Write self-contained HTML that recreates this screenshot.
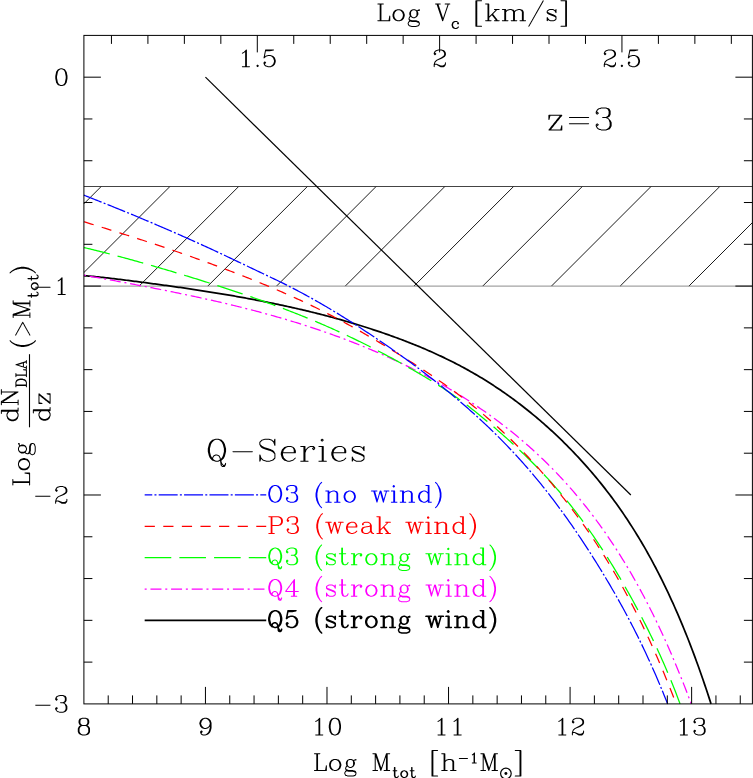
<!DOCTYPE html>
<html><head><meta charset="utf-8"><title>plot</title>
<style>html,body{margin:0;padding:0;background:#fff;font-family:"Liberation Sans",sans-serif}svg{display:block}</style></head>
<body>
<svg width="753" height="778" viewBox="0 0 753 778">
<rect width="753" height="778" fill="#fff"/>
<g stroke="#000" stroke-width="0.9" fill="none">
<line x1="83.9" y1="203.8" x2="101.2" y2="186.5"/>
<line x1="83.9" y1="272.53" x2="169.93" y2="186.5"/>
<line x1="139.06" y1="286.1" x2="238.66" y2="186.5"/>
<line x1="207.79" y1="286.1" x2="307.39" y2="186.5"/>
<line x1="276.52" y1="286.1" x2="376.12" y2="186.5"/>
<line x1="345.25" y1="286.1" x2="444.85" y2="186.5"/>
<line x1="413.98" y1="286.1" x2="513.58" y2="186.5"/>
<line x1="482.71" y1="286.1" x2="582.31" y2="186.5"/>
<line x1="551.44" y1="286.1" x2="651.04" y2="186.5"/>
<line x1="620.17" y1="286.1" x2="719.77" y2="186.5"/>
<line x1="688.9" y1="286.1" x2="752.4" y2="222.6"/>
</g>
<line x1="83.9" y1="186.5" x2="752.4" y2="186.5" stroke="#222" stroke-width="0.85"/>
<line x1="83.9" y1="286.1" x2="752.4" y2="286.1" stroke="#777" stroke-width="0.85"/>
<line x1="205.45" y1="77.18" x2="630.85" y2="494.99" stroke="#000" stroke-width="1.2"/>
<g fill="none" stroke-linecap="butt" stroke-linejoin="round">
<path stroke="#000" stroke-width="1.75" d="M83.9 275.65L85.48 275.78L87.06 275.92L88.64 276.05L90.22 276.2L91.8 276.34L93.38 276.49L94.95 276.65L96.53 276.81L98.11 276.97L99.69 277.13L101.27 277.3L102.85 277.47L104.43 277.64L106.01 277.81L107.59 277.99L109.17 278.17L110.75 278.35L112.33 278.53L113.9 278.72L115.48 278.9L117.06 279.09L118.64 279.28L120.22 279.47L121.8 279.67L123.38 279.86L124.96 280.06L126.54 280.25L128.12 280.45L129.7 280.65L131.28 280.85L132.86 281.06L134.43 281.26L136.01 281.46L137.59 281.67L139.17 281.87L140.75 282.08L142.33 282.29L143.91 282.5L145.49 282.71L147.07 282.92L148.65 283.13L150.23 283.34L151.81 283.55L153.38 283.76L154.96 283.98L156.54 284.19L158.12 284.4L159.7 284.62L161.28 284.84L162.86 285.05L164.44 285.27L166.02 285.49L167.6 285.71L169.18 285.93L170.76 286.15L172.34 286.37L173.91 286.59L175.49 286.82L177.07 287.04L178.65 287.26L180.23 287.49L181.81 287.72L183.39 287.95L184.97 288.17L186.55 288.4L188.13 288.64L189.71 288.87L191.29 289.1L192.86 289.34L194.44 289.57L196.02 289.81L197.6 290.05L199.18 290.29L200.76 290.53L202.34 290.78L203.92 291.02L205.5 291.27L207.08 291.52L208.66 291.77L210.24 292.02L211.82 292.27L213.39 292.53L214.97 292.78L216.55 293.04L218.13 293.3L219.71 293.56L221.29 293.82L222.87 294.09L224.45 294.35L226.03 294.62L227.61 294.89L229.19 295.16L230.77 295.43L232.34 295.71L233.92 295.98L235.5 296.26L237.08 296.54L238.66 296.82L240.24 297.1L241.82 297.39L243.4 297.67L244.98 297.96L246.56 298.25L248.14 298.54L249.72 298.84L251.29 299.13L252.87 299.43L254.45 299.73L256.03 300.03L257.61 300.33L259.19 300.64L260.77 300.94L262.35 301.25L263.93 301.56L265.51 301.88L267.09 302.19L268.67 302.51L270.25 302.83L271.82 303.15L273.4 303.47L274.98 303.8L276.56 304.13L278.14 304.46L279.72 304.79L281.3 305.13L282.88 305.47L284.46 305.81L286.04 306.15L287.62 306.5L289.2 306.84L290.77 307.19L292.35 307.55L293.93 307.9L295.51 308.26L297.09 308.62L298.67 308.98L300.25 309.35L301.83 309.72L303.41 310.09L304.99 310.47L306.57 310.84L308.15 311.22L309.73 311.6L311.3 311.99L312.88 312.38L314.46 312.77L316.04 313.17L317.62 313.56L319.2 313.96L320.78 314.37L322.36 314.77L323.94 315.18L325.52 315.6L327.1 316.01L328.68 316.43L330.25 316.85L331.83 317.28L333.41 317.71L334.99 318.14L336.57 318.58L338.15 319.01L339.73 319.46L341.31 319.9L342.89 320.35L344.47 320.8L346.05 321.26L347.63 321.72L349.21 322.18L350.78 322.64L352.36 323.11L353.94 323.59L355.52 324.06L357.1 324.54L358.68 325.03L360.26 325.52L361.84 326.01L363.42 326.5L365 327L366.58 327.5L368.16 328.01L369.73 328.52L371.31 329.03L372.89 329.55L374.47 330.07L376.05 330.59L377.63 331.12L379.21 331.65L380.79 332.19L382.37 332.73L383.95 333.27L385.53 333.82L387.11 334.37L388.69 334.93L390.26 335.49L391.84 336.06L393.42 336.63L395 337.2L396.58 337.78L398.16 338.36L399.74 338.95L401.32 339.54L402.9 340.14L404.48 340.74L406.06 341.35L407.64 341.96L409.21 342.58L410.79 343.2L412.37 343.83L413.95 344.46L415.53 345.1L417.11 345.75L418.69 346.4L420.27 347.06L421.85 347.72L423.43 348.39L425.01 349.06L426.59 349.74L428.17 350.43L429.74 351.12L431.32 351.82L432.9 352.53L434.48 353.24L436.06 353.96L437.64 354.68L439.22 355.42L440.8 356.16L442.38 356.9L443.96 357.66L445.54 358.42L447.12 359.18L448.69 359.96L450.27 360.74L451.85 361.53L453.43 362.33L455.01 363.14L456.59 363.95L458.17 364.77L459.75 365.6L461.33 366.44L462.91 367.29L464.49 368.14L466.07 369L467.65 369.88L469.22 370.76L470.8 371.64L472.38 372.54L473.96 373.45L475.54 374.37L477.12 375.29L478.7 376.23L480.28 377.17L481.86 378.12L483.44 379.09L485.02 380.06L486.6 381.04L488.17 382.04L489.75 383.04L491.33 384.05L492.91 385.08L494.49 386.11L496.07 387.15L497.65 388.21L499.23 389.27L500.81 390.34L502.39 391.43L503.97 392.52L505.55 393.63L507.13 394.74L508.7 395.87L510.28 397L511.86 398.15L513.44 399.31L515.02 400.48L516.6 401.66L518.18 402.85L519.76 404.05L521.34 405.26L522.92 406.48L524.5 407.72L526.08 408.96L527.65 410.22L529.23 411.49L530.81 412.77L532.39 414.06L533.97 415.36L535.55 416.68L537.13 418L538.71 419.34L540.29 420.69L541.87 422.06L543.45 423.44L545.03 424.82L546.61 426.23L548.18 427.64L549.76 429.07L551.34 430.51L552.92 431.96L554.5 433.43L556.08 434.91L557.66 436.41L559.24 437.91L560.82 439.44L562.4 440.97L563.98 442.53L565.56 444.09L567.13 445.67L568.71 447.27L570.29 448.88L571.87 450.51L573.45 452.15L575.03 453.8L576.61 455.48L578.19 457.17L579.77 458.87L581.35 460.6L582.93 462.34L584.51 464.09L586.08 465.87L587.66 467.66L589.24 469.47L590.82 471.3L592.4 473.14L593.98 475.01L595.56 476.89L597.14 478.8L598.72 480.72L600.3 482.67L601.88 484.64L603.46 486.62L605.04 488.63L606.61 490.67L608.19 492.72L609.77 494.8L611.35 496.9L612.93 499.03L614.51 501.18L616.09 503.35L617.67 505.55L619.25 507.78L620.83 510.04L622.41 512.32L623.99 514.63L625.56 516.97L627.14 519.33L628.72 521.73L630.3 524.16L631.88 526.61L633.46 529.1L635.04 531.62L636.62 534.17L638.2 536.76L639.78 539.37L641.36 542.03L642.94 544.71L644.52 547.43L646.09 550.19L647.67 552.99L649.25 555.82L650.83 558.69L652.41 561.6L653.99 564.54L655.57 567.53L657.15 570.56L658.73 573.63L660.31 576.74L661.89 579.89L663.47 583.09L665.04 586.33L666.62 589.62L668.2 592.95L669.78 596.33L671.36 599.76L672.94 603.23L674.52 606.75L676.1 610.32L677.68 613.95L679.26 617.62L680.84 621.35L682.42 625.13L684 628.96L685.57 632.85L687.15 636.79L688.73 640.8L690.31 644.85L691.89 648.97L693.47 653.14L695.05 657.38L696.63 661.68L698.21 666.04L699.79 670.46L701.37 674.95L702.95 679.5L704.52 684.11L706.1 688.8L707.68 693.55L709.26 698.37L710.84 703.27L711.05 703.9"/>
<path stroke="#ff00ff" stroke-width="1.25" stroke-dasharray="2 3.8 11 3.8" d="M83.9 275.14L85.43 275.42L86.96 275.69L88.49 275.97L90.02 276.25L91.55 276.52L93.08 276.8L94.61 277.08L96.14 277.35L97.67 277.63L99.2 277.91L100.73 278.19L102.26 278.47L103.79 278.75L105.32 279.03L106.85 279.31L108.38 279.59L109.91 279.87L111.44 280.16L112.97 280.44L114.5 280.72L116.03 281.01L117.56 281.29L119.09 281.57L120.62 281.86L122.15 282.15L123.68 282.43L125.21 282.72L126.74 283.01L128.27 283.29L129.8 283.58L131.33 283.87L132.86 284.16L134.39 284.45L135.92 284.74L137.45 285.03L138.98 285.32L140.51 285.62L142.04 285.91L143.57 286.2L145.1 286.5L146.63 286.8L148.16 287.09L149.69 287.39L151.22 287.69L152.75 287.98L154.28 288.28L155.81 288.58L157.34 288.89L158.87 289.19L160.4 289.49L161.93 289.79L163.46 290.1L164.99 290.4L166.52 290.71L168.05 291.02L169.58 291.33L171.11 291.64L172.64 291.95L174.17 292.26L175.7 292.57L177.23 292.89L178.76 293.2L180.29 293.52L181.82 293.83L183.35 294.15L184.88 294.47L186.42 294.79L187.95 295.12L189.48 295.44L191.01 295.76L192.54 296.09L194.07 296.42L195.6 296.75L197.13 297.08L198.66 297.41L200.19 297.74L201.72 298.08L203.25 298.41L204.78 298.75L206.31 299.09L207.84 299.43L209.37 299.77L210.9 300.12L212.43 300.46L213.96 300.81L215.49 301.16L217.02 301.51L218.55 301.86L220.08 302.22L221.61 302.57L223.14 302.93L224.67 303.29L226.2 303.65L227.73 304.02L229.26 304.38L230.79 304.75L232.32 305.12L233.85 305.49L235.38 305.86L236.91 306.24L238.44 306.62L239.97 307L241.5 307.38L243.03 307.76L244.56 308.15L246.09 308.54L247.62 308.93L249.15 309.32L250.68 309.71L252.21 310.11L253.74 310.51L255.27 310.91L256.8 311.31L258.33 311.72L259.86 312.13L261.39 312.54L262.92 312.95L264.45 313.37L265.98 313.79L267.51 314.21L269.04 314.63L270.57 315.06L272.1 315.49L273.63 315.92L275.16 316.35L276.69 316.79L278.22 317.23L279.75 317.67L281.28 318.11L282.81 318.56L284.34 319.01L285.87 319.46L287.4 319.92L288.93 320.38L290.46 320.84L291.99 321.3L293.52 321.77L295.05 322.24L296.58 322.71L298.11 323.18L299.64 323.66L301.17 324.14L302.7 324.63L304.23 325.12L305.76 325.61L307.29 326.1L308.82 326.6L310.35 327.1L311.88 327.6L313.41 328.11L314.94 328.62L316.47 329.13L318 329.64L319.53 330.16L321.06 330.68L322.59 331.21L324.12 331.74L325.65 332.27L327.18 332.81L328.71 333.35L330.24 333.89L331.77 334.43L333.3 334.98L334.83 335.54L336.36 336.09L337.89 336.65L339.42 337.21L340.95 337.78L342.48 338.35L344.01 338.93L345.54 339.5L347.07 340.08L348.6 340.67L350.13 341.26L351.66 341.85L353.19 342.45L354.72 343.05L356.25 343.65L357.78 344.26L359.31 344.87L360.84 345.48L362.37 346.1L363.9 346.73L365.43 347.35L366.96 347.99L368.49 348.62L370.02 349.26L371.55 349.9L373.08 350.55L374.61 351.2L376.14 351.86L377.67 352.52L379.2 353.18L380.73 353.85L382.26 354.52L383.79 355.2L385.32 355.88L386.85 356.57L388.38 357.26L389.92 357.95L391.45 358.65L392.98 359.36L394.51 360.07L396.04 360.78L397.57 361.5L399.1 362.22L400.63 362.95L402.16 363.68L403.69 364.41L405.22 365.15L406.75 365.9L408.28 366.65L409.81 367.41L411.34 368.17L412.87 368.94L414.4 369.71L415.93 370.48L417.46 371.26L418.99 372.05L420.52 372.84L422.05 373.64L423.58 374.44L425.11 375.25L426.64 376.06L428.17 376.88L429.7 377.71L431.23 378.54L432.76 379.37L434.29 380.21L435.82 381.06L437.35 381.91L438.88 382.77L440.41 383.64L441.94 384.51L443.47 385.39L445 386.27L446.53 387.16L448.06 388.05L449.59 388.95L451.12 389.86L452.65 390.78L454.18 391.7L455.71 392.63L457.24 393.56L458.77 394.5L460.3 395.45L461.83 396.4L463.36 397.37L464.89 398.33L466.42 399.31L467.95 400.29L469.48 401.28L471.01 402.28L472.54 403.28L474.07 404.3L475.6 405.32L477.13 406.34L478.66 407.38L480.19 408.42L481.72 409.47L483.25 410.53L484.78 411.6L486.31 412.68L487.84 413.76L489.37 414.85L490.9 415.95L492.43 417.06L493.96 418.18L495.49 419.31L497.02 420.44L498.55 421.59L500.08 422.74L501.61 423.91L503.14 425.08L504.67 426.26L506.2 427.46L507.73 428.66L509.26 429.87L510.79 431.09L512.32 432.32L513.85 433.57L515.38 434.82L516.91 436.08L518.44 437.36L519.97 438.64L521.5 439.94L523.03 441.25L524.56 442.56L526.09 443.89L527.62 445.23L529.15 446.59L530.68 447.95L532.21 449.33L533.74 450.72L535.27 452.12L536.8 453.53L538.33 454.96L539.86 456.4L541.39 457.85L542.92 459.32L544.45 460.8L545.98 462.29L547.51 463.8L549.04 465.32L550.57 466.85L552.1 468.4L553.63 469.96L555.16 471.54L556.69 473.13L558.22 474.74L559.75 476.37L561.28 478L562.81 479.66L564.34 481.33L565.87 483.02L567.4 484.72L568.93 486.44L570.46 488.17L571.99 489.93L573.52 491.7L575.05 493.49L576.58 495.29L578.11 497.12L579.64 498.96L581.17 500.82L582.7 502.7L584.23 504.6L585.76 506.51L587.29 508.45L588.82 510.41L590.35 512.39L591.88 514.38L593.42 516.4L594.95 518.44L596.48 520.5L598.01 522.58L599.54 524.68L601.07 526.81L602.6 528.96L604.13 531.13L605.66 533.32L607.19 535.54L608.72 537.78L610.25 540.04L611.78 542.33L613.31 544.64L614.84 546.98L616.37 549.34L617.9 551.73L619.43 554.14L620.96 556.58L622.49 559.05L624.02 561.54L625.55 564.06L627.08 566.61L628.61 569.19L630.14 571.79L631.67 574.43L633.2 577.09L634.73 579.78L636.26 582.51L637.79 585.26L639.32 588.04L640.85 590.86L642.38 593.7L643.91 596.58L645.44 599.49L646.97 602.44L648.5 605.41L650.03 608.42L651.56 611.47L653.09 614.55L654.62 617.66L656.15 620.81L657.68 624L659.21 627.22L660.74 630.48L662.27 633.78L663.8 637.11L665.33 640.48L666.86 643.89L668.39 647.34L669.92 650.83L671.45 654.36L672.98 657.94L674.51 661.55L676.04 665.2L677.57 668.9L679.1 672.64L680.63 676.42L682.16 680.25L683.69 684.12L685.22 688.04L686.75 692.01L688.28 696.01L689.81 700.07L691.24 703.9"/>
<path stroke="#00ff00" stroke-width="1.25" stroke-dasharray="26.6 8.1" d="M83.9 247.55L85.4 247.9L86.9 248.25L88.4 248.61L89.91 248.97L91.41 249.34L92.91 249.7L94.41 250.07L95.91 250.44L97.41 250.82L98.92 251.19L100.42 251.57L101.92 251.95L103.42 252.34L104.92 252.72L106.42 253.11L107.92 253.5L109.43 253.89L110.93 254.28L112.43 254.68L113.93 255.07L115.43 255.47L116.93 255.87L118.43 256.28L119.94 256.68L121.44 257.08L122.94 257.49L124.44 257.9L125.94 258.31L127.44 258.72L128.95 259.13L130.45 259.55L131.95 259.96L133.45 260.38L134.95 260.8L136.45 261.22L137.95 261.64L139.46 262.06L140.96 262.49L142.46 262.91L143.96 263.34L145.46 263.77L146.96 264.2L148.46 264.63L149.97 265.06L151.47 265.49L152.97 265.92L154.47 266.36L155.97 266.79L157.47 267.23L158.98 267.67L160.48 268.11L161.98 268.55L163.48 268.99L164.98 269.43L166.48 269.87L167.98 270.32L169.49 270.76L170.99 271.21L172.49 271.66L173.99 272.1L175.49 272.55L176.99 273.01L178.49 273.46L180 273.91L181.5 274.37L183 274.82L184.5 275.28L186 275.73L187.5 276.19L189.01 276.65L190.51 277.11L192.01 277.58L193.51 278.04L195.01 278.5L196.51 278.97L198.01 279.44L199.52 279.91L201.02 280.37L202.52 280.85L204.02 281.32L205.52 281.79L207.02 282.27L208.52 282.74L210.03 283.22L211.53 283.7L213.03 284.18L214.53 284.66L216.03 285.14L217.53 285.62L219.04 286.11L220.54 286.6L222.04 287.09L223.54 287.58L225.04 288.07L226.54 288.56L228.04 289.06L229.55 289.55L231.05 290.05L232.55 290.55L234.05 291.05L235.55 291.55L237.05 292.06L238.55 292.56L240.06 293.07L241.56 293.58L243.06 294.09L244.56 294.61L246.06 295.12L247.56 295.64L249.07 296.16L250.57 296.68L252.07 297.2L253.57 297.73L255.07 298.25L256.57 298.78L258.07 299.31L259.58 299.84L261.08 300.38L262.58 300.92L264.08 301.46L265.58 302L267.08 302.54L268.58 303.09L270.09 303.64L271.59 304.19L273.09 304.74L274.59 305.3L276.09 305.85L277.59 306.41L279.1 306.98L280.6 307.54L282.1 308.11L283.6 308.68L285.1 309.25L286.6 309.83L288.1 310.41L289.61 310.99L291.11 311.57L292.61 312.16L294.11 312.74L295.61 313.34L297.11 313.93L298.62 314.53L300.12 315.13L301.62 315.73L303.12 316.34L304.62 316.94L306.12 317.56L307.62 318.17L309.13 318.79L310.63 319.41L312.13 320.03L313.63 320.66L315.13 321.29L316.63 321.92L318.13 322.56L319.64 323.2L321.14 323.84L322.64 324.49L324.14 325.14L325.64 325.79L327.14 326.45L328.65 327.11L330.15 327.77L331.65 328.44L333.15 329.11L334.65 329.78L336.15 330.46L337.65 331.14L339.16 331.83L340.66 332.52L342.16 333.21L343.66 333.9L345.16 334.6L346.66 335.31L348.16 336.01L349.67 336.72L351.17 337.44L352.67 338.16L354.17 338.88L355.67 339.61L357.17 340.34L358.68 341.07L360.18 341.81L361.68 342.55L363.18 343.29L364.68 344.04L366.18 344.79L367.68 345.55L369.19 346.31L370.69 347.07L372.19 347.84L373.69 348.61L375.19 349.38L376.69 350.16L378.19 350.94L379.7 351.72L381.2 352.51L382.7 353.3L384.2 354.09L385.7 354.89L387.2 355.69L388.71 356.49L390.21 357.3L391.71 358.11L393.21 358.92L394.71 359.74L396.21 360.56L397.71 361.39L399.22 362.21L400.72 363.04L402.22 363.88L403.72 364.72L405.22 365.56L406.72 366.4L408.22 367.25L409.73 368.1L411.23 368.95L412.73 369.8L414.23 370.67L415.73 371.53L417.23 372.4L418.74 373.27L420.24 374.15L421.74 375.03L423.24 375.92L424.74 376.81L426.24 377.71L427.74 378.62L429.25 379.53L430.75 380.45L432.25 381.37L433.75 382.3L435.25 383.24L436.75 384.18L438.25 385.14L439.76 386.1L441.26 387.06L442.76 388.04L444.26 389.02L445.76 390.02L447.26 391.02L448.77 392.03L450.27 393.05L451.77 394.08L453.27 395.12L454.77 396.17L456.27 397.23L457.77 398.31L459.28 399.39L460.78 400.48L462.28 401.59L463.78 402.7L465.28 403.83L466.78 404.97L468.28 406.12L469.79 407.29L471.29 408.46L472.79 409.65L474.29 410.84L475.79 412.05L477.29 413.26L478.8 414.48L480.3 415.71L481.8 416.95L483.3 418.19L484.8 419.44L486.3 420.69L487.8 421.95L489.31 423.22L490.81 424.49L492.31 425.76L493.81 427.04L495.31 428.33L496.81 429.62L498.32 430.92L499.82 432.22L501.32 433.53L502.82 434.85L504.32 436.18L505.82 437.51L507.32 438.85L508.83 440.2L510.33 441.56L511.83 442.92L513.33 444.29L514.83 445.67L516.33 447.06L517.83 448.46L519.34 449.87L520.84 451.29L522.34 452.71L523.84 454.15L525.34 455.6L526.84 457.06L528.35 458.53L529.85 460L531.35 461.5L532.85 463L534.35 464.51L535.85 466.04L537.35 467.57L538.86 469.12L540.36 470.69L541.86 472.26L543.36 473.85L544.86 475.45L546.36 477.07L547.86 478.7L549.37 480.34L550.87 482L552.37 483.68L553.87 485.36L555.37 487.07L556.87 488.79L558.38 490.52L559.88 492.27L561.38 494.04L562.88 495.83L564.38 497.63L565.88 499.45L567.38 501.28L568.89 503.14L570.39 505.01L571.89 506.9L573.39 508.81L574.89 510.74L576.39 512.69L577.89 514.66L579.4 516.65L580.9 518.66L582.4 520.69L583.9 522.73L585.4 524.8L586.9 526.88L588.41 528.99L589.91 531.12L591.41 533.26L592.91 535.43L594.41 537.61L595.91 539.82L597.41 542.05L598.92 544.29L600.42 546.56L601.92 548.85L603.42 551.16L604.92 553.48L606.42 555.83L607.92 558.2L609.43 560.59L610.93 563.01L612.43 565.44L613.93 567.9L615.43 570.37L616.93 572.87L618.44 575.39L619.94 577.93L621.44 580.49L622.94 583.08L624.44 585.69L625.94 588.32L627.44 590.97L628.95 593.65L630.45 596.34L631.95 599.07L633.45 601.81L634.95 604.58L636.45 607.37L637.95 610.19L639.46 613.03L640.96 615.89L642.46 618.78L643.96 621.7L645.46 624.65L646.96 627.63L648.47 630.64L649.97 633.68L651.47 636.76L652.97 639.88L654.47 643.03L655.97 646.22L657.47 649.45L658.98 652.72L660.48 656.04L661.98 659.4L663.48 662.8L664.98 666.25L666.48 669.75L667.98 673.3L669.49 676.9L670.99 680.56L672.49 684.27L673.99 688.03L675.49 691.85L676.99 695.73L678.5 699.66L680 703.66L680.09 703.9"/>
<path stroke="#ff0000" stroke-width="1.25" stroke-dasharray="10.2 8.4" d="M83.9 221.76L85.39 222.21L86.88 222.67L88.37 223.13L89.87 223.59L91.36 224.05L92.85 224.51L94.34 224.97L95.83 225.43L97.32 225.89L98.81 226.35L100.31 226.81L101.8 227.27L103.29 227.73L104.78 228.2L106.27 228.66L107.76 229.13L109.26 229.59L110.75 230.06L112.24 230.52L113.73 230.99L115.22 231.46L116.71 231.93L118.2 232.4L119.7 232.87L121.19 233.34L122.68 233.81L124.17 234.28L125.66 234.75L127.15 235.23L128.64 235.7L130.14 236.18L131.63 236.66L133.12 237.14L134.61 237.61L136.1 238.09L137.59 238.58L139.08 239.06L140.58 239.54L142.07 240.03L143.56 240.51L145.05 241L146.54 241.48L148.03 241.97L149.53 242.46L151.02 242.95L152.51 243.45L154 243.94L155.49 244.43L156.98 244.93L158.47 245.43L159.97 245.92L161.46 246.42L162.95 246.93L164.44 247.43L165.93 247.93L167.42 248.44L168.91 248.94L170.41 249.45L171.9 249.96L173.39 250.47L174.88 250.98L176.37 251.49L177.86 252.01L179.35 252.52L180.85 253.04L182.34 253.56L183.83 254.08L185.32 254.6L186.81 255.12L188.3 255.65L189.79 256.17L191.29 256.7L192.78 257.23L194.27 257.76L195.76 258.29L197.25 258.83L198.74 259.36L200.24 259.9L201.73 260.44L203.22 260.98L204.71 261.52L206.2 262.06L207.69 262.61L209.18 263.15L210.68 263.7L212.17 264.25L213.66 264.8L215.15 265.35L216.64 265.91L218.13 266.46L219.62 267.02L221.12 267.58L222.61 268.14L224.1 268.7L225.59 269.27L227.08 269.84L228.57 270.4L230.06 270.97L231.56 271.54L233.05 272.12L234.54 272.69L236.03 273.27L237.52 273.85L239.01 274.43L240.51 275.01L242 275.59L243.49 276.18L244.98 276.76L246.47 277.35L247.96 277.94L249.45 278.54L250.95 279.13L252.44 279.73L253.93 280.32L255.42 280.92L256.91 281.53L258.4 282.13L259.89 282.74L261.39 283.35L262.88 283.96L264.37 284.57L265.86 285.19L267.35 285.81L268.84 286.43L270.33 287.06L271.83 287.68L273.32 288.31L274.81 288.95L276.3 289.58L277.79 290.22L279.28 290.86L280.78 291.51L282.27 292.16L283.76 292.81L285.25 293.46L286.74 294.12L288.23 294.78L289.72 295.44L291.22 296.11L292.71 296.78L294.2 297.46L295.69 298.13L297.18 298.82L298.67 299.5L300.16 300.19L301.66 300.88L303.15 301.58L304.64 302.28L306.13 302.99L307.62 303.7L309.11 304.41L310.6 305.13L312.1 305.85L313.59 306.58L315.08 307.31L316.57 308.04L318.06 308.78L319.55 309.52L321.05 310.27L322.54 311.02L324.03 311.78L325.52 312.54L327.01 313.3L328.5 314.07L329.99 314.84L331.49 315.61L332.98 316.39L334.47 317.18L335.96 317.96L337.45 318.75L338.94 319.55L340.43 320.35L341.93 321.15L343.42 321.96L344.91 322.77L346.4 323.58L347.89 324.4L349.38 325.22L350.87 326.04L352.37 326.87L353.86 327.7L355.35 328.54L356.84 329.37L358.33 330.21L359.82 331.06L361.32 331.91L362.81 332.76L364.3 333.62L365.79 334.47L367.28 335.34L368.77 336.2L370.26 337.07L371.76 337.94L373.25 338.81L374.74 339.69L376.23 340.57L377.72 341.46L379.21 342.34L380.7 343.24L382.2 344.13L383.69 345.03L385.18 345.92L386.67 346.83L388.16 347.73L389.65 348.64L391.14 349.55L392.64 350.47L394.13 351.39L395.62 352.31L397.11 353.23L398.6 354.16L400.09 355.08L401.58 356.02L403.08 356.95L404.57 357.89L406.06 358.83L407.55 359.77L409.04 360.72L410.53 361.67L412.03 362.62L413.52 363.58L415.01 364.54L416.5 365.5L417.99 366.46L419.48 367.43L420.97 368.41L422.47 369.38L423.96 370.37L425.45 371.35L426.94 372.34L428.43 373.33L429.92 374.33L431.41 375.34L432.91 376.35L434.4 377.36L435.89 378.38L437.38 379.4L438.87 380.43L440.36 381.47L441.85 382.51L443.35 383.55L444.84 384.61L446.33 385.67L447.82 386.73L449.31 387.8L450.8 388.88L452.3 389.97L453.79 391.06L455.28 392.16L456.77 393.27L458.26 394.38L459.75 395.5L461.24 396.63L462.74 397.77L464.23 398.92L465.72 400.07L467.21 401.23L468.7 402.4L470.19 403.58L471.68 404.77L473.18 405.97L474.67 407.17L476.16 408.39L477.65 409.62L479.14 410.85L480.63 412.1L482.12 413.35L483.62 414.62L485.11 415.89L486.6 417.18L488.09 418.47L489.58 419.77L491.07 421.09L492.57 422.41L494.06 423.74L495.55 425.09L497.04 426.44L498.53 427.81L500.02 429.18L501.51 430.56L503.01 431.96L504.5 433.36L505.99 434.78L507.48 436.21L508.97 437.64L510.46 439.09L511.95 440.55L513.45 442.02L514.94 443.49L516.43 444.98L517.92 446.49L519.41 448L520.9 449.52L522.39 451.05L523.89 452.6L525.38 454.16L526.87 455.72L528.36 457.3L529.85 458.9L531.34 460.5L532.84 462.11L534.33 463.74L535.82 465.38L537.31 467.03L538.8 468.69L540.29 470.36L541.78 472.05L543.28 473.75L544.77 475.46L546.26 477.19L547.75 478.92L549.24 480.67L550.73 482.44L552.22 484.21L553.72 486L555.21 487.81L556.7 489.62L558.19 491.45L559.68 493.3L561.17 495.15L562.66 497.03L564.16 498.91L565.65 500.81L567.14 502.73L568.63 504.65L570.12 506.6L571.61 508.56L573.11 510.54L574.6 512.53L576.09 514.54L577.58 516.56L579.07 518.6L580.56 520.66L582.05 522.74L583.55 524.83L585.04 526.94L586.53 529.07L588.02 531.22L589.51 533.39L591 535.58L592.49 537.79L593.99 540.01L595.48 542.26L596.97 544.53L598.46 546.82L599.95 549.12L601.44 551.46L602.93 553.81L604.43 556.18L605.92 558.58L607.41 561L608.9 563.45L610.39 565.91L611.88 568.4L613.37 570.92L614.87 573.46L616.36 576.02L617.85 578.61L619.34 581.23L620.83 583.87L622.32 586.54L623.82 589.23L625.31 591.96L626.8 594.71L628.29 597.48L629.78 600.29L631.27 603.12L632.76 605.99L634.26 608.88L635.75 611.8L637.24 614.76L638.73 617.74L640.22 620.76L641.71 623.8L643.2 626.88L644.7 629.99L646.19 633.14L647.68 636.32L649.17 639.53L650.66 642.77L652.15 646.05L653.64 649.37L655.14 652.72L656.63 656.1L658.12 659.52L659.61 662.98L661.1 666.48L662.59 670.01L664.09 673.59L665.58 677.2L667.07 680.85L668.56 684.54L670.05 688.27L671.54 692.04L673.03 695.85L674.53 699.7L676.02 703.6L676.13 703.9"/>
<path stroke="#0000ff" stroke-width="1.25" stroke-dasharray="19 2.2 2 2.2" d="M83.9 195.19L85.37 195.76L86.84 196.34L88.31 196.91L89.78 197.49L91.25 198.07L92.72 198.64L94.19 199.22L95.66 199.8L97.13 200.39L98.6 200.97L100.07 201.55L101.54 202.14L103.01 202.73L104.48 203.31L105.95 203.9L107.42 204.49L108.89 205.08L110.36 205.67L111.83 206.27L113.3 206.86L114.77 207.46L116.24 208.05L117.71 208.65L119.18 209.25L120.65 209.85L122.12 210.45L123.59 211.05L125.06 211.65L126.53 212.26L128 212.86L129.47 213.47L130.94 214.07L132.41 214.68L133.88 215.29L135.35 215.9L136.82 216.51L138.29 217.13L139.76 217.74L141.23 218.35L142.7 218.97L144.17 219.59L145.64 220.21L147.11 220.83L148.58 221.45L150.05 222.07L151.52 222.69L152.99 223.32L154.46 223.94L155.93 224.57L157.4 225.2L158.87 225.83L160.34 226.46L161.81 227.09L163.28 227.72L164.75 228.35L166.22 228.99L167.69 229.63L169.16 230.26L170.63 230.9L172.1 231.54L173.57 232.19L175.04 232.83L176.51 233.47L177.98 234.12L179.45 234.77L180.92 235.42L182.38 236.07L183.85 236.72L185.32 237.37L186.79 238.02L188.26 238.68L189.73 239.34L191.2 239.99L192.67 240.65L194.14 241.32L195.61 241.98L197.08 242.64L198.55 243.31L200.02 243.97L201.49 244.64L202.96 245.31L204.43 245.99L205.9 246.66L207.37 247.33L208.84 248.01L210.31 248.69L211.78 249.37L213.25 250.05L214.72 250.73L216.19 251.42L217.66 252.1L219.13 252.79L220.6 253.48L222.07 254.17L223.54 254.86L225.01 255.55L226.48 256.25L227.95 256.95L229.42 257.64L230.89 258.34L232.36 259.04L233.83 259.74L235.3 260.44L236.77 261.14L238.24 261.84L239.71 262.54L241.18 263.24L242.65 263.95L244.12 264.65L245.59 265.35L247.06 266.05L248.53 266.76L250 267.46L251.47 268.16L252.94 268.86L254.41 269.56L255.88 270.26L257.35 270.96L258.82 271.66L260.29 272.36L261.76 273.06L263.23 273.75L264.7 274.45L266.17 275.15L267.64 275.85L269.11 276.54L270.58 277.24L272.05 277.94L273.52 278.65L274.99 279.35L276.46 280.06L277.93 280.77L279.4 281.48L280.87 282.2L282.34 282.92L283.81 283.65L285.28 284.38L286.75 285.11L288.22 285.85L289.69 286.6L291.16 287.35L292.63 288.11L294.1 288.87L295.57 289.63L297.04 290.4L298.51 291.18L299.98 291.96L301.45 292.75L302.92 293.54L304.39 294.33L305.86 295.13L307.33 295.94L308.8 296.75L310.27 297.56L311.74 298.38L313.21 299.21L314.68 300.03L316.15 300.87L317.62 301.7L319.09 302.55L320.56 303.39L322.03 304.24L323.5 305.1L324.97 305.96L326.44 306.82L327.91 307.69L329.38 308.56L330.85 309.44L332.32 310.32L333.79 311.2L335.26 312.09L336.73 312.99L338.2 313.88L339.67 314.78L341.14 315.69L342.61 316.6L344.08 317.51L345.55 318.43L347.02 319.35L348.49 320.27L349.96 321.2L351.43 322.13L352.9 323.07L354.37 324.01L355.84 324.95L357.31 325.9L358.78 326.85L360.25 327.8L361.72 328.76L363.19 329.72L364.66 330.68L366.13 331.65L367.6 332.62L369.07 333.6L370.54 334.57L372.01 335.56L373.48 336.54L374.95 337.53L376.42 338.52L377.88 339.51L379.35 340.51L380.82 341.51L382.29 342.52L383.76 343.52L385.23 344.53L386.7 345.55L388.17 346.57L389.64 347.59L391.11 348.61L392.58 349.64L394.05 350.67L395.52 351.71L396.99 352.74L398.46 353.79L399.93 354.83L401.4 355.88L402.87 356.94L404.34 357.99L405.81 359.06L407.28 360.12L408.75 361.19L410.22 362.27L411.69 363.35L413.16 364.43L414.63 365.52L416.1 366.61L417.57 367.7L419.04 368.8L420.51 369.91L421.98 371.02L423.45 372.13L424.92 373.25L426.39 374.38L427.86 375.5L429.33 376.64L430.8 377.78L432.27 378.92L433.74 380.07L435.21 381.22L436.68 382.38L438.15 383.55L439.62 384.72L441.09 385.89L442.56 387.07L444.03 388.26L445.5 389.45L446.97 390.65L448.44 391.85L449.91 393.06L451.38 394.28L452.85 395.5L454.32 396.73L455.79 397.96L457.26 399.2L458.73 400.45L460.2 401.7L461.67 402.96L463.14 404.23L464.61 405.5L466.08 406.78L467.55 408.07L469.02 409.36L470.49 410.66L471.96 411.97L473.43 413.29L474.9 414.61L476.37 415.94L477.84 417.28L479.31 418.63L480.78 419.98L482.25 421.35L483.72 422.72L485.19 424.1L486.66 425.49L488.13 426.88L489.6 428.29L491.07 429.71L492.54 431.13L494.01 432.56L495.48 434.01L496.95 435.46L498.42 436.92L499.89 438.4L501.36 439.88L502.83 441.37L504.3 442.87L505.77 444.39L507.24 445.91L508.71 447.45L510.18 448.99L511.65 450.55L513.12 452.11L514.59 453.69L516.06 455.28L517.53 456.89L519 458.5L520.47 460.13L521.94 461.76L523.41 463.41L524.88 465.08L526.35 466.75L527.82 468.44L529.29 470.14L530.76 471.85L532.23 473.58L533.7 475.32L535.17 477.08L536.64 478.84L538.11 480.63L539.58 482.42L541.05 484.23L542.52 486.06L543.99 487.9L545.46 489.75L546.93 491.61L548.4 493.49L549.87 495.39L551.34 497.29L552.81 499.22L554.28 501.15L555.75 503.1L557.22 505.07L558.69 507.04L560.16 509.04L561.63 511.04L563.1 513.06L564.57 515.1L566.04 517.15L567.51 519.21L568.98 521.29L570.45 523.38L571.92 525.48L573.38 527.61L574.85 529.74L576.32 531.89L577.79 534.05L579.26 536.23L580.73 538.42L582.2 540.63L583.67 542.85L585.14 545.09L586.61 547.34L588.08 549.61L589.55 551.89L591.02 554.19L592.49 556.5L593.96 558.83L595.43 561.17L596.9 563.53L598.37 565.9L599.84 568.29L601.31 570.69L602.78 573.11L604.25 575.54L605.72 577.99L607.19 580.46L608.66 582.94L610.13 585.44L611.6 587.96L613.07 590.5L614.54 593.05L616.01 595.63L617.48 598.22L618.95 600.84L620.42 603.48L621.89 606.14L623.36 608.82L624.83 611.53L626.3 614.26L627.77 617.01L629.24 619.8L630.71 622.61L632.18 625.44L633.65 628.31L635.12 631.2L636.59 634.12L638.06 637.07L639.53 640.06L641 643.07L642.47 646.12L643.94 649.2L645.41 652.31L646.88 655.46L648.35 658.64L649.82 661.86L651.29 665.11L652.76 668.4L654.23 671.73L655.7 675.1L657.17 678.51L658.64 681.96L660.11 685.45L661.58 688.98L663.05 692.55L664.52 696.17L665.99 699.83L667.46 703.53L667.61 703.9"/>
</g>
<line x1="144.67" y1="494.99" x2="266.22" y2="494.99" stroke="#0000ff" stroke-width="1.25" stroke-dasharray="19 2.2 2 2.2" stroke-dashoffset="11.4"/>
<line x1="144.67" y1="526.33" x2="266.22" y2="526.33" stroke="#ff0000" stroke-width="1.25" stroke-dasharray="10.2 8.4"/>
<line x1="144.67" y1="557.67" x2="266.22" y2="557.67" stroke="#00ff00" stroke-width="1.25" stroke-dasharray="26.6 8.1"/>
<line x1="144.67" y1="589" x2="266.22" y2="589" stroke="#ff00ff" stroke-width="1.25" stroke-dasharray="2 3.8 11 3.8"/>
<line x1="144.67" y1="620.34" x2="266.22" y2="620.34" stroke="#000" stroke-width="1.75"/>
<g stroke="#000" stroke-width="1.0" fill="none">
<rect x="83.9" y="35.4" width="668.5" height="668.5"/>
<line x1="108.21" y1="703.9" x2="108.21" y2="695.4"/>
<line x1="132.52" y1="703.9" x2="132.52" y2="695.4"/>
<line x1="156.83" y1="703.9" x2="156.83" y2="695.4"/>
<line x1="181.14" y1="703.9" x2="181.14" y2="695.4"/>
<line x1="205.45" y1="703.9" x2="205.45" y2="686.9"/>
<line x1="229.75" y1="703.9" x2="229.75" y2="695.4"/>
<line x1="254.06" y1="703.9" x2="254.06" y2="695.4"/>
<line x1="278.37" y1="703.9" x2="278.37" y2="695.4"/>
<line x1="302.68" y1="703.9" x2="302.68" y2="695.4"/>
<line x1="326.99" y1="703.9" x2="326.99" y2="686.9"/>
<line x1="351.3" y1="703.9" x2="351.3" y2="695.4"/>
<line x1="375.61" y1="703.9" x2="375.61" y2="695.4"/>
<line x1="399.92" y1="703.9" x2="399.92" y2="695.4"/>
<line x1="424.23" y1="703.9" x2="424.23" y2="695.4"/>
<line x1="448.54" y1="703.9" x2="448.54" y2="686.9"/>
<line x1="472.85" y1="703.9" x2="472.85" y2="695.4"/>
<line x1="497.15" y1="703.9" x2="497.15" y2="695.4"/>
<line x1="521.46" y1="703.9" x2="521.46" y2="695.4"/>
<line x1="545.77" y1="703.9" x2="545.77" y2="695.4"/>
<line x1="570.08" y1="703.9" x2="570.08" y2="686.9"/>
<line x1="594.39" y1="703.9" x2="594.39" y2="695.4"/>
<line x1="618.7" y1="703.9" x2="618.7" y2="695.4"/>
<line x1="643.01" y1="703.9" x2="643.01" y2="695.4"/>
<line x1="667.32" y1="703.9" x2="667.32" y2="695.4"/>
<line x1="691.63" y1="703.9" x2="691.63" y2="686.9"/>
<line x1="715.94" y1="703.9" x2="715.94" y2="695.4"/>
<line x1="740.25" y1="703.9" x2="740.25" y2="695.4"/>
<line x1="111.45" y1="35.4" x2="111.45" y2="43.9"/>
<line x1="147.91" y1="35.4" x2="147.91" y2="43.9"/>
<line x1="184.37" y1="35.4" x2="184.37" y2="43.9"/>
<line x1="220.84" y1="35.4" x2="220.84" y2="43.9"/>
<line x1="257.3" y1="35.4" x2="257.3" y2="52.4"/>
<line x1="293.76" y1="35.4" x2="293.76" y2="43.9"/>
<line x1="330.23" y1="35.4" x2="330.23" y2="43.9"/>
<line x1="366.69" y1="35.4" x2="366.69" y2="43.9"/>
<line x1="403.15" y1="35.4" x2="403.15" y2="43.9"/>
<line x1="439.62" y1="35.4" x2="439.62" y2="52.4"/>
<line x1="476.08" y1="35.4" x2="476.08" y2="43.9"/>
<line x1="512.55" y1="35.4" x2="512.55" y2="43.9"/>
<line x1="549.01" y1="35.4" x2="549.01" y2="43.9"/>
<line x1="585.47" y1="35.4" x2="585.47" y2="43.9"/>
<line x1="621.94" y1="35.4" x2="621.94" y2="52.4"/>
<line x1="658.4" y1="35.4" x2="658.4" y2="43.9"/>
<line x1="694.86" y1="35.4" x2="694.86" y2="43.9"/>
<line x1="731.33" y1="35.4" x2="731.33" y2="43.9"/>
<line x1="83.9" y1="77.18" x2="100.9" y2="77.18"/>
<line x1="752.4" y1="77.18" x2="735.4" y2="77.18"/>
<line x1="83.9" y1="118.96" x2="92.4" y2="118.96"/>
<line x1="752.4" y1="118.96" x2="743.9" y2="118.96"/>
<line x1="83.9" y1="160.74" x2="92.4" y2="160.74"/>
<line x1="752.4" y1="160.74" x2="743.9" y2="160.74"/>
<line x1="83.9" y1="202.53" x2="92.4" y2="202.53"/>
<line x1="752.4" y1="202.53" x2="743.9" y2="202.53"/>
<line x1="83.9" y1="244.31" x2="92.4" y2="244.31"/>
<line x1="752.4" y1="244.31" x2="743.9" y2="244.31"/>
<line x1="83.9" y1="286.09" x2="100.9" y2="286.09"/>
<line x1="752.4" y1="286.09" x2="735.4" y2="286.09"/>
<line x1="83.9" y1="327.87" x2="92.4" y2="327.87"/>
<line x1="752.4" y1="327.87" x2="743.9" y2="327.87"/>
<line x1="83.9" y1="369.65" x2="92.4" y2="369.65"/>
<line x1="752.4" y1="369.65" x2="743.9" y2="369.65"/>
<line x1="83.9" y1="411.43" x2="92.4" y2="411.43"/>
<line x1="752.4" y1="411.43" x2="743.9" y2="411.43"/>
<line x1="83.9" y1="453.21" x2="92.4" y2="453.21"/>
<line x1="752.4" y1="453.21" x2="743.9" y2="453.21"/>
<line x1="83.9" y1="494.99" x2="100.9" y2="494.99"/>
<line x1="752.4" y1="494.99" x2="735.4" y2="494.99"/>
<line x1="83.9" y1="536.78" x2="92.4" y2="536.78"/>
<line x1="752.4" y1="536.78" x2="743.9" y2="536.78"/>
<line x1="83.9" y1="578.56" x2="92.4" y2="578.56"/>
<line x1="752.4" y1="578.56" x2="743.9" y2="578.56"/>
<line x1="83.9" y1="620.34" x2="92.4" y2="620.34"/>
<line x1="752.4" y1="620.34" x2="743.9" y2="620.34"/>
<line x1="83.9" y1="662.12" x2="92.4" y2="662.12"/>
<line x1="752.4" y1="662.12" x2="743.9" y2="662.12"/>
</g>
<g id="text">
<path transform="translate(376.16 20.8)" fill="#000" fill-rule="evenodd" d="M36.65 -11.62L34.89 -10.75L34.13 -10L33.25 -8.38L33.25 -8.12L33.12 -8L33.12 -6.38L33.75 -4.88L33.25 -4.38L32.37 -2.62L32.49 -2.5L32.37 -2.38L32.37 -1.62L32.49 -1.5L32.37 -1.38L33.12 0.12L33 0.25L32.75 0.25L32.37 0.62L32.12 1.25L31.86 1.5L31.49 2.38L31.49 3.12L32.37 5L32.49 5L32.62 5.25L32.87 5.38L33.12 5.38L33.25 5.5L33.5 5.5L33.63 5.62L33.88 5.62L34.76 6L35.14 6L35.26 6.12L40.05 6.12L40.18 6L40.43 6L40.55 5.88L42.32 5.38L42.95 5L43.7 3.5L43.58 3.25L43.7 3.12L43.7 2.38L43.58 2.25L43.7 2.12L42.95 0.62L42.44 0.25L42.19 0.25L42.07 0.12L41.81 0.12L41.69 0L41.44 0L41.31 -0.12L41.06 -0.12L40.18 -0.5L35.89 -0.5L35.77 -0.62L35.52 -0.62L35.39 -0.75L35.14 -0.75L35.01 -0.88L34.13 -1.12L33.38 -1.88L33.38 -2.38L34 -3.62L34.38 -4L34.51 -4L35.01 -3.5L36.9 -2.62L38.41 -2.62L40.3 -3.5L41.31 -4.5L42.19 -6.38L42.19 -8L41.44 -9.38L41.94 -9.88L43.2 -9.88L43.45 -10L43.7 -10.38L43.7 -11.12L43.45 -11.5L43.07 -11.62L41.31 -10.75L40.93 -10.38L40.81 -10.38L40.43 -10.75L38.66 -11.62L38.54 -11.5L38.41 -11.62L36.9 -11.62L36.78 -11.5ZM32.49 2.5L33.25 1.12L33.5 1.12L33.63 1L34.51 0.75L34.63 0.88L34.89 0.88L35.77 1.25L40.05 1.25L40.18 1.38L40.43 1.38L40.55 1.5L40.81 1.5L40.93 1.62L41.18 1.62L41.56 1.88L42.07 2L42.69 2.62L42.69 3.25L42.07 4.38L41.18 4.62L41.06 4.75L40.81 4.75L40.68 4.88L40.43 4.88L40.3 5L40.05 5L39.92 5.12L35.39 5.12L35.26 5L35.01 5L34.89 4.88L34.63 4.88L34.51 4.75L34.26 4.75L34.13 4.62L33.25 4.38L32.49 3ZM36.9 -10.62L38.29 -10.62L39.55 -10L39.8 -9.75L40.3 -8.75L40.3 -5.5L39.92 -4.75L39.42 -4.25L38.16 -3.62L37.03 -3.62L35.77 -4.25L35.52 -4.5L34.89 -5.75L34.89 -8.5L35.26 -9.12L35.26 -9.38L35.52 -9.88ZM21.41 -11.62L21.28 -11.5L21.03 -11.5L20.91 -11.38L20.65 -11.38L20.53 -11.25L20.28 -11.25L20.15 -11.12L19.9 -11.12L19.77 -11L18.89 -10.75L17.25 -9.12L17 -8.62L16.5 -6.88L16.37 -6.75L16.37 -4.38L16.5 -4.25L16.5 -4L16.62 -3.88L16.62 -3.62L16.75 -3.5L16.75 -3.25L16.88 -3.12L16.88 -2.88L17.25 -2L18.77 -0.5L18.89 -0.5L19.14 -0.25L19.4 -0.25L19.52 -0.12L19.77 -0.12L19.9 0L20.15 0L20.28 0.12L20.53 0.12L21.41 0.5L21.54 0.38L21.66 0.5L23.17 0.5L23.3 0.38L23.43 0.5L23.55 0.38L23.8 0.38L23.93 0.25L24.18 0.25L24.31 0.12L24.56 0.12L24.68 0L24.94 0L25.06 -0.12L25.94 -0.38L27.58 -2L27.83 -2.5L27.83 -2.75L27.96 -2.88L28.46 -4.62L28.59 -4.75L28.59 -6.38L28.46 -6.5L28.46 -6.75L28.34 -6.88L28.34 -7.12L28.21 -7.25L28.21 -7.5L28.09 -7.62L28.09 -7.88L27.96 -8L27.96 -8.25L27.58 -9.12L25.82 -10.88L25.57 -10.88L25.44 -11L25.19 -11L25.06 -11.12L24.81 -11.12L24.68 -11.25L24.43 -11.25L23.55 -11.62L23.3 -11.5L23.17 -11.62L21.66 -11.62L21.54 -11.5ZM21.66 -10.62L23.17 -10.62L24.43 -10L26.07 -8.38L26.07 -8.12L26.2 -8L26.2 -7.75L26.32 -7.62L26.32 -7.38L26.7 -6.5L26.7 -4.62L26.57 -4.5L26.07 -2.75L24.43 -1.12L23.17 -0.5L21.66 -0.5L20.4 -1.12L18.77 -2.75L18.77 -3L18.64 -3.12L18.64 -3.38L18.51 -3.5L18.51 -3.75L18.14 -4.62L18.14 -6.5L18.26 -6.62L18.77 -8.38L20.4 -10ZM73.68 -17.25L68.89 -17.25L68.64 -17.12L68.39 -16.75L68.51 -16.5L68.89 -16.25L71.28 -16.25L71.41 -16.12L71.28 -16L71.28 -15.75L71.16 -15.62L71.16 -15.38L71.03 -15.25L71.03 -15L70.91 -14.88L70.91 -14.62L70.78 -14.5L70.78 -14.25L70.65 -14.12L70.65 -13.88L70.53 -13.75L70.53 -13.5L70.4 -13.38L70.4 -13.12L70.28 -13L70.28 -12.75L70.15 -12.62L70.15 -12.38L70.02 -12.25L70.02 -12L69.9 -11.88L69.9 -11.62L69.77 -11.5L69.77 -11.25L69.65 -11.12L69.65 -10.88L69.52 -10.75L69.52 -10.5L69.39 -10.38L69.39 -10.12L69.27 -10L69.27 -9.75L69.14 -9.62L69.14 -9.38L69.02 -9.25L69.02 -9L68.89 -8.88L68.89 -8.62L68.77 -8.5L68.77 -8.25L68.64 -8.12L68.64 -7.88L68.51 -7.75L68.51 -7.5L68.39 -7.38L68.39 -7.12L68.26 -7L68.26 -6.75L68.14 -6.62L68.14 -6.38L68.01 -6.25L68.01 -6L67.88 -5.88L67.88 -5.62L67.76 -5.5L67.76 -5.25L67.63 -5.12L67.13 -3.38L66.88 -3L66.75 -3.12L66.75 -3.38L66.62 -3.5L66.62 -3.75L66.5 -3.88L66.5 -4.12L66.37 -4.25L66.37 -4.5L66.25 -4.62L66.25 -4.88L66.12 -5L66.12 -5.25L65.99 -5.38L65.99 -5.62L65.87 -5.75L65.87 -6L65.74 -6.12L65.74 -6.38L65.62 -6.5L65.62 -6.75L65.49 -6.88L65.49 -7.12L65.36 -7.25L65.36 -7.5L65.24 -7.62L65.24 -7.88L65.11 -8L65.11 -8.25L64.99 -8.38L64.99 -8.62L64.86 -8.75L64.86 -9L64.73 -9.12L64.73 -9.38L64.61 -9.5L64.61 -9.75L64.48 -9.88L64.48 -10.12L64.36 -10.25L64.36 -10.5L64.23 -10.62L64.23 -10.88L64.11 -11L64.11 -11.25L63.98 -11.38L63.98 -11.62L63.85 -11.75L63.85 -12L63.73 -12.12L63.73 -12.38L63.6 -12.5L63.6 -12.75L63.48 -12.88L63.48 -13.12L63.35 -13.25L63.35 -13.5L63.22 -13.62L63.22 -13.88L63.1 -14L63.1 -14.25L62.97 -14.38L62.97 -14.62L62.85 -14.75L62.85 -15L62.47 -15.88L62.47 -16.12L62.59 -16.25L64.11 -16.25L64.36 -16.38L64.61 -16.75L64.48 -17L64.11 -17.25L59.32 -17.25L59.07 -17.12L58.82 -16.75L58.94 -16.5L59.32 -16.25L60.45 -16.25L60.58 -16.12L60.58 -15.88L60.7 -15.75L60.7 -15.5L60.83 -15.38L60.83 -15.12L60.96 -15L60.96 -14.75L61.08 -14.62L61.08 -14.38L61.21 -14.25L61.21 -14L61.33 -13.88L61.33 -13.62L61.46 -13.5L61.46 -13.25L61.59 -13.12L61.59 -12.88L61.71 -12.75L61.71 -12.5L61.84 -12.38L61.84 -12.12L61.96 -12L61.96 -11.75L62.09 -11.62L62.09 -11.38L62.22 -11.25L62.22 -11L62.34 -10.88L62.34 -10.62L62.47 -10.5L62.47 -10.25L62.59 -10.12L62.59 -9.88L62.72 -9.75L62.72 -9.5L62.85 -9.38L62.85 -9.12L62.97 -9L62.97 -8.75L63.1 -8.62L63.1 -8.38L63.22 -8.25L63.22 -8L63.35 -7.88L63.35 -7.62L63.48 -7.5L63.48 -7.25L63.6 -7.12L63.6 -6.88L63.73 -6.75L63.73 -6.5L63.85 -6.38L63.85 -6.12L63.98 -6L63.98 -5.75L64.11 -5.62L64.11 -5.38L64.23 -5.25L64.23 -5L64.36 -4.88L64.36 -4.62L64.48 -4.5L64.48 -4.25L64.61 -4.12L64.61 -3.88L64.73 -3.75L64.73 -3.5L64.86 -3.38L64.86 -3.12L64.99 -3L64.99 -2.75L65.11 -2.62L65.11 -2.38L65.24 -2.25L65.24 -2L65.36 -1.88L65.99 0.12L66.5 0.5L66.75 0.38L67.13 -0.12L67.13 -0.38L67.25 -0.5L67.25 -0.75L67.38 -0.88L67.38 -1.12L67.51 -1.25L67.51 -1.5L67.63 -1.62L67.63 -1.88L67.76 -2L67.76 -2.25L67.88 -2.38L67.88 -2.62L68.01 -2.75L68.01 -3L68.14 -3.12L68.14 -3.38L68.26 -3.5L68.26 -3.75L68.39 -3.88L68.39 -4.12L68.51 -4.25L68.51 -4.5L68.64 -4.62L68.64 -4.88L68.77 -5L68.77 -5.25L68.89 -5.38L68.89 -5.62L69.02 -5.75L69.02 -6L69.14 -6.12L69.14 -6.38L69.27 -6.5L69.27 -6.75L69.39 -6.88L69.39 -7.12L69.52 -7.25L69.52 -7.5L69.65 -7.62L69.65 -7.88L69.77 -8L69.77 -8.25L69.9 -8.38L69.9 -8.62L70.02 -8.75L70.02 -9L70.15 -9.12L70.15 -9.38L70.28 -9.5L70.28 -9.75L70.4 -9.88L70.4 -10.12L70.53 -10.25L70.53 -10.5L70.65 -10.62L70.65 -10.88L70.78 -11L70.78 -11.25L70.91 -11.38L70.91 -11.62L71.03 -11.75L71.03 -12L71.16 -12.12L71.16 -12.38L71.28 -12.5L71.28 -12.75L71.41 -12.88L71.41 -13.12L71.54 -13.25L71.54 -13.5L71.66 -13.62L71.66 -13.88L71.79 -14L71.79 -14.25L71.91 -14.38L72.42 -16.12L72.54 -16.25L73.68 -16.25L73.93 -16.38L74.18 -16.75L74.05 -17ZM1.39 -17.12L1.13 -16.75L1.26 -16.5L1.64 -16.25L3.4 -16.25L3.53 -16.12L3.53 -0.62L3.4 -0.5L1.64 -0.5L1.26 -0.25L1.13 0L1.26 0.25L1.64 0.5L13.6 0.5L13.85 0.38L14.11 0L14.11 -4.75L13.98 -5L13.6 -5.25L13.1 -4.88L12.97 -3.62L12.85 -3.5L12.72 -2.25L12.59 -2.12L12.59 -1.5L12.47 -1.38L12.47 -0.75L12.22 -0.5L5.42 -0.5L5.29 -0.62L5.29 -16.12L5.42 -16.25L7.18 -16.25L7.43 -16.38L7.68 -16.75L7.56 -17L7.18 -17.25L1.64 -17.25Z"/>
<path transform="translate(450.64 28.5)" fill="#000" fill-rule="evenodd" d="M4.01 -7.5L3.89 -7.38L2.92 -7.12L2.67 -6.88L2.55 -6.88L1.46 -5.75L1.46 -5.5L1.34 -5.38L1.34 -5.12L0.97 -4.25L1.09 -4.12L0.97 -4L0.97 -2.88L1.09 -2.75L1.09 -2.5L1.22 -2.38L1.22 -2.12L1.34 -2L1.58 -1.12L2.55 -0.12L3.4 0.12L3.52 0.25L3.77 0.25L4.13 0.5L5.35 0.5L5.47 0.38L5.59 0.5L5.71 0.38L7.05 0L8.26 -1.25L8.39 -1.5L8.26 -1.75L7.9 -2L7.78 -1.88L7.53 -1.88L6.56 -0.88L6.32 -0.88L5.47 -0.5L4.5 -0.5L3.77 -0.88L2.8 -1.88L2.8 -2.12L2.43 -3L2.43 -4L2.55 -4.12L2.92 -5.38L3.65 -6.12L4.38 -6.5L5.95 -6.5L6.68 -6.12L6.93 -5.88L6.93 -5.75L6.32 -5L6.44 -4.75L7.29 -4L7.41 -4.12L7.66 -4.12L8.26 -4.75L8.39 -5L8.39 -5.5L8.26 -5.75L6.93 -7.12L6.2 -7.5L5.95 -7.38L5.83 -7.5Z"/>
<path transform="translate(472.75 20.7)" fill="#000" fill-rule="evenodd" d="M76.7 -11.62L74.94 -10.75L74.18 -10L73.93 -9.5L73.93 -8L74.05 -7.75L74.94 -6.75L76.95 -5.75L77.2 -5.75L77.58 -5.5L77.83 -5.5L78.21 -5.25L78.46 -5.25L78.84 -5L79.72 -4.75L80.35 -4.38L80.98 -4.25L82.12 -3.62L82.74 -3L82.74 -1.75L82.12 -1.12L80.86 -0.5L77.83 -0.5L76.7 -1L75.57 -2.12L75.06 -3.25L74.43 -3.62L74.18 -3.5L73.93 -3.12L73.93 0L74.05 0.25L74.43 0.5L75.06 0.12L75.44 -0.75L75.94 -0.25L77.46 0.5L77.58 0.38L77.71 0.5L80.86 0.5L80.98 0.38L81.11 0.5L82.62 -0.25L83.63 -1.25L83.63 -1.5L83.75 -1.62L83.75 -4L83.63 -4.12L83.63 -4.38L82.74 -5.25L80.98 -6.12L80.73 -6.12L80.35 -6.38L80.1 -6.38L79.72 -6.62L79.47 -6.62L79.09 -6.88L78.84 -6.88L78.46 -7.12L77.58 -7.38L75.57 -8.38L74.94 -9L74.94 -9.25L75.69 -10L76.95 -10.62L79.97 -10.62L81.49 -9.88L82.24 -9L82.74 -7.88L83.25 -7.5L83.5 -7.62L83.75 -8L83.75 -11.12L83.63 -11.38L83.25 -11.62L82.74 -11.25L82.37 -10.5L82.12 -10.75L80.35 -11.62L80.23 -11.5L80.1 -11.62L76.95 -11.62L76.83 -11.5ZM29.09 -11.12L29.22 -10.88L29.6 -10.62L31.36 -10.62L31.49 -10.5L31.49 -0.62L31.36 -0.5L29.6 -0.5L29.34 -0.38L29.09 0L29.22 0.25L29.6 0.5L35.26 0.5L35.64 0.25L35.77 0L35.64 -0.25L35.26 -0.5L33.5 -0.5L33.38 -0.62L33.38 -8.5L34.63 -9.88L35.52 -10.12L35.64 -10.25L35.89 -10.25L36.02 -10.38L36.27 -10.38L36.4 -10.5L36.65 -10.5L36.78 -10.62L38.29 -10.62L39.55 -10L39.8 -9.75L40.3 -8.75L40.3 -0.62L40.18 -0.5L38.41 -0.5L38.16 -0.38L37.91 0L38.16 0.38L38.41 0.5L44.08 0.5L44.46 0.25L44.58 0L44.46 -0.25L44.08 -0.5L42.32 -0.5L42.19 -0.62L42.19 -8.5L42.32 -8.75L43.45 -9.88L44.33 -10.12L44.46 -10.25L44.71 -10.25L44.84 -10.38L45.09 -10.38L45.21 -10.5L45.47 -10.5L45.59 -10.62L47.1 -10.62L48.36 -10L48.61 -9.75L49.12 -8.75L49.12 -0.62L48.99 -0.5L47.23 -0.5L46.85 -0.25L46.73 0L46.85 0.25L47.23 0.5L52.9 0.5L53.15 0.38L53.4 0L53.27 -0.25L52.9 -0.5L51.13 -0.5L51.01 -0.62L51.01 -8.75L50.5 -9.88L50.25 -10.12L49.87 -10.88L49.62 -10.88L49.5 -11L49.24 -11L49.12 -11.12L48.87 -11.12L48.74 -11.25L48.49 -11.25L47.61 -11.62L47.35 -11.5L47.23 -11.62L45.72 -11.62L45.59 -11.5L45.47 -11.62L45.34 -11.5L45.09 -11.5L44.96 -11.38L44.71 -11.38L44.58 -11.25L44.33 -11.25L44.21 -11.12L43.95 -11.12L43.83 -11L42.95 -10.75L41.81 -9.62L41.06 -10.88L40.81 -10.88L40.68 -11L40.43 -11L40.3 -11.12L40.05 -11.12L39.92 -11.25L39.67 -11.25L38.79 -11.62L38.54 -11.5L38.41 -11.62L36.9 -11.62L36.78 -11.5L36.65 -11.62L36.52 -11.5L36.27 -11.5L36.15 -11.38L34.38 -10.88L33.5 -10.12L33.38 -10.25L33.38 -11.12L33.25 -11.38L32.87 -11.62L29.6 -11.62L29.34 -11.5ZM12.59 -17.12L12.34 -16.75L12.47 -16.5L12.85 -16.25L14.61 -16.25L14.74 -16.12L14.74 -0.62L14.61 -0.5L12.85 -0.5L12.47 -0.25L12.34 0L12.47 0.25L12.85 0.5L18.39 0.5L18.64 0.38L18.89 0L18.77 -0.25L18.39 -0.5L16.62 -0.5L16.5 -0.62L16.5 -2.88L19.14 -5.5L22.92 -0.62L22.8 -0.5L21.66 -0.5L21.41 -0.38L21.16 0L21.41 0.38L21.66 0.5L26.45 0.5L26.7 0.38L26.95 0L26.7 -0.38L26.45 -0.5L25.06 -0.5L24.81 -0.75L24.81 -0.88L24.43 -1.25L24.43 -1.38L20.65 -6.25L20.4 -6.75L24.31 -10.62L26.45 -10.62L26.83 -10.88L26.95 -11.12L26.83 -11.38L26.45 -11.62L21.66 -11.62L21.41 -11.5L21.16 -11.12L21.41 -10.75L21.66 -10.62L22.54 -10.62L22.67 -10.5L16.62 -4.5L16.5 -4.62L16.5 -16.75L16.37 -17L15.99 -17.25L12.85 -17.25ZM88.16 -20.38L87.91 -20.25L87.66 -19.88L87.78 -19.62L88.16 -19.38L92.32 -19.38L92.44 -19.25L92.44 5L92.32 5.12L88.16 5.12L87.91 5.25L87.66 5.62L87.78 5.88L88.16 6.12L93.7 6.12L93.95 6L94.21 5.62L94.21 -19.88L94.08 -20.12L93.7 -20.38ZM70.78 -20.25L70.53 -20.38L70.02 -20.12L69.39 -18.88L69.14 -18.62L68.77 -17.75L68.51 -17.5L68.26 -16.88L68.01 -16.62L67.63 -15.75L67.38 -15.5L67.13 -14.88L66.88 -14.62L66.5 -13.75L66.25 -13.5L65.99 -12.88L65.74 -12.62L65.36 -11.75L65.11 -11.5L64.86 -10.88L64.61 -10.62L64.23 -9.75L63.98 -9.5L63.73 -8.88L63.48 -8.62L63.1 -7.75L62.85 -7.5L61.96 -5.75L61.71 -5.5L60.83 -3.75L60.58 -3.5L59.7 -1.75L59.45 -1.5L58.56 0.25L58.31 0.5L57.43 2.25L57.18 2.5L56.3 4.25L56.04 4.5L55.54 5.62L55.79 6L56.04 6.12L56.67 5.62L57.05 4.75L57.3 4.5L57.56 3.88L57.81 3.62L58.19 2.75L58.44 2.5L58.69 1.88L58.94 1.62L59.32 0.75L59.57 0.5L59.82 -0.12L60.08 -0.38L60.45 -1.25L60.7 -1.5L60.96 -2.12L61.21 -2.38L61.59 -3.25L61.84 -3.5L62.09 -4.12L62.34 -4.38L62.72 -5.25L62.97 -5.5L63.22 -6.12L63.48 -6.38L63.85 -7.25L64.11 -7.5L64.99 -9.25L65.24 -9.5L66.12 -11.25L66.37 -11.5L67.25 -13.25L67.51 -13.5L68.39 -15.25L68.64 -15.5L69.52 -17.25L69.77 -17.5L70.65 -19.25L70.91 -19.5L70.91 -19.75L71.03 -19.88ZM3.15 -20.38L2.9 -20.25L2.64 -19.88L2.64 5.62L2.77 5.88L3.15 6.12L8.82 6.12L9.07 6L9.32 5.62L9.19 5.38L8.82 5.12L4.66 5.12L4.53 5L4.53 -19.25L4.66 -19.38L8.82 -19.38L9.07 -19.5L9.32 -19.88L9.19 -20.12L8.82 -20.38Z"/>
<path transform="translate(237.58 66.7)" fill="#000" fill-rule="evenodd" d="M20.02 -2.12L19.9 -2L19.65 -2L18.89 -1.25L18.89 -0.88L18.77 -0.75L19.27 -0.12L19.27 0L19.65 0.38L19.9 0.38L20.02 0.5L20.15 0.38L20.4 0.38L21.28 -0.75L21.16 -0.88L21.16 -1.25L20.4 -2L20.15 -2ZM28.09 -17.25L27.83 -17.12L27.46 -16.62L27.46 -16.12L27.33 -16L27.33 -15.5L27.2 -15.38L27.2 -14.88L27.08 -14.75L27.08 -14.25L26.95 -14.12L26.95 -13.62L26.83 -13.5L26.83 -13L26.7 -12.88L26.7 -12.38L26.57 -12.25L26.57 -11.75L26.45 -11.62L26.45 -11.12L26.32 -11L26.32 -10.5L26.2 -10.38L26.2 -9.88L26.07 -9.75L26.07 -9.25L25.94 -9.12L25.94 -8.75L26.07 -8.5L26.45 -8.25L26.57 -8.38L26.83 -8.38L27.96 -9.5L27.96 -9.62L28.21 -9.88L29.09 -10.12L29.22 -10.25L29.47 -10.25L29.6 -10.38L29.85 -10.38L29.97 -10.5L30.23 -10.5L30.35 -10.62L32.75 -10.62L34.26 -9.88L35.64 -8.38L35.89 -7.5L36.02 -7.38L36.02 -7.12L36.15 -7L36.15 -6.75L36.27 -6.62L36.27 -6.38L36.4 -6.25L36.4 -4.88L36.27 -4.75L36.27 -4.5L36.15 -4.38L36.15 -4.12L36.02 -4L36.02 -3.75L35.89 -3.62L35.64 -2.75L34 -1.12L32.75 -0.5L30.35 -0.5L30.23 -0.62L28.46 -1.12L27.58 -2L27.33 -2.62L28.46 -3.75L28.59 -4L28.46 -4.25L27.58 -5.12L27.33 -5.12L27.2 -5.25L27.08 -5.12L26.83 -5.12L26.07 -4.38L26.07 -4.12L25.94 -4L25.94 -3L26.83 -1.25L27.96 -0.25L28.21 -0.25L28.34 -0.12L28.59 -0.12L28.72 0L28.97 0L29.09 0.12L29.34 0.12L30.23 0.5L30.35 0.38L30.48 0.5L33.12 0.5L33.5 0.25L33.75 0.25L33.88 0.12L34.13 0.12L34.26 0L34.51 0L34.63 -0.12L35.52 -0.38L37.28 -2.12L37.41 -2.38L37.41 -2.62L37.53 -2.75L37.53 -3L37.66 -3.12L37.66 -3.38L37.78 -3.5L37.78 -3.75L38.16 -4.62L38.16 -6.5L38.03 -6.62L38.03 -6.88L37.91 -7L37.91 -7.25L37.78 -7.38L37.78 -7.62L37.66 -7.75L37.66 -8L37.53 -8.12L37.53 -8.38L37.15 -9.25L35.64 -10.75L34.76 -11L34.63 -11.12L34.38 -11.12L34.26 -11.25L34 -11.25L33.88 -11.38L33.63 -11.38L33.5 -11.5L33.25 -11.5L33.12 -11.62L30.48 -11.62L30.35 -11.5L30.23 -11.62L30.1 -11.5L29.85 -11.5L29.72 -11.38L27.96 -10.88L27.46 -10.5L27.33 -10.62L27.33 -10.88L27.46 -11L27.46 -11.5L27.58 -11.62L27.58 -12.12L27.71 -12.25L27.71 -12.75L27.83 -12.88L27.83 -13.38L27.96 -13.5L27.96 -14L28.09 -14.12L28.09 -14.62L28.21 -14.75L28.21 -15.25L28.34 -15.38L32.24 -15.38L32.37 -15.5L32.87 -15.5L33 -15.62L33.5 -15.62L33.63 -15.75L34.13 -15.75L34.26 -15.88L34.76 -15.88L34.89 -16L36.02 -16.12L36.52 -16.75L36.4 -17L36.02 -17.25ZM8.82 -17.25L8.56 -17.12L6.17 -14.75L4.53 -14L4.28 -13.5L4.41 -13.25L4.79 -13L6.67 -13.88L7.43 -14.62L7.56 -14.5L7.56 -0.62L7.43 -0.5L4.79 -0.5L4.53 -0.38L4.28 0L4.41 0.25L4.79 0.5L11.96 0.5L12.22 0.38L12.47 0L12.34 -0.25L11.96 -0.5L9.45 -0.5L9.32 -0.62L9.32 -16.75L9.19 -17Z"/>
<path transform="translate(431.8 66.7)" fill="#000" fill-rule="evenodd" d="M4.16 -16.5L3.65 -16.25L2.64 -15.25L2.02 -14L2.02 -13.62L1.89 -13.5L1.89 -12.75L2.02 -12.62L2.02 -12.38L2.9 -11.5L3.15 -11.38L3.65 -11.62L4.41 -12.38L4.41 -12.62L4.53 -12.75L4.41 -12.88L4.41 -13.12L3.27 -14L3.53 -14.62L4.41 -15.5L5.29 -15.75L5.42 -15.88L5.67 -15.88L5.79 -16L6.05 -16L6.17 -16.12L6.42 -16.12L6.55 -16.25L9.45 -16.25L10.71 -15.62L11.71 -14.62L12.34 -13.38L12.34 -12L11.59 -10.62L11.46 -10.62L9.32 -9.12L4.41 -6.75L2.9 -5.25L2.64 -4.75L2.64 -4.5L2.52 -4.38L2.02 -2.62L1.89 -2.5L1.89 0L2.14 0.38L2.39 0.5L2.64 0.38L2.9 0L2.9 -1.38L3.4 -1.88L4.66 -1.88L5.16 -1.62L5.42 -1.38L5.79 -1.25L6.05 -1L6.42 -0.88L6.67 -0.62L7.05 -0.5L7.3 -0.25L7.68 -0.12L7.93 0.12L8.82 0.5L11.96 0.5L12.09 0.38L12.34 0.38L13.35 -0.62L14.11 -2.12L13.98 -2.25L14.11 -2.38L14.11 -4L13.98 -4.25L13.6 -4.5L13.35 -4.38L13.1 -4L13.1 -2.62L12.34 -1.88L11.08 -1.25L8.94 -1.25L8.56 -1.5L8.31 -1.5L7.93 -1.75L7.68 -1.75L7.3 -2L7.05 -2L6.67 -2.25L6.42 -2.25L6.05 -2.5L5.79 -2.5L5.04 -2.88L4.91 -2.75L4.79 -2.88L3.27 -2.88L3.15 -3.12L3.27 -3.25L3.27 -3.5L3.4 -3.62L3.65 -4.5L5.16 -6L7.18 -7L7.43 -7L7.81 -7.25L8.06 -7.25L8.44 -7.5L8.69 -7.5L9.7 -8L10.33 -8.12L13.1 -9.88L14.11 -11.75L14.11 -13.5L13.98 -13.62L14.11 -13.75L13.22 -15.5L12.97 -15.62L12.22 -16.38L11.33 -16.62L11.21 -16.75L10.96 -16.75L10.83 -16.88L10.58 -16.88L10.45 -17L10.2 -17L10.08 -17.12L9.7 -17.12L9.57 -17.25L6.42 -17.25L6.3 -17.12L6.05 -17.12L5.92 -17Z"/>
<path transform="translate(601.88 66.7)" fill="#000" fill-rule="evenodd" d="M20.02 -2.12L19.9 -2L19.65 -2L18.89 -1.25L18.89 -0.88L18.77 -0.75L19.27 -0.12L19.27 0L19.65 0.38L19.9 0.38L20.02 0.5L20.15 0.38L20.4 0.38L21.28 -0.75L21.16 -0.88L21.16 -1.25L20.4 -2L20.15 -2ZM28.09 -17.25L27.83 -17.12L27.46 -16.62L27.46 -16.12L27.33 -16L27.33 -15.5L27.2 -15.38L27.2 -14.88L27.08 -14.75L27.08 -14.25L26.95 -14.12L26.95 -13.62L26.83 -13.5L26.83 -13L26.7 -12.88L26.7 -12.38L26.57 -12.25L26.57 -11.75L26.45 -11.62L26.45 -11.12L26.32 -11L26.32 -10.5L26.2 -10.38L26.2 -9.88L26.07 -9.75L26.07 -9.25L25.94 -9.12L25.94 -8.75L26.07 -8.5L26.45 -8.25L26.57 -8.38L26.83 -8.38L27.96 -9.5L27.96 -9.62L28.21 -9.88L29.09 -10.12L29.22 -10.25L29.47 -10.25L29.6 -10.38L29.85 -10.38L29.97 -10.5L30.23 -10.5L30.35 -10.62L32.75 -10.62L34.26 -9.88L35.64 -8.38L35.89 -7.5L36.02 -7.38L36.02 -7.12L36.15 -7L36.15 -6.75L36.27 -6.62L36.27 -6.38L36.4 -6.25L36.4 -4.88L36.27 -4.75L36.27 -4.5L36.15 -4.38L36.15 -4.12L36.02 -4L36.02 -3.75L35.89 -3.62L35.64 -2.75L34 -1.12L32.75 -0.5L30.35 -0.5L30.23 -0.62L28.46 -1.12L27.58 -2L27.33 -2.62L28.46 -3.75L28.59 -4L28.46 -4.25L27.58 -5.12L27.33 -5.12L27.2 -5.25L27.08 -5.12L26.83 -5.12L26.07 -4.38L26.07 -4.12L25.94 -4L25.94 -3L26.83 -1.25L27.96 -0.25L28.21 -0.25L28.34 -0.12L28.59 -0.12L28.72 0L28.97 0L29.09 0.12L29.34 0.12L30.23 0.5L30.35 0.38L30.48 0.5L33.12 0.5L33.5 0.25L33.75 0.25L33.88 0.12L34.13 0.12L34.26 0L34.51 0L34.63 -0.12L35.52 -0.38L37.28 -2.12L37.41 -2.38L37.41 -2.62L37.53 -2.75L37.53 -3L37.66 -3.12L37.66 -3.38L37.78 -3.5L37.78 -3.75L38.16 -4.62L38.16 -6.5L38.03 -6.62L38.03 -6.88L37.91 -7L37.91 -7.25L37.78 -7.38L37.78 -7.62L37.66 -7.75L37.66 -8L37.53 -8.12L37.53 -8.38L37.15 -9.25L35.64 -10.75L34.76 -11L34.63 -11.12L34.38 -11.12L34.26 -11.25L34 -11.25L33.88 -11.38L33.63 -11.38L33.5 -11.5L33.25 -11.5L33.12 -11.62L30.48 -11.62L30.35 -11.5L30.23 -11.62L30.1 -11.5L29.85 -11.5L29.72 -11.38L27.96 -10.88L27.46 -10.5L27.33 -10.62L27.33 -10.88L27.46 -11L27.46 -11.5L27.58 -11.62L27.58 -12.12L27.71 -12.25L27.71 -12.75L27.83 -12.88L27.83 -13.38L27.96 -13.5L27.96 -14L28.09 -14.12L28.09 -14.62L28.21 -14.75L28.21 -15.25L28.34 -15.38L32.24 -15.38L32.37 -15.5L32.87 -15.5L33 -15.62L33.5 -15.62L33.63 -15.75L34.13 -15.75L34.26 -15.88L34.76 -15.88L34.89 -16L36.02 -16.12L36.52 -16.75L36.4 -17L36.02 -17.25ZM4.16 -16.5L3.65 -16.25L2.64 -15.25L2.02 -14L2.02 -13.62L1.89 -13.5L1.89 -12.75L2.02 -12.62L2.02 -12.38L2.9 -11.5L3.15 -11.38L3.65 -11.62L4.41 -12.38L4.41 -12.62L4.53 -12.75L4.41 -12.88L4.41 -13.12L3.27 -14L3.53 -14.62L4.41 -15.5L5.29 -15.75L5.42 -15.88L5.67 -15.88L5.79 -16L6.05 -16L6.17 -16.12L6.42 -16.12L6.55 -16.25L9.45 -16.25L10.71 -15.62L11.71 -14.62L12.34 -13.38L12.34 -12L11.59 -10.62L11.46 -10.62L9.32 -9.12L4.41 -6.75L2.9 -5.25L2.64 -4.75L2.64 -4.5L2.52 -4.38L2.02 -2.62L1.89 -2.5L1.89 0L2.14 0.38L2.39 0.5L2.64 0.38L2.9 0L2.9 -1.38L3.4 -1.88L4.66 -1.88L5.16 -1.62L5.42 -1.38L5.79 -1.25L6.05 -1L6.42 -0.88L6.67 -0.62L7.05 -0.5L7.3 -0.25L7.68 -0.12L7.93 0.12L8.82 0.5L11.96 0.5L12.09 0.38L12.34 0.38L13.35 -0.62L14.11 -2.12L13.98 -2.25L14.11 -2.38L14.11 -4L13.98 -4.25L13.6 -4.5L13.35 -4.38L13.1 -4L13.1 -2.62L12.34 -1.88L11.08 -1.25L8.94 -1.25L8.56 -1.5L8.31 -1.5L7.93 -1.75L7.68 -1.75L7.3 -2L7.05 -2L6.67 -2.25L6.42 -2.25L6.05 -2.5L5.79 -2.5L5.04 -2.88L4.91 -2.75L4.79 -2.88L3.27 -2.88L3.15 -3.12L3.27 -3.25L3.27 -3.5L3.4 -3.62L3.65 -4.5L5.16 -6L7.18 -7L7.43 -7L7.81 -7.25L8.06 -7.25L8.44 -7.5L8.69 -7.5L9.7 -8L10.33 -8.12L13.1 -9.88L14.11 -11.75L14.11 -13.5L13.98 -13.62L14.11 -13.75L13.22 -15.5L12.97 -15.62L12.22 -16.38L11.33 -16.62L11.21 -16.75L10.96 -16.75L10.83 -16.88L10.58 -16.88L10.45 -17L10.2 -17L10.08 -17.12L9.7 -17.12L9.57 -17.25L6.42 -17.25L6.3 -17.12L6.05 -17.12L5.92 -17Z"/>
<path transform="translate(545.7 130)" fill="#000" fill-rule="evenodd" d="M23.14 -6.25L23.27 -6L23.65 -5.75L42.96 -5.75L43.22 -5.88L43.47 -6.25L43.34 -6.5L42.96 -6.75L23.65 -6.75L23.4 -6.62ZM23.14 -12.62L23.27 -12.38L23.65 -12.12L42.96 -12.12L43.22 -12.25L43.47 -12.62L43.34 -12.88L42.96 -13.12L23.65 -13.12L23.4 -13ZM2.94 -15.12L2.69 -14.75L2.69 -10.5L2.81 -10.25L3.2 -10L3.45 -10.12L3.84 -10.62L3.84 -11L3.96 -11.12L3.96 -11.5L4.09 -11.62L4.09 -12L4.22 -12.12L4.22 -12.5L4.35 -12.62L4.35 -13L4.48 -13.12L4.48 -13.5L4.6 -13.62L4.6 -14.12L4.73 -14.25L13.81 -14.25L13.94 -14.12L13.17 -13.25L12.79 -12.62L12.27 -12.12L12.27 -12L11.76 -11.5L11.38 -10.88L10.36 -9.75L9.97 -9.12L8.95 -8L8.57 -7.38L7.54 -6.25L7.16 -5.62L6.14 -4.5L5.75 -3.88L4.73 -2.75L4.35 -2.12L3.32 -1L2.69 0L2.81 0.25L3.2 0.5L16.11 0.5L16.37 0.38L16.62 0L16.62 -4.25L16.49 -4.5L16.11 -4.75L15.6 -4.38L15.47 -3.62L15.34 -3.5L15.34 -3.12L15.22 -3L15.22 -2.62L15.09 -2.5L15.09 -2.12L14.96 -2L14.96 -1.62L14.83 -1.5L14.83 -1.12L14.7 -1L14.7 -0.62L14.58 -0.5L5.63 -0.5L5.5 -0.62L6.01 -1.25L6.01 -1.38L7.03 -2.5L7.42 -3.12L8.44 -4.25L8.82 -4.88L9.85 -6L10.23 -6.62L11.25 -7.75L11.63 -8.38L12.66 -9.5L13.04 -10.12L14.06 -11.25L14.45 -11.88L15.47 -13L15.85 -13.62L16.37 -14.12L16.49 -14.62L16.62 -14.75L16.49 -15L16.11 -15.25L3.2 -15.25ZM55.49 -22.5L55.36 -22.38L55.11 -22.38L54.98 -22.25L54.72 -22.25L54.6 -22.12L54.34 -22.12L54.21 -22L52.42 -21.5L51.14 -20.25L50.89 -19.62L50.63 -19.38L49.99 -18.12L50.12 -18L49.99 -17.88L49.99 -16.75L50.12 -16.5L51.02 -15.62L51.02 -15.5L51.53 -15.25L51.65 -15.38L51.91 -15.38L53.06 -16.5L53.19 -16.75L52.93 -17.25L51.91 -18.25L51.65 -18.25L51.4 -18.5L51.91 -19.62L52.93 -20.62L53.19 -20.62L53.32 -20.75L53.57 -20.75L53.7 -20.88L53.96 -20.88L54.08 -21L54.34 -21L54.47 -21.12L54.72 -21.12L55.62 -21.5L60.22 -21.5L61.76 -20.75L62.01 -20.5L62.91 -18.75L62.91 -15.88L62.01 -14.12L61.76 -13.88L60.22 -13.12L56.9 -13.12L56.64 -13L56.39 -12.62L56.51 -12.38L56.9 -12.12L60.09 -12.12L61.88 -11.25L62.91 -10.25L63.16 -9.38L63.29 -9.25L63.29 -9L63.42 -8.88L63.42 -8.62L63.55 -8.5L63.55 -8.25L63.67 -8.12L63.67 -7.88L63.8 -7.75L63.8 -7.5L63.93 -7.38L63.93 -4.25L63.03 -2.5L61.88 -1.38L60.09 -0.5L55.87 -0.5L55.75 -0.62L55.49 -0.62L55.36 -0.75L55.11 -0.75L54.98 -0.88L54.72 -0.88L54.6 -1L54.34 -1L54.21 -1.12L53.96 -1.12L53.83 -1.25L52.93 -1.5L51.91 -2.5L51.4 -3.5L51.4 -3.62L51.65 -3.88L51.91 -3.88L53.06 -5L53.19 -5.25L53.06 -5.5L51.91 -6.62L51.65 -6.62L51.53 -6.75L51.4 -6.62L51.14 -6.62L50.12 -5.62L50.12 -5.38L49.99 -5.25L49.99 -4.25L50.12 -4.12L49.99 -4L51.14 -1.75L52.55 -0.5L52.8 -0.5L52.93 -0.38L53.19 -0.38L53.32 -0.25L53.57 -0.25L53.7 -0.12L53.96 -0.12L54.08 0L54.34 0L54.47 0.12L54.72 0.12L55.62 0.5L60.09 0.5L60.22 0.38L60.35 0.5L60.48 0.38L60.73 0.38L60.86 0.25L61.12 0.25L61.24 0.12L61.5 0.12L61.63 0L61.88 0L62.01 -0.12L62.27 -0.12L62.39 -0.25L62.65 -0.25L62.78 -0.38L63.67 -0.62L64.95 -1.88L65.97 -4L65.85 -4.12L65.97 -4.25L65.97 -7.38L65.85 -7.5L65.97 -7.62L64.95 -9.62L62.52 -12L61.88 -12.25L61.63 -12.5L61.76 -12.62L63.55 -13.12L63.93 -13.5L64.95 -15.5L64.82 -15.62L64.95 -15.75L64.95 -18.88L64.82 -19L64.95 -19.12L63.93 -21.12L63.29 -21.62L63.03 -21.62L62.91 -21.75L62.65 -21.75L62.52 -21.88L62.27 -21.88L62.14 -22L61.88 -22L61.76 -22.12L61.5 -22.12L60.6 -22.5L60.35 -22.5L60.22 -22.38L60.09 -22.5ZM51.27 -3.75L51.4 -3.88L51.53 -3.75L51.4 -3.62ZM51.53 -5.62L51.91 -5.25L51.14 -4.5L51.02 -4.62L51.02 -5.12ZM51.02 -17.38L51.14 -17.5L51.91 -16.75L51.65 -16.5L51.53 -16.5L51.02 -17ZM51.27 -18.38L51.4 -18.5L51.53 -18.38L51.4 -18.25Z"/>
<path transform="translate(53.38 85.53)" fill="#000" fill-rule="evenodd" d="M7.18 -17.25L7.05 -17.12L6.8 -17.12L6.67 -17L6.42 -17L6.3 -16.88L6.05 -16.88L5.92 -16.75L5.67 -16.75L5.54 -16.62L4.66 -16.38L4.16 -15.88L4.16 -15.75L2.9 -14L2.64 -13.5L2.64 -13L2.52 -12.88L2.52 -12.38L2.39 -12.25L2.39 -11.75L2.27 -11.62L2.27 -11.12L2.14 -11L2.14 -10.5L2.02 -10.38L2.02 -9.88L1.89 -9.75L1.89 -6.88L2.02 -6.75L2.02 -6.25L2.14 -6.12L2.14 -5.62L2.27 -5.5L2.27 -5L2.39 -4.88L2.39 -4.38L2.52 -4.25L2.64 -3.12L4.16 -0.75L4.79 -0.25L6.55 0.25L6.93 0.5L9.07 0.5L9.45 0.25L9.7 0.25L9.82 0.12L10.08 0.12L10.2 0L10.45 0L10.58 -0.12L11.46 -0.38L11.84 -0.75L13.35 -3.12L13.48 -4.12L13.6 -4.25L13.6 -4.75L13.73 -4.88L13.73 -5.38L13.85 -5.5L13.85 -6L13.98 -6.12L13.98 -6.62L14.11 -6.75L14.11 -9.88L13.98 -10L13.98 -10.5L13.85 -10.62L13.85 -11.12L13.73 -11.25L13.73 -11.75L13.6 -11.88L13.6 -12.38L13.48 -12.5L13.35 -13.62L13.1 -13.88L11.84 -15.88L11.08 -16.5L10.83 -16.5L10.71 -16.62L10.45 -16.62L10.33 -16.75L10.08 -16.75L9.95 -16.88L9.7 -16.88L8.82 -17.25ZM7.3 -16.25L8.56 -16.25L10.08 -15.5L10.83 -14.75L11.59 -13.25L11.59 -12.75L11.71 -12.62L11.71 -12.12L11.84 -12L11.84 -11.5L11.96 -11.38L11.96 -10.88L12.09 -10.75L12.09 -10.25L12.22 -10.12L12.22 -9.62L12.34 -9.5L12.34 -7.12L12.22 -7L12.22 -6.5L12.09 -6.38L12.09 -5.88L11.96 -5.75L11.96 -5.25L11.84 -5.12L11.84 -4.62L11.71 -4.5L11.59 -3.38L10.96 -2.12L9.95 -1.12L8.69 -0.5L7.3 -0.5L6.42 -1L6.17 -1L5.16 -2L4.41 -3.5L4.41 -4L4.28 -4.12L4.28 -4.62L4.16 -4.75L4.16 -5.25L4.03 -5.38L4.03 -5.88L3.9 -6L3.9 -6.5L3.78 -6.62L3.78 -7.12L3.65 -7.25L3.65 -9.38L3.78 -9.5L3.78 -10L3.9 -10.12L3.9 -10.62L4.03 -10.75L4.03 -11.25L4.16 -11.38L4.16 -11.88L4.28 -12L4.28 -12.5L4.41 -12.62L4.41 -13.12L4.53 -13.25L4.53 -13.5L5.16 -14.75L6.05 -15.62Z"/>
<path transform="translate(32.47 294.44)" fill="#000" fill-rule="evenodd" d="M2.64 -7.12L2.77 -6.88L3.15 -6.62L17.63 -6.62L17.88 -6.75L18.14 -7.12L18.01 -7.38L17.63 -7.62L3.15 -7.62L2.9 -7.5ZM29.6 -17.25L29.34 -17.12L26.83 -14.62L25.44 -14L25.19 -13.5L25.31 -13.25L25.69 -13L27.46 -13.88L28.21 -14.62L28.34 -14.5L28.34 -0.62L28.21 -0.5L25.69 -0.5L25.44 -0.38L25.19 0L25.31 0.25L25.69 0.5L32.87 0.5L33.12 0.38L33.38 0L33.25 -0.25L32.87 -0.5L30.23 -0.5L30.1 -0.62L30.1 -16.75L29.97 -17Z"/>
<path transform="translate(32.47 503.34)" fill="#000" fill-rule="evenodd" d="M2.64 -7.12L2.77 -6.88L3.15 -6.62L17.63 -6.62L17.88 -6.75L18.14 -7.12L18.01 -7.38L17.63 -7.62L3.15 -7.62L2.9 -7.5ZM24.94 -16.5L24.43 -16.25L23.55 -15.38L22.67 -13.5L22.67 -12.75L22.8 -12.5L23.8 -11.5L24.06 -11.38L24.31 -11.5L25.19 -12.38L25.19 -12.62L25.31 -12.75L25.19 -12.88L25.19 -13.12L24.43 -13.88L24.18 -13.88L24.06 -14L24.31 -14.62L25.19 -15.5L26.07 -15.75L26.2 -15.88L26.45 -15.88L26.57 -16L26.83 -16L26.95 -16.12L27.2 -16.12L27.33 -16.25L30.23 -16.25L31.74 -15.5L32.49 -14.75L33.12 -13.5L33.12 -11.88L32.62 -10.88L32.37 -10.62L32.24 -10.62L30.1 -9.12L25.31 -6.75L23.68 -5.12L23.43 -4.62L23.43 -4.38L23.3 -4.25L22.8 -2.5L22.67 -2.38L22.67 0L22.92 0.38L23.17 0.5L23.43 0.38L23.68 0L23.68 -1.25L24.31 -1.88L25.44 -1.88L25.94 -1.62L26.2 -1.38L26.57 -1.25L26.83 -1L27.2 -0.88L27.46 -0.62L27.83 -0.5L28.09 -0.25L28.46 -0.12L28.72 0.12L29.6 0.5L32.87 0.5L33 0.38L33.25 0.38L33.25 0.25L34.26 -0.75L34.89 -2L34.76 -2.25L34.89 -2.38L34.89 -4L34.76 -4.25L34.38 -4.5L34.13 -4.38L33.88 -4L33.88 -2.5L33 -1.75L31.99 -1.25L29.72 -1.25L29.34 -1.5L29.09 -1.5L28.72 -1.75L28.46 -1.75L28.09 -2L27.83 -2L27.46 -2.25L26.57 -2.5L25.94 -2.88L24.06 -2.88L23.93 -3L24.06 -3.12L24.06 -3.38L24.18 -3.5L24.43 -4.38L25.94 -6L27.46 -6.75L27.71 -6.75L28.09 -7L28.34 -7L28.72 -7.25L28.97 -7.25L29.34 -7.5L29.6 -7.5L29.97 -7.75L30.23 -7.75L30.6 -8L31.49 -8.25L31.86 -8.62L33.75 -9.75L33.88 -10L34.13 -10.12L34.89 -11.62L34.89 -13.5L34.76 -13.62L34.89 -13.88L34.13 -15.38L33.25 -16.25L32.75 -16.5L32.49 -16.5L32.37 -16.62L30.6 -17.12L30.48 -17.25L27.2 -17.25L27.08 -17.12L26.83 -17.12L26.7 -17Z"/>
<path transform="translate(32.47 712.25)" fill="#000" fill-rule="evenodd" d="M2.64 -7.12L2.77 -6.88L3.15 -6.62L17.63 -6.62L17.88 -6.75L18.14 -7.12L18.01 -7.38L17.63 -7.62L3.15 -7.62L2.9 -7.5ZM27.2 -17.25L27.08 -17.12L26.83 -17.12L26.7 -17L26.45 -17L26.32 -16.88L26.07 -16.88L25.94 -16.75L25.69 -16.75L25.57 -16.62L25.31 -16.62L24.43 -16.25L23.55 -15.38L22.8 -13.88L22.8 -13.62L22.67 -13.5L22.67 -12.75L22.8 -12.5L23.8 -11.5L24.06 -11.38L24.31 -11.5L25.19 -12.38L25.19 -12.62L25.31 -12.75L25.19 -12.88L25.19 -13.12L24.43 -13.88L24.18 -13.88L24.06 -14L24.31 -14.62L25.19 -15.5L26.07 -15.75L26.2 -15.88L26.45 -15.88L26.57 -16L26.83 -16L26.95 -16.12L27.2 -16.12L27.33 -16.25L30.23 -16.25L31.49 -15.62L31.74 -15.38L32.37 -14.12L32.37 -12L31.74 -10.75L30.35 -10L28.09 -10L27.83 -9.88L27.58 -9.5L27.71 -9.25L28.09 -9L30.48 -9L31.74 -8.38L32.12 -8L32.12 -7.88L32.49 -7.5L32.49 -7.25L32.62 -7.12L32.62 -6.88L32.75 -6.75L32.75 -6.5L33.12 -5.62L33.12 -3.25L32.49 -2L31.61 -1.12L30.35 -0.5L27.08 -0.5L26.95 -0.62L26.7 -0.62L26.57 -0.75L26.32 -0.75L26.2 -0.88L25.31 -1.12L24.31 -2.12L24.06 -2.62L24.31 -2.75L25.19 -3.62L25.19 -3.88L25.31 -4L25.19 -4.12L25.19 -4.38L24.43 -5.12L24.18 -5.12L24.06 -5.25L23.93 -5.12L23.68 -5.12L22.8 -4.25L22.67 -4L22.67 -3.12L23.55 -1.38L24.56 -0.38L24.81 -0.25L25.06 -0.25L25.19 -0.12L25.44 -0.12L25.57 0L25.82 0L25.94 0.12L26.2 0.12L27.08 0.5L30.6 0.5L30.73 0.38L30.98 0.38L31.11 0.25L31.36 0.25L31.49 0.12L31.74 0.12L31.86 0L32.12 0L32.24 -0.12L33.12 -0.38L34.13 -1.38L34.89 -2.88L34.89 -5.88L34.13 -7.38L32.24 -9.25L31.99 -9.38L32.12 -9.62L32.75 -9.75L33.38 -10.25L34.13 -11.75L34.13 -14.25L34 -14.38L34.13 -14.5L33.38 -16L32.75 -16.5L32.49 -16.5L32.37 -16.62L32.12 -16.62L31.99 -16.75L31.74 -16.75L31.61 -16.88L31.36 -16.88L30.48 -17.25Z"/>
<path transform="translate(75.9 734.9)" fill="#000" fill-rule="evenodd" d="M6.42 -17.25L6.3 -17.12L6.05 -17.12L5.92 -17L4.16 -16.5L3.53 -16.12L2.64 -14.25L2.64 -11.88L3.53 -10.12L4.16 -9.75L4.41 -9.75L4.66 -9.5L4.53 -9.38L3.65 -9.12L2.77 -8.25L2.02 -6.75L2.02 -6.5L1.89 -6.38L1.89 -3.12L2.64 -1.5L3.78 -0.38L5.79 0.25L6.17 0.5L9.57 0.5L9.7 0.38L9.82 0.5L9.95 0.38L10.2 0.38L10.33 0.25L12.09 -0.25L12.34 -0.5L12.47 -0.5L13.22 -1.25L14.11 -3L14.11 -6.38L13.98 -6.5L14.11 -6.62L13.73 -7.38L13.48 -7.62L13.22 -8.25L12.22 -9.25L11.96 -9.25L11.46 -9.5L11.71 -9.75L11.96 -9.75L12.22 -9.88L12.34 -10.12L12.47 -10.12L13.35 -11.88L13.35 -14.25L12.47 -16.12L12.34 -16.12L12.22 -16.38L11.96 -16.5L11.71 -16.5L11.59 -16.62L11.33 -16.62L11.21 -16.75L10.96 -16.75L10.08 -17.12L9.7 -17.12L9.57 -17.25ZM6.42 -9L9.7 -9L10.83 -8.38L11.71 -7.5L12.34 -6.25L12.34 -3.25L12.09 -2.75L11.84 -2.5L11.59 -1.88L10.83 -1.12L9.57 -0.5L6.55 -0.5L6.42 -0.62L6.17 -0.62L5.42 -1L4.28 -2.12L3.65 -3.38L3.65 -6.12L3.78 -6.25L3.78 -6.5L4.28 -7.5L5.16 -8.38ZM5.16 -15.5L6.55 -16.25L9.45 -16.25L10.71 -15.62L11.46 -14.25L11.46 -11.88L10.96 -10.88L10.58 -10.5L9.57 -10L6.55 -10L5.29 -10.62L5.04 -10.88L4.53 -11.88L4.53 -14.25Z"/>
<path transform="translate(197.45 734.9)" fill="#000" fill-rule="evenodd" d="M8.82 -17.25L7.18 -17.25L7.05 -17.12L6.8 -17.12L6.67 -17L6.42 -17L6.3 -16.88L6.05 -16.88L5.92 -16.75L5.67 -16.75L5.54 -16.62L5.29 -16.62L4.41 -16.25L2.9 -14.75L2.9 -14.62L2.64 -14.38L2.64 -14.12L2.52 -14L2.52 -13.75L2.39 -13.62L2.39 -13.38L2.27 -13.25L2.27 -13L1.89 -12.12L2.02 -12L1.89 -11.88L1.89 -11L2.02 -10.88L2.02 -10.62L2.14 -10.5L2.77 -8.5L3.53 -7.75L3.53 -7.62L4.41 -6.75L4.66 -6.62L4.91 -6.62L5.04 -6.5L5.29 -6.5L5.42 -6.38L5.67 -6.38L5.79 -6.25L6.05 -6.25L6.93 -5.88L8.31 -5.88L8.44 -6L8.69 -6L8.82 -6.12L9.07 -6.12L9.19 -6.25L9.45 -6.25L9.57 -6.38L9.82 -6.38L9.95 -6.5L10.83 -6.75L10.83 -6.88L12.22 -8.25L12.34 -8.12L12.34 -7.12L12.22 -7L12.22 -6.62L12.09 -6.5L12.09 -6.12L11.96 -6L11.71 -4.62L10.83 -2.75L9.19 -1.12L7.93 -0.5L5.67 -0.5L4.66 -1L4.28 -1.38L4.03 -1.88L4.16 -2L4.41 -2L5.29 -3.12L5.16 -3.25L5.16 -3.62L4.41 -4.38L4.16 -4.38L4.03 -4.5L3.9 -4.38L3.65 -4.38L2.9 -3.62L2.64 -3.12L2.64 -2.38L3.4 -0.75L3.9 -0.25L5.42 0.5L5.54 0.38L5.67 0.5L8.19 0.5L8.31 0.38L8.56 0.38L8.69 0.25L8.94 0.25L9.07 0.12L9.32 0.12L9.45 0L9.7 0L9.82 -0.12L10.71 -0.38L12.47 -2.12L13.35 -3.88L13.48 -4.62L13.6 -4.75L13.6 -5.12L13.73 -5.25L13.73 -5.62L13.85 -5.75L13.85 -6.12L13.98 -6.25L13.98 -6.62L14.11 -6.75L14.11 -11.88L13.98 -12L14.11 -12.25L13.98 -12.38L13.98 -12.62L13.85 -12.75L13.35 -14.5L11.59 -16.25L11.08 -16.5L10.83 -16.5L10.71 -16.62L8.94 -17.12ZM7.3 -16.25L8.56 -16.25L10.08 -15.5L11.59 -14L11.84 -13.12L11.96 -13L11.96 -12.75L12.09 -12.62L12.09 -12.38L12.22 -12.25L12.22 -12L12.34 -11.88L12.34 -11.12L12.22 -11L12.22 -10.75L12.09 -10.62L12.09 -10.38L11.96 -10.25L11.96 -10L11.84 -9.88L11.59 -9L10.2 -7.62L9.32 -7.38L9.19 -7.25L8.94 -7.25L8.82 -7.12L8.56 -7.12L8.44 -7L8.19 -7L8.06 -6.88L7.18 -6.88L6.17 -7.38L4.41 -9.12L4.16 -10L4.03 -10.12L4.03 -10.38L3.9 -10.5L3.9 -10.75L3.78 -10.88L3.78 -11.12L3.65 -11.25L3.65 -11.75L3.78 -11.88L3.78 -12.12L3.9 -12.25L4.41 -14L6.05 -15.62Z"/>
<path transform="translate(310.9 734.9)" fill="#000" fill-rule="evenodd" d="M23.17 -17.25L23.05 -17.12L22.8 -17.12L22.67 -17L22.42 -17L22.29 -16.88L22.04 -16.88L21.91 -16.75L21.66 -16.75L21.54 -16.62L20.65 -16.38L20.28 -16L20.28 -15.88L18.77 -13.75L18.77 -13.5L18.64 -13.38L18.64 -12.88L18.51 -12.75L18.51 -12.25L18.39 -12.12L18.39 -11.62L18.26 -11.5L18.26 -11L18.14 -10.88L18.14 -10.38L18.01 -10.25L18.01 -9.75L17.88 -9.62L17.88 -7L18.01 -6.88L18.01 -6.38L18.14 -6.25L18.14 -5.75L18.26 -5.62L18.26 -5.12L18.39 -5L18.39 -4.5L18.51 -4.38L18.64 -3.25L18.89 -3L18.77 -2.88L19.02 -2.62L20.28 -0.62L20.78 -0.25L21.03 -0.25L21.16 -0.12L21.41 -0.12L21.54 0L21.79 0L21.91 0.12L22.17 0.12L23.05 0.5L25.06 0.5L25.44 0.25L25.69 0.25L25.82 0.12L26.07 0.12L26.2 0L26.45 0L26.57 -0.12L26.83 -0.12L27.71 -0.5L27.71 -0.62L29.22 -2.75L29.22 -3L29.47 -3.5L29.47 -4L29.6 -4.12L29.6 -4.62L29.72 -4.75L29.72 -5.25L29.85 -5.38L29.97 -6.5L30.1 -6.62L30.1 -10L29.97 -10.12L29.97 -10.62L29.85 -10.75L29.85 -11.25L29.72 -11.38L29.72 -11.88L29.6 -12L29.6 -12.5L29.47 -12.62L29.34 -13.62L27.71 -16.12L27.58 -16.12L27.46 -16.38L27.2 -16.38L27.08 -16.5L26.83 -16.5L26.7 -16.62L26.45 -16.62L26.32 -16.75L26.07 -16.75L25.94 -16.88L25.69 -16.88L24.81 -17.25ZM23.43 -16.25L24.56 -16.25L26.07 -15.5L26.95 -14.62L27.58 -13.38L27.58 -12.88L27.71 -12.75L27.71 -12.25L27.83 -12.12L27.83 -11.62L27.96 -11.5L27.96 -11L28.09 -10.88L28.09 -10.38L28.21 -10.25L28.21 -9.75L28.34 -9.62L28.34 -7L28.21 -6.88L28.21 -6.38L28.09 -6.25L28.09 -5.75L27.96 -5.62L27.96 -5.12L27.83 -5L27.83 -4.5L27.71 -4.38L27.58 -3.38L26.95 -2.12L25.94 -1.12L24.68 -0.5L23.3 -0.5L22.04 -1.12L21.16 -2L20.4 -3.62L20.4 -4.12L20.28 -4.25L20.28 -4.75L20.15 -4.88L20.15 -5.38L20.02 -5.5L20.02 -6L19.9 -6.12L19.9 -6.62L19.77 -6.75L19.77 -9.88L19.9 -10L19.9 -10.5L20.02 -10.62L20.02 -11.12L20.15 -11.25L20.15 -11.75L20.28 -11.88L20.28 -12.38L20.4 -12.5L20.4 -13L20.53 -13.12L20.53 -13.38L20.91 -14L21.03 -14.5L22.17 -15.62ZM8.82 -17.25L8.56 -17.12L6.17 -14.75L4.53 -14L4.28 -13.5L4.41 -13.25L4.79 -13L6.67 -13.88L7.43 -14.62L7.56 -14.5L7.56 -0.62L7.43 -0.5L4.79 -0.5L4.53 -0.38L4.28 0L4.41 0.25L4.79 0.5L11.96 0.5L12.22 0.38L12.47 0L12.34 -0.25L11.96 -0.5L9.45 -0.5L9.32 -0.62L9.32 -16.75L9.19 -17Z"/>
<path transform="translate(433.2 734.9)" fill="#000" fill-rule="evenodd" d="M24.81 -17.25L24.56 -17.12L22.04 -14.62L20.65 -14L20.28 -13.5L20.4 -13.25L20.78 -13L22.67 -13.88L23.43 -14.62L23.55 -14.5L23.55 -0.62L23.43 -0.5L20.78 -0.5L20.53 -0.38L20.28 0L20.4 0.25L20.78 0.5L28.09 0.5L28.34 0.38L28.59 0L28.46 -0.25L28.09 -0.5L25.44 -0.5L25.31 -0.62L25.31 -16.75L25.19 -17ZM8.82 -17.25L8.56 -17.12L6.17 -14.75L4.53 -14L4.28 -13.5L4.41 -13.25L4.79 -13L6.67 -13.88L7.43 -14.62L7.56 -14.5L7.56 -0.62L7.43 -0.5L4.79 -0.5L4.53 -0.38L4.28 0L4.41 0.25L4.79 0.5L11.96 0.5L12.22 0.38L12.47 0L12.34 -0.25L11.96 -0.5L9.45 -0.5L9.32 -0.62L9.32 -16.75L9.19 -17Z"/>
<path transform="translate(553.99 734.9)" fill="#000" fill-rule="evenodd" d="M20.15 -16.5L19.65 -16.25L18.77 -15.38L17.88 -13.5L17.88 -12.75L18.01 -12.62L18.01 -12.38L18.77 -11.62L19.27 -11.38L19.52 -11.5L20.4 -12.38L20.4 -12.62L20.53 -12.75L20.4 -12.88L20.4 -13.12L19.77 -13.75L19.27 -14L19.52 -14.62L20.4 -15.5L21.28 -15.75L21.41 -15.88L21.66 -15.88L21.79 -16L22.04 -16L22.17 -16.12L22.42 -16.12L22.54 -16.25L25.44 -16.25L26.7 -15.62L27.71 -14.62L28.34 -13.38L28.34 -12L27.58 -10.62L27.46 -10.62L25.31 -9.12L20.53 -6.75L18.89 -5.12L18.64 -4.62L18.51 -4L18.26 -3.62L18.01 -2.62L17.88 -2.5L17.88 0L18.14 0.38L18.39 0.5L18.64 0.38L18.89 0L18.89 -1.38L19.4 -1.88L20.65 -1.88L21.16 -1.62L21.41 -1.38L21.79 -1.25L22.04 -1L22.42 -0.88L22.67 -0.62L23.05 -0.5L23.3 -0.25L23.68 -0.12L23.93 0.12L24.81 0.5L28.09 0.5L28.34 0.38L29.34 -0.62L30.1 -2.12L29.97 -2.25L30.1 -2.38L30.1 -4L29.97 -4.25L29.6 -4.5L29.34 -4.38L29.09 -4L29.09 -2.62L28.34 -1.88L27.08 -1.25L24.94 -1.25L24.56 -1.5L24.31 -1.5L23.93 -1.75L23.68 -1.75L23.3 -2L23.05 -2L22.67 -2.25L22.42 -2.25L22.04 -2.5L21.79 -2.5L21.03 -2.88L20.91 -2.75L20.78 -2.88L19.27 -2.88L19.14 -3.12L19.27 -3.25L19.27 -3.5L19.4 -3.62L19.65 -4.5L21.16 -6L22.67 -6.75L22.92 -6.75L23.3 -7L23.55 -7L23.93 -7.25L24.18 -7.25L24.56 -7.5L24.81 -7.5L25.19 -7.75L26.07 -8L26.83 -8.38L28.59 -9.62L28.97 -9.75L29.09 -10L29.34 -10.12L29.47 -10.62L30.1 -11.75L30.1 -13.5L29.97 -13.62L30.1 -13.88L29.34 -15.38L28.72 -16L28.59 -16L27.96 -16.5L27.71 -16.5L27.58 -16.62L27.33 -16.62L27.2 -16.75L26.95 -16.75L26.83 -16.88L26.57 -16.88L25.69 -17.25L22.42 -17.25L22.29 -17.12L22.04 -17.12L21.91 -17ZM8.82 -17.25L8.56 -17.12L6.17 -14.75L4.53 -14L4.28 -13.5L4.41 -13.25L4.79 -13L6.67 -13.88L7.43 -14.62L7.56 -14.5L7.56 -0.62L7.43 -0.5L4.79 -0.5L4.53 -0.38L4.28 0L4.41 0.25L4.79 0.5L11.96 0.5L12.22 0.38L12.47 0L12.34 -0.25L11.96 -0.5L9.45 -0.5L9.32 -0.62L9.32 -16.75L9.19 -17Z"/>
<path transform="translate(675.54 734.9)" fill="#000" fill-rule="evenodd" d="M22.42 -17.25L22.29 -17.12L22.04 -17.12L21.91 -17L21.66 -17L21.54 -16.88L21.28 -16.88L21.16 -16.75L20.91 -16.75L20.78 -16.62L20.53 -16.62L19.65 -16.25L18.77 -15.38L17.88 -13.5L17.88 -12.75L18.01 -12.62L18.01 -12.38L18.77 -11.62L19.27 -11.38L19.52 -11.5L20.4 -12.38L20.4 -12.62L20.53 -12.75L20.4 -12.88L20.4 -13.12L19.77 -13.75L19.4 -13.88L19.27 -14.12L19.52 -14.62L20.4 -15.5L20.65 -15.62L20.91 -15.62L21.03 -15.75L21.28 -15.75L21.41 -15.88L21.66 -15.88L22.54 -16.25L25.44 -16.25L26.7 -15.62L26.95 -15.38L27.58 -14.12L27.58 -12L26.95 -10.75L25.57 -10L23.17 -10L22.92 -9.88L22.67 -9.5L22.8 -9.25L23.17 -9L25.69 -9L26.7 -8.5L27.58 -7.62L27.83 -6.75L27.96 -6.62L27.96 -6.38L28.09 -6.25L28.09 -6L28.21 -5.88L28.21 -5.62L28.34 -5.5L28.34 -3.25L27.71 -2L26.83 -1.12L25.57 -0.5L22.29 -0.5L22.17 -0.62L20.4 -1.12L19.65 -1.88L19.27 -2.62L19.52 -2.75L20.4 -3.62L20.4 -3.88L20.53 -4L20.4 -4.12L20.4 -4.38L19.77 -5L19.27 -5.25L19.14 -5.12L18.89 -5.12L18.14 -4.38L18.01 -4.38L18.01 -4.12L17.88 -4L17.88 -3.12L18.77 -1.38L19.77 -0.38L20.02 -0.25L20.28 -0.25L20.4 -0.12L20.65 -0.12L20.78 0L21.03 0L21.16 0.12L21.41 0.12L22.29 0.5L25.82 0.5L25.94 0.38L26.2 0.38L26.32 0.25L26.57 0.25L26.7 0.12L26.95 0.12L27.08 0L27.33 0L27.46 -0.12L28.34 -0.38L29.34 -1.38L29.47 -1.88L30.1 -3L30.1 -5.88L29.34 -7.38L27.46 -9.25L27.2 -9.38L27.33 -9.62L27.96 -9.75L28.59 -10.25L29.34 -11.75L29.34 -14.25L29.22 -14.38L29.34 -14.5L28.59 -16L27.96 -16.5L27.71 -16.5L27.58 -16.62L27.33 -16.62L27.2 -16.75L26.95 -16.75L26.83 -16.88L26.57 -16.88L25.69 -17.25ZM8.82 -17.25L8.56 -17.12L6.17 -14.75L4.53 -14L4.28 -13.5L4.41 -13.25L4.79 -13L6.67 -13.88L7.43 -14.62L7.56 -14.5L7.56 -0.62L7.43 -0.5L4.79 -0.5L4.53 -0.38L4.28 0L4.41 0.25L4.79 0.5L11.96 0.5L12.22 0.38L12.47 0L12.34 -0.25L11.96 -0.5L9.45 -0.5L9.32 -0.62L9.32 -16.75L9.19 -17Z"/>
<path transform="translate(312.76 770.5)" fill="#000" fill-rule="evenodd" d="M36.65 -11.62L34.89 -10.75L34.13 -10L33.25 -8.38L33.25 -8.12L33.12 -8L33.12 -6.38L33.75 -4.88L33.25 -4.38L32.37 -2.62L32.49 -2.5L32.37 -2.38L32.37 -1.62L32.49 -1.5L32.37 -1.38L33.12 0.12L33 0.25L32.75 0.25L32.37 0.62L32.12 1.25L31.86 1.5L31.49 2.38L31.49 3.12L32.37 5L32.49 5L32.62 5.25L32.87 5.38L33.12 5.38L33.25 5.5L33.5 5.5L33.63 5.62L33.88 5.62L34.76 6L35.14 6L35.26 6.12L40.05 6.12L40.18 6L40.43 6L40.55 5.88L42.32 5.38L42.95 5L43.7 3.5L43.58 3.25L43.7 3.12L43.7 2.38L43.58 2.25L43.7 2.12L42.95 0.62L42.44 0.25L42.19 0.25L42.07 0.12L41.81 0.12L41.69 0L41.44 0L41.31 -0.12L41.06 -0.12L40.18 -0.5L35.89 -0.5L35.77 -0.62L35.52 -0.62L35.39 -0.75L35.14 -0.75L35.01 -0.88L34.13 -1.12L33.38 -1.88L33.38 -2.38L34 -3.62L34.38 -4L34.51 -4L35.01 -3.5L36.9 -2.62L38.41 -2.62L40.3 -3.5L41.31 -4.5L42.19 -6.38L42.19 -8L41.44 -9.38L41.94 -9.88L43.2 -9.88L43.45 -10L43.7 -10.38L43.7 -11.12L43.45 -11.5L43.07 -11.62L41.31 -10.75L40.93 -10.38L40.81 -10.38L40.43 -10.75L38.66 -11.62L38.54 -11.5L38.41 -11.62L36.9 -11.62L36.78 -11.5ZM32.49 2.5L33.25 1.12L33.5 1.12L33.63 1L34.51 0.75L34.63 0.88L34.89 0.88L35.77 1.25L40.05 1.25L40.18 1.38L40.43 1.38L40.55 1.5L40.81 1.5L40.93 1.62L41.18 1.62L41.56 1.88L42.07 2L42.69 2.62L42.69 3.25L42.07 4.38L41.18 4.62L41.06 4.75L40.81 4.75L40.68 4.88L40.43 4.88L40.3 5L40.05 5L39.92 5.12L35.39 5.12L35.26 5L35.01 5L34.89 4.88L34.63 4.88L34.51 4.75L34.26 4.75L34.13 4.62L33.25 4.38L32.49 3ZM36.9 -10.62L38.29 -10.62L39.55 -10L39.8 -9.75L40.3 -8.75L40.3 -5.5L39.92 -4.75L39.42 -4.25L38.16 -3.62L37.03 -3.62L35.77 -4.25L35.52 -4.5L34.89 -5.75L34.89 -8.5L35.26 -9.12L35.26 -9.38L35.52 -9.88ZM21.41 -11.62L21.28 -11.5L21.03 -11.5L20.91 -11.38L20.65 -11.38L20.53 -11.25L20.28 -11.25L20.15 -11.12L19.9 -11.12L19.77 -11L18.89 -10.75L17.25 -9.12L17 -8.62L16.5 -6.88L16.37 -6.75L16.37 -4.38L16.5 -4.25L16.5 -4L16.62 -3.88L16.62 -3.62L16.75 -3.5L16.75 -3.25L16.88 -3.12L16.88 -2.88L17.25 -2L18.77 -0.5L18.89 -0.5L19.14 -0.25L19.4 -0.25L19.52 -0.12L19.77 -0.12L19.9 0L20.15 0L20.28 0.12L20.53 0.12L21.41 0.5L21.54 0.38L21.66 0.5L23.17 0.5L23.3 0.38L23.43 0.5L23.55 0.38L23.8 0.38L23.93 0.25L24.18 0.25L24.31 0.12L24.56 0.12L24.68 0L24.94 0L25.06 -0.12L25.94 -0.38L27.58 -2L27.83 -2.5L27.83 -2.75L27.96 -2.88L28.46 -4.62L28.59 -4.75L28.59 -6.38L28.46 -6.5L28.46 -6.75L28.34 -6.88L28.34 -7.12L28.21 -7.25L28.21 -7.5L28.09 -7.62L28.09 -7.88L27.96 -8L27.96 -8.25L27.58 -9.12L25.82 -10.88L25.57 -10.88L25.44 -11L25.19 -11L25.06 -11.12L24.81 -11.12L24.68 -11.25L24.43 -11.25L23.55 -11.62L23.3 -11.5L23.17 -11.62L21.66 -11.62L21.54 -11.5ZM21.66 -10.62L23.17 -10.62L24.43 -10L26.07 -8.38L26.07 -8.12L26.2 -8L26.2 -7.75L26.32 -7.62L26.32 -7.38L26.7 -6.5L26.7 -4.62L26.57 -4.5L26.07 -2.75L24.43 -1.12L23.17 -0.5L21.66 -0.5L20.4 -1.12L18.77 -2.75L18.77 -3L18.64 -3.12L18.64 -3.38L18.51 -3.5L18.51 -3.75L18.14 -4.62L18.14 -6.5L18.26 -6.62L18.77 -8.38L20.4 -10ZM59.82 -17.12L59.57 -16.75L59.7 -16.5L60.08 -16.25L61.84 -16.25L61.96 -16.12L61.96 -0.62L61.84 -0.5L60.08 -0.5L59.7 -0.25L59.57 0L59.7 0.25L60.08 0.5L64.86 0.5L65.11 0.38L65.36 0L65.24 -0.25L64.86 -0.5L63.1 -0.5L62.97 -0.62L62.97 -13L63.1 -13.12L63.22 -13L63.22 -12.75L63.35 -12.62L63.35 -12.38L63.48 -12.25L63.48 -12L63.6 -11.88L63.6 -11.62L63.73 -11.5L63.73 -11.25L63.85 -11.12L63.85 -10.88L63.98 -10.75L63.98 -10.5L64.11 -10.38L64.11 -10.12L64.23 -10L64.23 -9.75L64.36 -9.62L64.36 -9.38L64.48 -9.25L64.48 -9L64.61 -8.88L64.61 -8.62L64.73 -8.5L64.73 -8.25L64.86 -8.12L64.86 -7.88L64.99 -7.75L64.99 -7.5L65.11 -7.38L65.11 -7.12L65.24 -7L65.24 -6.75L65.36 -6.62L65.36 -6.38L65.49 -6.25L65.49 -6L65.62 -5.88L65.62 -5.62L65.74 -5.5L65.74 -5.25L65.87 -5.12L65.87 -4.88L65.99 -4.75L65.99 -4.5L66.12 -4.38L66.12 -4.12L66.25 -4L66.25 -3.75L66.37 -3.62L66.37 -3.38L66.5 -3.25L66.5 -3L66.62 -2.88L66.62 -2.62L66.75 -2.5L66.75 -2.25L66.88 -2.12L66.88 -1.88L67 -1.75L67.51 0L68.14 0.5L68.64 0.12L68.64 -0.12L68.77 -0.25L68.77 -0.5L68.89 -0.62L68.89 -0.88L69.02 -1L69.02 -1.25L69.14 -1.38L69.14 -1.62L69.27 -1.75L69.27 -2L69.39 -2.12L69.39 -2.38L69.52 -2.5L69.52 -2.75L69.65 -2.88L69.65 -3.12L69.77 -3.25L69.77 -3.5L69.9 -3.62L69.9 -3.88L70.02 -4L70.02 -4.25L70.15 -4.38L70.15 -4.62L70.28 -4.75L70.28 -5L70.4 -5.12L70.4 -5.38L70.53 -5.5L70.53 -5.75L70.65 -5.88L70.65 -6.12L70.78 -6.25L70.78 -6.5L70.91 -6.62L70.91 -6.88L71.03 -7L71.03 -7.25L71.16 -7.38L71.16 -7.62L71.28 -7.75L71.28 -8L71.41 -8.12L71.41 -8.38L71.54 -8.5L71.54 -8.75L71.66 -8.88L71.66 -9.12L71.79 -9.25L71.79 -9.5L71.91 -9.62L71.91 -9.88L72.04 -10L72.04 -10.25L72.17 -10.38L72.17 -10.62L72.29 -10.75L72.29 -11L72.42 -11.12L72.42 -11.38L72.54 -11.5L72.54 -11.75L72.67 -11.88L72.67 -12.12L73.05 -13L73.17 -12.88L73.17 -0.62L73.05 -0.5L71.28 -0.5L71.03 -0.38L70.78 0L70.91 0.25L71.28 0.5L76.95 0.5L77.2 0.38L77.46 0L77.33 -0.25L76.95 -0.5L75.06 -0.5L74.94 -0.62L74.94 -16.12L75.06 -16.25L76.95 -16.25L77.33 -16.5L77.46 -16.75L77.33 -17L76.95 -17.25L73.68 -17.25L73.17 -16.88L73.17 -16.62L73.05 -16.5L73.05 -16.25L72.92 -16.12L72.92 -15.88L72.8 -15.75L72.8 -15.5L72.67 -15.38L72.67 -15.12L72.54 -15L72.54 -14.75L72.42 -14.62L72.42 -14.38L72.29 -14.25L72.29 -14L72.17 -13.88L72.17 -13.62L72.04 -13.5L72.04 -13.25L71.91 -13.12L71.91 -12.88L71.79 -12.75L71.79 -12.5L71.66 -12.38L71.66 -12.12L71.54 -12L71.54 -11.75L71.41 -11.62L71.41 -11.38L71.28 -11.25L71.28 -11L71.16 -10.88L71.16 -10.62L71.03 -10.5L71.03 -10.25L70.91 -10.12L70.91 -9.88L70.78 -9.75L70.78 -9.5L70.65 -9.38L70.65 -9.12L70.53 -9L70.53 -8.75L70.4 -8.62L70.4 -8.38L70.28 -8.25L70.28 -8L70.15 -7.88L70.15 -7.62L70.02 -7.5L70.02 -7.25L69.9 -7.12L69.9 -6.88L69.77 -6.75L69.77 -6.5L69.65 -6.38L69.65 -6.12L69.52 -6L69.52 -5.75L69.39 -5.62L69.39 -5.38L69.27 -5.25L69.27 -5L69.14 -4.88L69.14 -4.62L69.02 -4.5L69.02 -4.25L68.89 -4.12L68.89 -3.88L68.51 -3L68.26 -3.38L68.26 -3.62L68.14 -3.75L68.14 -4L68.01 -4.12L68.01 -4.38L67.88 -4.5L67.88 -4.75L67.76 -4.88L67.76 -5.12L67.63 -5.25L67.63 -5.5L67.51 -5.62L67.51 -5.88L67.38 -6L67.38 -6.25L67.25 -6.38L67.25 -6.62L67.13 -6.75L67.13 -7L67 -7.12L67 -7.38L66.88 -7.5L66.88 -7.75L66.75 -7.88L66.75 -8.12L66.62 -8.25L66.62 -8.5L66.5 -8.62L66.5 -8.88L66.37 -9L66.37 -9.25L66.25 -9.38L66.25 -9.62L66.12 -9.75L66.12 -10L65.99 -10.12L65.99 -10.38L65.87 -10.5L65.87 -10.75L65.74 -10.88L65.74 -11.12L65.62 -11.25L65.62 -11.5L65.49 -11.62L65.49 -11.88L65.36 -12L65.36 -12.25L65.24 -12.38L65.24 -12.62L65.11 -12.75L65.11 -13L64.99 -13.12L64.99 -13.38L64.86 -13.5L64.86 -13.75L64.73 -13.88L64.73 -14.12L64.61 -14.25L64.61 -14.5L64.48 -14.62L64.48 -14.88L64.36 -15L63.85 -16.75L63.22 -17.25L60.08 -17.25ZM1.39 -17.12L1.13 -16.75L1.26 -16.5L1.64 -16.25L3.4 -16.25L3.53 -16.12L3.53 -0.62L3.4 -0.5L1.64 -0.5L1.26 -0.25L1.13 0L1.26 0.25L1.64 0.5L13.6 0.5L13.85 0.38L14.11 0L14.11 -4.75L13.98 -5L13.6 -5.25L13.1 -4.88L12.97 -3.62L12.85 -3.5L12.72 -2.25L12.59 -2.12L12.59 -1.5L12.47 -1.38L12.47 -0.75L12.22 -0.5L5.42 -0.5L5.29 -0.62L5.29 -16.12L5.42 -16.25L7.18 -16.25L7.43 -16.38L7.68 -16.75L7.56 -17L7.18 -17.25L1.64 -17.25Z"/>
<path transform="translate(391.98 777.6)" fill="#000" fill-rule="evenodd" d="M11.61 -7.25L11.48 -7.12L10.08 -6.75L8.8 -5.5L8.55 -4.62L8.42 -4.5L8.42 -4.25L8.29 -4.12L8.29 -2.75L8.42 -2.62L8.8 -1.25L10.08 0L10.97 0.25L11.1 0.38L11.36 0.38L11.48 0.5L13.02 0.5L13.4 0.25L14.42 0L15.7 -1.25L15.7 -1.5L15.82 -1.62L15.82 -1.88L16.21 -2.75L16.21 -4.12L16.08 -4.25L16.08 -4.5L15.95 -4.62L15.7 -5.5L14.42 -6.75L14.16 -6.75L14.04 -6.88L13.78 -6.88L12.89 -7.25ZM11.87 -6.25L12.63 -6.25L13.4 -5.88L14.29 -4.88L14.55 -4L14.67 -3.88L14.67 -2.75L14.42 -2.38L14.29 -1.75L13.4 -0.88L12.63 -0.5L11.74 -0.5L11.23 -0.75L10.21 -1.75L10.08 -2.38L9.83 -2.75L9.83 -3.88L9.95 -4L10.21 -4.88L11.1 -5.88ZM19.65 -10.62L19.4 -10.5L19.14 -10.12L19.14 -7.38L19.01 -7.25L18.12 -7.25L17.86 -7.12L17.61 -6.75L17.74 -6.5L18.12 -6.25L19.01 -6.25L19.14 -6.12L19.14 -1.5L19.27 -1.38L19.52 -0.38L19.91 0L20.8 0.5L20.93 0.38L21.05 0.5L22.08 0.5L22.2 0.38L22.33 0.5L23.1 0.12L23.22 -0.12L23.61 -0.38L23.61 -0.62L23.99 -1.25L23.86 -1.38L23.99 -1.5L23.86 -1.75L23.48 -2L23.1 -1.75L22.84 -1.12L22.46 -0.75L21.95 -0.5L21.31 -0.5L20.93 -1L20.93 -1.25L20.54 -2.12L20.54 -6.12L20.67 -6.25L22.08 -6.25L22.33 -6.38L22.59 -6.75L22.46 -7L22.08 -7.25L20.67 -7.25L20.54 -7.38L20.54 -10.12L20.29 -10.5L20.03 -10.62L19.78 -10.5ZM2.42 -10.62L2.17 -10.5L1.91 -10.12L1.91 -7.38L1.79 -7.25L1.02 -7.25L0.77 -7.12L0.51 -6.75L0.64 -6.5L1.02 -6.25L1.79 -6.25L1.91 -6.12L1.91 -1.75L2.04 -1.62L2.04 -1.38L2.17 -1.25L2.42 -0.38L2.68 -0.12L2.68 0L3.7 0.5L3.83 0.38L3.96 0.5L4.85 0.5L4.98 0.38L5.1 0.5L6.12 0L6.12 -0.12L6.38 -0.25L6.76 -1L6.76 -1.38L6.89 -1.5L6.76 -1.75L6.38 -2L5.87 -1.62L5.61 -1L5.36 -0.75L4.85 -0.5L4.21 -0.5L3.83 -0.88L3.83 -1.12L3.45 -2L3.45 -6.12L3.57 -6.25L4.85 -6.25L5.1 -6.38L5.36 -6.75L5.23 -7L4.85 -7.25L3.57 -7.25L3.45 -7.38L3.45 -10.12L3.19 -10.5L2.93 -10.62L2.81 -10.5L2.55 -10.5Z"/>
<path transform="translate(428.85 770.5)" fill="#000" fill-rule="evenodd" d="M12.59 -17.12L12.34 -16.75L12.47 -16.5L12.85 -16.25L14.61 -16.25L14.74 -16.12L14.74 -0.62L14.61 -0.5L12.85 -0.5L12.47 -0.25L12.34 0L12.47 0.25L12.85 0.5L18.39 0.5L18.77 0.25L18.89 0L18.77 -0.25L18.39 -0.5L16.62 -0.5L16.5 -0.62L16.5 -8.5L18.01 -10L18.26 -10L18.39 -10.12L18.64 -10.12L18.77 -10.25L19.02 -10.25L19.9 -10.62L21.54 -10.62L22.8 -10L23.55 -8.62L23.55 -0.62L23.43 -0.5L21.66 -0.5L21.28 -0.25L21.16 0L21.28 0.25L21.66 0.5L27.2 0.5L27.46 0.38L27.71 0L27.58 -0.25L27.2 -0.5L25.44 -0.5L25.31 -0.62L25.31 -8.75L25.19 -8.88L25.31 -9L24.94 -9.75L24.68 -10L24.43 -10.62L24.18 -10.88L23.93 -10.88L23.8 -11L23.55 -11L23.43 -11.12L23.17 -11.12L23.05 -11.25L22.8 -11.25L21.91 -11.62L19.9 -11.62L19.77 -11.5L19.52 -11.5L19.4 -11.38L19.14 -11.38L19.02 -11.25L17.25 -10.75L16.62 -10.12L16.5 -10.25L16.5 -16.75L16.37 -17L15.99 -17.25L12.85 -17.25ZM3.15 -20.38L2.9 -20.25L2.64 -19.88L2.64 5.62L2.77 5.88L3.15 6.12L8.82 6.12L9.07 6L9.32 5.62L9.19 5.38L8.82 5.12L4.66 5.12L4.53 5L4.53 -19.25L4.66 -19.38L8.82 -19.38L9.07 -19.5L9.32 -19.88L9.19 -20.12L8.82 -20.38Z"/>
<path transform="translate(457.5 763)" fill="#000" fill-rule="evenodd" d="M1.32 -4.38L1.44 -4.12L1.8 -3.88L10.06 -3.88L10.3 -4L10.54 -4.38L10.42 -4.62L10.06 -4.88L1.8 -4.88L1.56 -4.75ZM17.01 -10.62L16.77 -10.5L15.33 -9L14.49 -8.62L14.26 -8.12L14.38 -7.88L14.73 -7.62L15.93 -8.25L16.05 -8.12L16.05 -0.62L15.93 -0.5L14.73 -0.5L14.49 -0.38L14.26 0L14.38 0.25L14.73 0.5L18.81 0.5L19.05 0.38L19.29 0L19.17 -0.25L18.81 -0.5L17.61 -0.5L17.49 -0.62L17.49 -10.12L17.37 -10.38Z"/>
<path transform="translate(479.16 770.5)" fill="#000" fill-rule="evenodd" d="M1.39 -17.12L1.13 -16.75L1.26 -16.5L1.64 -16.25L3.4 -16.25L3.53 -16.12L3.53 -0.62L3.4 -0.5L1.64 -0.5L1.26 -0.25L1.13 0L1.26 0.25L1.64 0.5L6.42 0.5L6.67 0.38L6.93 0L6.8 -0.25L6.42 -0.5L4.66 -0.5L4.53 -0.62L4.53 -12.88L4.66 -13L4.79 -12.88L4.79 -12.62L4.91 -12.5L4.91 -12.25L5.04 -12.12L5.04 -11.88L5.16 -11.75L5.16 -11.5L5.29 -11.38L5.29 -11.12L5.42 -11L5.42 -10.75L5.54 -10.62L5.54 -10.38L5.67 -10.25L5.67 -10L5.79 -9.88L5.79 -9.62L5.92 -9.5L5.92 -9.25L6.05 -9.12L6.05 -8.88L6.17 -8.75L6.17 -8.5L6.3 -8.38L6.3 -8.12L6.42 -8L6.42 -7.75L6.55 -7.62L6.55 -7.38L6.67 -7.25L6.67 -7L6.8 -6.88L6.8 -6.62L6.93 -6.5L6.93 -6.25L7.05 -6.12L7.05 -5.88L7.18 -5.75L7.18 -5.5L7.3 -5.38L7.3 -5.12L7.43 -5L7.43 -4.75L7.56 -4.62L7.56 -4.38L7.68 -4.25L7.68 -4L7.81 -3.88L7.81 -3.62L7.93 -3.5L7.93 -3.25L8.06 -3.12L8.06 -2.88L8.19 -2.75L8.19 -2.5L8.31 -2.38L8.31 -2.12L8.44 -2L8.44 -1.75L8.56 -1.62L9.07 0.12L9.57 0.5L10.2 0L10.2 -0.25L10.33 -0.38L10.33 -0.62L10.45 -0.75L10.45 -1L10.58 -1.12L10.58 -1.38L10.71 -1.5L10.71 -1.75L10.83 -1.88L10.83 -2.12L10.96 -2.25L10.96 -2.5L11.08 -2.62L11.08 -2.88L11.21 -3L11.21 -3.25L11.33 -3.38L11.33 -3.62L11.46 -3.75L11.46 -4L11.59 -4.12L11.59 -4.38L11.71 -4.5L11.71 -4.75L11.84 -4.88L11.84 -5.12L11.96 -5.25L11.96 -5.5L12.09 -5.62L12.09 -5.88L12.22 -6L12.22 -6.25L12.34 -6.38L12.34 -6.62L12.47 -6.75L12.47 -7L12.59 -7.12L12.59 -7.38L12.72 -7.5L12.72 -7.75L12.85 -7.88L12.85 -8.12L12.97 -8.25L12.97 -8.5L13.1 -8.62L13.1 -8.88L13.22 -9L13.22 -9.25L13.35 -9.38L13.35 -9.62L13.48 -9.75L13.48 -10L13.6 -10.12L13.6 -10.38L13.73 -10.5L13.73 -10.75L13.85 -10.88L13.85 -11.12L13.98 -11.25L13.98 -11.5L14.11 -11.62L14.11 -11.88L14.23 -12L14.23 -12.25L14.61 -13.12L14.74 -13L14.74 -0.62L14.61 -0.5L12.85 -0.5L12.59 -0.38L12.34 0L12.47 0.25L12.85 0.5L18.39 0.5L18.64 0.38L18.89 0L18.77 -0.25L18.39 -0.5L16.62 -0.5L16.5 -0.62L16.5 -16.12L16.62 -16.25L18.39 -16.25L18.77 -16.5L18.89 -16.75L18.77 -17L18.39 -17.25L15.24 -17.25L14.74 -16.88L14.48 -16L14.36 -15.88L14.36 -15.62L14.23 -15.5L14.23 -15.25L14.11 -15.12L14.11 -14.88L13.98 -14.75L13.98 -14.5L13.85 -14.38L13.85 -14.12L13.73 -14L13.73 -13.75L13.6 -13.62L13.6 -13.38L13.48 -13.25L13.48 -13L13.35 -12.88L13.35 -12.62L13.22 -12.5L13.22 -12.25L13.1 -12.12L13.1 -11.88L12.97 -11.75L12.97 -11.5L12.85 -11.38L12.85 -11.12L12.72 -11L12.72 -10.75L12.59 -10.62L12.59 -10.38L12.47 -10.25L12.47 -10L12.34 -9.88L12.34 -9.62L12.22 -9.5L12.22 -9.25L12.09 -9.12L12.09 -8.88L11.96 -8.75L11.96 -8.5L11.84 -8.38L11.84 -8.12L11.71 -8L11.71 -7.75L11.59 -7.62L11.59 -7.38L11.46 -7.25L11.46 -7L11.33 -6.88L11.33 -6.62L11.21 -6.5L11.21 -6.25L11.08 -6.12L11.08 -5.88L10.96 -5.75L10.96 -5.5L10.83 -5.38L10.83 -5.12L10.71 -5L10.71 -4.75L10.58 -4.62L10.58 -4.38L10.45 -4.25L10.45 -4L10.33 -3.88L10.33 -3.62L10.2 -3.5L10.2 -3.25L9.95 -3.12L9.82 -3.25L9.82 -3.5L9.7 -3.62L9.7 -3.88L9.57 -4L9.57 -4.25L9.45 -4.38L9.45 -4.62L9.32 -4.75L9.32 -5L9.19 -5.12L9.19 -5.38L9.07 -5.5L9.07 -5.75L8.94 -5.88L8.94 -6.12L8.82 -6.25L8.82 -6.5L8.69 -6.62L8.69 -6.88L8.56 -7L8.56 -7.25L8.44 -7.38L8.44 -7.62L8.31 -7.75L8.31 -8L8.19 -8.12L8.19 -8.38L8.06 -8.5L8.06 -8.75L7.93 -8.88L7.93 -9.12L7.81 -9.25L7.81 -9.5L7.68 -9.62L7.68 -9.88L7.56 -10L7.56 -10.25L7.43 -10.38L7.43 -10.62L7.3 -10.75L7.3 -11L7.18 -11.12L7.18 -11.38L7.05 -11.5L7.05 -11.75L6.93 -11.88L6.93 -12.12L6.8 -12.25L6.8 -12.5L6.67 -12.62L6.67 -12.88L6.55 -13L6.55 -13.25L6.42 -13.38L6.42 -13.62L6.3 -13.75L6.3 -14L6.17 -14.12L6.17 -14.38L6.05 -14.5L6.05 -14.75L5.92 -14.88L5.92 -15.12L5.79 -15.25L5.79 -15.5L5.67 -15.62L5.67 -15.88L5.54 -16L5.29 -16.88L4.79 -17.25L1.64 -17.25Z"/>
<circle cx="505.9" cy="773.5" r="5.3" fill="none" stroke="#000" stroke-width="1.2"/>
<circle cx="505.9" cy="773.5" r="1.45" fill="#000"/>
<path transform="translate(512.84 770.5)" fill="#000" fill-rule="evenodd" d="M2.39 -20.38L2.14 -20.25L1.89 -19.88L2.02 -19.62L2.39 -19.38L6.55 -19.38L6.67 -19.25L6.67 5L6.55 5.12L2.39 5.12L2.14 5.25L1.89 5.62L2.02 5.88L2.39 6.12L8.06 6.12L8.31 6L8.56 5.62L8.56 -19.88L8.44 -20.12L8.06 -20.38Z"/>
<path transform="translate(205.1 461.2)" fill="#000" fill-rule="evenodd" d="M27.36 -9.5L27.49 -9.25L27.87 -9L47.31 -9L47.56 -9.12L47.82 -9.5L47.69 -9.75L47.31 -10L27.87 -10L27.62 -9.88ZM149.98 -15.12L147.93 -14.12L146.78 -13L146.78 -12.75L146.65 -12.62L146.65 -10.5L146.78 -10.38L146.78 -10.12L147.93 -9L150.49 -7.75L150.74 -7.75L151.13 -7.5L151.77 -7.38L152.15 -7.12L152.41 -7.12L152.79 -6.88L153.05 -6.88L153.43 -6.62L153.68 -6.62L154.07 -6.38L154.96 -6.12L157.52 -4.88L158.42 -4L158.42 -2.38L157.39 -1.38L155.6 -0.5L151.51 -0.5L150.1 -1.25L149.85 -1.25L148.57 -2.5L147.55 -4.5L147.16 -4.75L146.91 -4.62L146.65 -4.25L146.65 0L146.91 0.38L147.16 0.5L147.42 0.38L147.68 0.12L148.19 -1L148.44 -1.12L149.21 -0.5L151.25 0.5L155.73 0.5L155.86 0.38L155.99 0.5L158.03 -0.5L159.31 -1.75L159.31 -2L159.44 -2.12L159.44 -5.25L159.31 -5.38L159.31 -5.62L158.16 -6.75L155.6 -8L155.35 -8L154.96 -8.25L154.32 -8.38L153.94 -8.62L153.68 -8.62L153.3 -8.88L153.05 -8.88L152.66 -9.12L152.41 -9.12L152.02 -9.38L151.13 -9.62L148.57 -10.88L147.68 -11.75L147.68 -12.38L148.7 -13.38L150.49 -14.25L154.58 -14.25L156.37 -13.38L157.52 -12.25L158.42 -10.38L158.93 -10L159.18 -10.12L159.44 -10.5L159.44 -14.75L159.18 -15.12L158.93 -15.25L158.67 -15.12L158.29 -14.38L158.03 -14.12L157.9 -13.75L157.65 -13.5L157.01 -14.12L154.71 -15.25L150.36 -15.25L150.23 -15.12ZM133.23 -15.25L133.1 -15.12L132.72 -15.12L132.59 -15L132.33 -15L132.2 -14.88L131.95 -14.88L131.82 -14.75L131.56 -14.75L131.44 -14.62L131.18 -14.62L131.05 -14.5L130.8 -14.5L130.67 -14.38L129.78 -14.12L127.22 -11.62L127.22 -11.38L127.09 -11.25L127.09 -11L126.96 -10.88L126.96 -10.62L126.83 -10.5L126.83 -10.25L126.71 -10.12L126.71 -9.88L126.58 -9.75L126.58 -9.5L126.2 -8.62L126.2 -6.12L126.32 -6L126.32 -5.75L126.45 -5.62L126.45 -5.38L126.58 -5.25L126.58 -5L126.71 -4.88L127.22 -3.12L127.47 -2.88L127.47 -2.75L129.65 -0.62L130.54 -0.38L130.67 -0.25L130.93 -0.25L131.05 -0.12L131.31 -0.12L131.44 0L131.69 0L131.82 0.12L132.08 0.12L132.2 0.25L132.46 0.25L132.59 0.38L132.84 0.38L132.97 0.5L133.1 0.38L133.23 0.5L135.27 0.5L135.4 0.38L135.53 0.5L135.66 0.38L135.91 0.38L136.04 0.25L136.3 0.25L136.42 0.12L136.68 0.12L136.81 0L137.06 0L137.19 -0.12L137.45 -0.12L137.57 -0.25L137.83 -0.25L137.96 -0.38L138.85 -0.62L141.03 -2.75L141.03 -3L141.15 -3.12L141.03 -3.38L140.64 -3.62L140.39 -3.5L138.34 -1.5L138.09 -1.38L137.83 -1.38L137.7 -1.25L137.45 -1.25L137.32 -1.12L137.06 -1.12L136.94 -1L136.68 -1L136.55 -0.88L136.3 -0.88L135.4 -0.5L133.23 -0.5L131.44 -1.38L129.26 -3.5L129.26 -3.75L129.14 -3.88L129.14 -4.12L129.01 -4.25L129.01 -4.5L128.88 -4.62L128.88 -4.88L128.75 -5L128.75 -5.25L128.37 -6.12L128.37 -7.75L128.5 -7.88L140.64 -7.88L140.9 -8L141.15 -8.38L141.15 -10.5L141.03 -10.62L141.15 -10.88L140.13 -12.88L138.6 -14.25L136.42 -15.25ZM128.5 -9L128.62 -9.12L128.62 -9.38L128.75 -9.5L128.75 -9.75L128.88 -9.88L128.88 -10.12L129.01 -10.25L129.26 -11.12L131.56 -13.38L133.36 -14.25L136.3 -14.25L138.09 -13.38L139.11 -11.5L139.11 -9L138.98 -8.88L128.62 -8.88ZM113.79 -15.25L113.54 -15.12L113.28 -14.75L113.41 -14.5L113.79 -14.25L116.48 -14.25L116.61 -14.12L116.61 -0.62L116.48 -0.5L113.79 -0.5L113.54 -0.38L113.28 0L113.41 0.25L113.79 0.5L121.34 0.5L121.59 0.38L121.85 0L121.72 -0.25L121.34 -0.5L118.78 -0.5L118.65 -0.62L118.65 -14.75L118.52 -15L118.14 -15.25ZM95.64 -15.25L95.38 -15.12L95.13 -14.75L95.25 -14.5L95.64 -14.25L98.19 -14.25L98.32 -14.12L98.32 -0.62L98.19 -0.5L95.64 -0.5L95.38 -0.38L95.13 0L95.25 0.25L95.64 0.5L103.05 0.5L103.31 0.38L103.56 0L103.44 -0.25L103.05 -0.5L100.5 -0.5L100.37 -0.62L100.37 -8.38L100.5 -8.5L100.5 -8.75L100.62 -8.88L100.62 -9.12L100.75 -9.25L101.39 -11.25L103.56 -13.38L105.35 -14.25L108.17 -14.25L108.3 -14.12L107.02 -13L107.02 -12.75L106.89 -12.62L107.02 -12.5L107.02 -12.25L108.17 -11.12L108.42 -11L108.93 -11.25L109.96 -12.25L109.96 -12.5L110.09 -12.62L110.09 -13.62L109.96 -13.75L109.96 -14L108.42 -15.25L105.23 -15.25L102.93 -14.12L100.5 -11.75L100.37 -11.88L100.37 -14.75L100.11 -15.12L99.86 -15.25ZM108.93 -13.5L109.06 -13.38L109.06 -12.88L108.55 -12.38L108.42 -12.38L108.17 -12.62ZM82.72 -15.25L82.6 -15.12L82.21 -15.12L82.08 -15L81.83 -15L81.7 -14.88L81.45 -14.88L81.32 -14.75L81.06 -14.75L80.93 -14.62L80.68 -14.62L80.55 -14.5L80.29 -14.5L80.17 -14.38L79.27 -14.12L76.84 -11.75L76.59 -10.88L76.46 -10.75L76.46 -10.5L76.33 -10.38L76.33 -10.12L76.2 -10L76.2 -9.75L76.08 -9.62L76.08 -9.38L75.95 -9.25L75.95 -9L75.82 -8.88L75.82 -8.5L75.69 -8.38L75.69 -6.25L75.82 -6.12L75.82 -5.88L75.95 -5.75L75.95 -5.5L76.08 -5.38L76.08 -5.12L76.2 -5L76.2 -4.75L76.33 -4.62L76.33 -4.38L76.46 -4.25L76.46 -4L76.59 -3.88L76.59 -3.62L76.97 -2.75L79.02 -0.75L79.14 -0.75L79.4 -0.5L79.66 -0.5L79.78 -0.38L80.04 -0.38L80.17 -0.25L80.42 -0.25L80.55 -0.12L80.81 -0.12L80.93 0L81.19 0L81.32 0.12L81.57 0.12L82.47 0.5L85.03 0.5L85.15 0.38L85.41 0.38L85.54 0.25L85.79 0.25L85.92 0.12L86.18 0.12L86.3 0L86.56 0L86.69 -0.12L86.94 -0.12L87.07 -0.25L87.33 -0.25L87.45 -0.38L88.35 -0.62L90.65 -2.88L90.78 -3.12L90.65 -3.38L90.27 -3.62L90.14 -3.5L89.88 -3.5L87.84 -1.5L87.58 -1.38L87.33 -1.38L87.2 -1.25L86.94 -1.25L86.81 -1.12L86.56 -1.12L86.43 -1L86.18 -1L86.05 -0.88L85.79 -0.88L84.9 -0.5L82.72 -0.5L80.93 -1.38L78.89 -3.38L78.63 -4.25L78.5 -4.38L78.5 -4.62L78.38 -4.75L78.38 -5L78.25 -5.12L78.25 -5.38L78.12 -5.5L78.12 -5.75L77.99 -5.88L77.99 -6.12L77.87 -6.25L77.87 -7.75L77.99 -7.88L90.27 -7.88L90.52 -8L90.78 -8.38L90.78 -10.5L89.63 -12.88L88.35 -14.12L85.92 -15.25ZM78.12 -9.25L78.25 -9.38L78.76 -11.12L81.06 -13.38L82.85 -14.25L85.79 -14.25L87.58 -13.38L88.61 -11.5L88.61 -9L88.48 -8.88L78.25 -8.88L78.12 -9ZM117.12 -22.5L116.99 -22.38L116.73 -22.38L115.97 -21.62L115.84 -21.62L115.58 -21.38L115.58 -21.12L115.46 -21L115.58 -20.88L115.58 -20.62L116.61 -19.62L116.99 -19.62L117.12 -19.5L117.25 -19.62L117.5 -19.62L118.52 -20.62L118.52 -20.88L118.65 -21L118.52 -21.12L118.52 -21.38L117.76 -22.12ZM117.12 -21.38L117.37 -21L117.12 -20.75L116.99 -20.75L116.73 -21ZM70.07 -22.38L69.81 -22.5L69.3 -22.25L69.3 -22L69.17 -21.88L68.66 -20.12L68.4 -20L67 -21.38L66.49 -21.62L66.23 -21.62L66.1 -21.75L65.85 -21.75L65.72 -21.88L63.93 -22.38L63.8 -22.5L59.84 -22.5L59.71 -22.38L59.45 -22.38L59.33 -22.25L59.07 -22.25L58.94 -22.12L58.69 -22.12L58.56 -22L58.3 -22L58.18 -21.88L57.92 -21.88L57.79 -21.75L57.54 -21.75L57.41 -21.62L56.51 -21.38L54.47 -19.38L54.21 -18.88L54.21 -16.75L55.36 -14.5L56.39 -13.5L56.51 -13.25L58.81 -12.12L59.07 -12.12L59.2 -12L59.45 -12L59.58 -11.88L59.84 -11.88L59.97 -11.75L60.22 -11.75L60.35 -11.62L60.6 -11.62L60.73 -11.5L60.99 -11.5L61.12 -11.38L61.37 -11.38L61.5 -11.25L61.76 -11.25L61.88 -11.12L62.14 -11.12L62.27 -11L62.52 -11L62.65 -10.88L62.91 -10.88L63.03 -10.75L63.29 -10.75L63.42 -10.62L65.21 -10.12L67.25 -9.12L69.3 -7.12L69.3 -3.38L67.25 -1.38L67 -1.38L66.87 -1.25L66.61 -1.25L66.49 -1.12L66.23 -1.12L66.1 -1L65.85 -1L65.72 -0.88L65.46 -0.88L64.57 -0.5L61.24 -0.5L61.12 -0.62L60.86 -0.62L60.73 -0.75L60.48 -0.75L60.35 -0.88L60.09 -0.88L59.97 -1L59.71 -1L59.58 -1.12L59.33 -1.12L59.2 -1.25L58.3 -1.5L56.26 -3.5L56.26 -3.75L56.13 -3.88L56.13 -4.12L56 -4.25L56 -4.5L55.87 -4.62L55.36 -6.38L54.72 -6.75L54.47 -6.62L54.21 -6.25L54.21 0L54.47 0.38L54.72 0.5L55.36 0L55.87 -1.75L56.13 -2.12L57.54 -0.75L57.66 -0.75L57.92 -0.5L58.18 -0.5L58.3 -0.38L58.56 -0.38L58.69 -0.25L58.94 -0.25L59.07 -0.12L59.33 -0.12L59.45 0L59.71 0L59.84 0.12L60.09 0.12L60.99 0.5L64.57 0.5L64.7 0.38L64.95 0.38L65.08 0.25L65.34 0.25L65.46 0.12L65.72 0.12L65.85 0L66.1 0L66.23 -0.12L66.49 -0.12L66.61 -0.25L66.87 -0.25L67 -0.38L67.25 -0.38L68.15 -0.75L70.19 -2.75L70.19 -3L70.32 -3.12L70.32 -7.38L70.19 -7.5L70.32 -7.62L69.94 -8.12L69.17 -9.75L67.89 -11L66.87 -11.5L66.61 -11.5L65.46 -12.12L65.21 -12.12L65.08 -12.25L64.82 -12.25L64.7 -12.38L64.44 -12.38L64.31 -12.5L64.06 -12.5L63.93 -12.62L63.67 -12.62L63.55 -12.75L63.29 -12.75L63.16 -12.88L62.91 -12.88L62.78 -13L62.52 -13L62.39 -13.12L62.14 -13.12L62.01 -13.25L61.76 -13.25L61.63 -13.38L61.37 -13.38L61.24 -13.5L59.45 -14L57.15 -15.12L55.23 -17L55.23 -18.62L57.28 -20.62L58.18 -20.88L58.3 -21L58.56 -21L58.69 -21.12L58.94 -21.12L59.07 -21.25L59.33 -21.25L59.45 -21.38L59.71 -21.38L59.84 -21.5L63.55 -21.5L63.67 -21.38L63.93 -21.38L64.06 -21.25L64.31 -21.25L64.44 -21.12L66.23 -20.62L68.28 -18.62L68.53 -17.75L68.66 -17.62L68.66 -17.38L68.79 -17.25L68.79 -17L68.92 -16.88L68.92 -16.62L69.04 -16.5L69.04 -16.25L69.17 -16.12L69.17 -15.88L69.3 -15.62L69.81 -15.25L70.07 -15.38L70.32 -15.75L70.32 -22ZM7.16 -21.38L4.86 -19.12L3.84 -17.12L3.71 -16.38L3.58 -16.25L3.58 -15.88L3.45 -15.75L3.45 -15.38L3.32 -15.25L3.32 -14.88L3.2 -14.75L3.2 -14.38L3.07 -14.25L3.07 -13.88L2.94 -13.75L2.94 -13.38L2.81 -13.25L2.81 -12.88L2.69 -12.75L2.69 -9.38L2.81 -9.25L2.81 -8.88L2.94 -8.75L2.94 -8.38L3.07 -8.25L3.07 -7.88L3.2 -7.75L3.2 -7.38L3.32 -7.25L3.32 -6.88L3.45 -6.75L3.45 -6.25L3.58 -6.12L3.71 -5.25L4.09 -4.62L4.09 -4.38L4.86 -2.88L7.03 -0.75L7.54 -0.5L7.8 -0.5L7.93 -0.38L8.18 -0.38L8.31 -0.25L10.1 0.25L10.48 0.5L13.17 0.5L13.55 0.25L13.81 0.25L13.94 0.12L14.83 -0.12L15.09 0.38L15.09 1.12L15.22 1.25L15.22 2L15.34 2.12L15.47 3.75L15.6 3.88L15.6 4.25L15.73 4.5L16.88 5.62L17.13 5.75L19.31 5.75L19.82 5.5L20.84 3.5L20.84 3.25L20.97 3.12L20.97 2.12L20.71 1.75L20.46 1.62L20.2 1.75L19.95 2.12L19.95 2.88L19.05 3.75L18.54 3.75L17.52 2.75L16.62 1L16.24 -0.5L16.49 -0.75L16.62 -0.75L18.67 -2.75L19.82 -5L19.95 -5.75L20.07 -5.88L20.07 -6.25L20.2 -6.38L20.2 -6.75L20.33 -6.88L20.33 -7.25L20.46 -7.38L20.46 -7.75L20.59 -7.88L20.59 -8.25L20.71 -8.38L20.71 -8.88L20.84 -9L20.84 -9.38L20.97 -9.5L20.97 -12.62L20.84 -12.75L20.84 -13.12L20.71 -13.25L20.71 -13.62L20.59 -13.75L20.59 -14.12L20.46 -14.25L20.46 -14.62L20.33 -14.75L20.33 -15.12L20.2 -15.25L20.2 -15.62L20.07 -15.75L20.07 -16.12L19.95 -16.25L19.82 -17L18.67 -19.25L16.49 -21.38L15.98 -21.62L15.73 -21.62L15.6 -21.75L15.34 -21.75L15.22 -21.88L14.96 -21.88L14.83 -22L14.58 -22L14.45 -22.12L14.19 -22.12L13.3 -22.5L10.36 -22.5L9.97 -22.25L9.72 -22.25L9.59 -22.12L9.33 -22.12L9.21 -22ZM16.49 3.38L16.62 3.25L18.03 4.62L17.9 4.75L17.39 4.75L16.62 4ZM8.05 -3.12L8.82 -4.62L9.21 -5L10.74 -5.75L11.89 -5.75L13.43 -5L13.68 -4.75L14.58 -3L14.7 -1.5L12.79 -0.5L10.87 -0.5L8.95 -1.38L8.05 -2.25ZM10.74 -21.5L12.91 -21.5L14.7 -20.62L16.75 -18.62L17.9 -16.25L17.9 -15.88L18.03 -15.75L18.03 -15.38L18.16 -15.25L18.16 -14.88L18.28 -14.75L18.28 -14.38L18.41 -14.25L18.41 -13.88L18.54 -13.75L18.54 -13.38L18.67 -13.25L18.67 -12.88L18.8 -12.75L18.8 -9.25L18.67 -9.12L18.67 -8.75L18.54 -8.62L18.54 -8.25L18.41 -8.12L18.41 -7.75L18.28 -7.62L18.28 -7.25L18.16 -7.12L18.16 -6.75L18.03 -6.62L18.03 -6.25L17.9 -6.12L17.77 -5.38L16.75 -3.38L15.85 -2.5L15.6 -2.75L15.6 -3.25L14.45 -5.5L14.32 -5.5L14.19 -5.75L13.17 -6.25L12.91 -6.25L12.02 -6.75L11.89 -6.62L11.76 -6.75L10.74 -6.75L10.61 -6.62L10.36 -6.75L8.31 -5.75L7.03 -3.38L6.78 -3.62L5.75 -5.62L5.75 -6L5.63 -6.12L5.63 -6.5L5.5 -6.62L5.5 -7L5.37 -7.12L5.37 -7.5L5.24 -7.62L5.24 -8L5.11 -8.12L5.11 -8.5L4.99 -8.62L4.99 -9L4.86 -9.12L4.86 -12.88L4.99 -13L4.99 -13.38L5.11 -13.5L5.11 -13.88L5.24 -14L5.24 -14.38L5.37 -14.5L5.37 -14.88L5.5 -15L5.75 -16.38L6.78 -18.5L8.95 -20.62Z"/>
<path transform="translate(266.41 502.14)" fill="#0000ff" fill-rule="evenodd" d="M133.37 -11.38L133.25 -11.12L133.37 -10.88L133.75 -10.62L135.52 -10.62L135.64 -10.5L135.64 -0.62L135.52 -0.5L133.75 -0.5L133.5 -0.38L133.25 0L133.5 0.38L133.75 0.5L139.42 0.5L139.8 0.25L139.92 0L139.8 -0.25L139.42 -0.5L137.66 -0.5L137.53 -0.62L137.53 -8.62L138.79 -9.88L139.67 -10.12L139.8 -10.25L140.05 -10.25L140.18 -10.38L140.43 -10.38L140.55 -10.5L140.8 -10.5L140.93 -10.62L142.44 -10.62L143.7 -10L143.95 -9.75L144.46 -8.75L144.46 -0.62L144.33 -0.5L142.57 -0.5L142.19 -0.25L142.06 0L142.19 0.25L142.57 0.5L148.24 0.5L148.61 0.25L148.74 0L148.61 -0.25L148.24 -0.5L146.47 -0.5L146.35 -0.62L146.35 -8.75L145.46 -10.5L145.09 -10.88L144.83 -10.88L144.71 -11L144.46 -11L144.33 -11.12L144.08 -11.12L143.95 -11.25L143.7 -11.25L142.82 -11.62L140.8 -11.62L140.68 -11.5L140.43 -11.5L140.3 -11.38L140.05 -11.38L139.92 -11.25L138.16 -10.75L137.66 -10.25L137.53 -10.38L137.53 -11.12L137.4 -11.38L137.03 -11.62L133.75 -11.62ZM124.94 -11.62L124.68 -11.5L124.43 -11.12L124.68 -10.75L124.94 -10.62L126.7 -10.62L126.83 -10.5L126.83 -0.62L126.7 -0.5L124.94 -0.5L124.68 -0.38L124.43 0L124.56 0.25L124.94 0.5L130.6 0.5L130.86 0.38L131.11 0L130.86 -0.38L130.6 -0.5L128.84 -0.5L128.71 -0.62L128.71 -11.12L128.59 -11.38L128.21 -11.62ZM104.41 -11.12L104.53 -10.88L104.91 -10.62L106.93 -10.62L107.05 -10.5L107.05 -10.12L107.3 -9.62L107.3 -9.25L107.56 -8.75L107.56 -8.38L107.81 -7.88L107.81 -7.5L108.06 -7L108.06 -6.62L108.31 -6.12L108.31 -5.75L108.56 -5.25L108.56 -4.88L108.82 -4.38L108.82 -4L109.07 -3.5L109.07 -3.12L109.32 -2.62L109.32 -2.25L109.57 -1.75L109.57 -1.38L109.82 -0.88L109.82 -0.5L109.95 -0.38L110.07 0.12L110.58 0.5L111.08 0.12L111.08 -0.25L111.33 -0.75L111.33 -1.12L111.59 -1.62L111.59 -2L111.84 -2.5L111.84 -2.88L112.09 -3.38L112.09 -3.75L112.34 -4.25L112.34 -4.62L112.59 -5.12L112.59 -5.5L112.85 -6L112.85 -6.38L113.1 -6.88L113.1 -7.25L113.22 -7.38L113.35 -8.12L113.47 -8.25L113.6 -9L113.73 -9.12L114.1 -8.25L114.1 -7.88L114.36 -7.38L114.36 -7L114.61 -6.5L114.61 -6.12L114.86 -5.62L114.86 -5.25L115.11 -4.75L115.11 -4.38L115.36 -3.88L115.36 -3.5L115.62 -3L115.62 -2.62L115.87 -2.12L115.87 -1.75L116.12 -1.25L116.12 -0.88L116.37 -0.38L116.37 0L117 0.5L117.38 0.25L117.51 -0.25L117.63 -0.38L117.63 -0.75L117.88 -1.25L117.88 -1.62L118.13 -2.12L118.13 -2.5L118.39 -3L118.39 -3.38L118.64 -3.88L118.64 -4.25L118.89 -4.75L118.89 -5.12L119.14 -5.62L119.14 -6L119.39 -6.5L119.39 -6.88L119.65 -7.38L119.65 -7.75L119.9 -8.25L119.9 -8.62L120.15 -9.12L120.15 -9.5L120.4 -10L120.4 -10.38L120.65 -10.62L122.54 -10.62L122.79 -10.75L123.05 -11.12L122.92 -11.38L122.54 -11.62L117.76 -11.62L117.38 -11.38L117.25 -11.12L117.51 -10.75L117.76 -10.62L119.27 -10.62L119.39 -10.5L119.39 -10.12L119.14 -9.62L119.14 -9.25L118.89 -8.75L118.89 -8.38L118.64 -7.88L118.64 -7.5L118.39 -7L118.39 -6.62L118.13 -6.12L118.13 -5.75L117.88 -5.25L117.88 -4.88L117.63 -4.38L117.63 -4L117.51 -3.88L117.51 -3.62L117.25 -3.38L117 -3.88L116.88 -4.75L116.62 -5.25L116.5 -6.12L116.25 -6.62L116.25 -7L116.12 -7.12L116.12 -7.5L115.87 -8L115.87 -8.38L115.74 -8.5L115.74 -8.88L115.49 -9.38L115.49 -9.75L115.36 -9.88L115.36 -10.25L115.11 -10.75L115.11 -11.12L114.73 -11.5L114.48 -11.62L114.1 -11.38L113.73 -11.62L113.22 -11.25L113.1 -10.5L112.85 -10L112.85 -9.62L112.59 -9.12L112.59 -8.75L112.34 -8.25L112.34 -7.88L112.09 -7.38L112.09 -7L111.84 -6.5L111.84 -6.12L111.59 -5.62L111.59 -5.25L111.46 -5.12L111.33 -4.38L111.21 -4.25L111.08 -3.5L110.96 -3.38L110.7 -3.5L110.7 -3.88L110.45 -4.38L110.33 -5.25L110.07 -5.75L109.95 -6.62L109.7 -7.12L109.57 -8L109.32 -8.5L109.19 -9.38L109.07 -9.5L108.94 -10.25L108.82 -10.38L108.94 -10.62L110.58 -10.62L110.96 -10.88L111.08 -11.12L110.96 -11.38L110.58 -11.62L104.91 -11.62L104.66 -11.5ZM82.24 -11.62L81.86 -11.38L81.61 -11.38L81.49 -11.25L79.72 -10.75L78.08 -9.12L77.83 -8.25L77.71 -8.12L77.71 -7.88L77.58 -7.75L77.58 -7.5L77.46 -7.38L77.46 -7.12L77.33 -7L77.33 -6.75L77.2 -6.62L77.2 -4.5L77.33 -4.38L77.33 -4.12L77.46 -4L77.46 -3.75L77.58 -3.62L77.58 -3.38L77.71 -3.25L77.71 -3L77.83 -2.88L78.08 -2L79.6 -0.5L80.1 -0.25L81.86 0.25L82.24 0.5L84.38 0.5L84.76 0.25L85.01 0.25L85.14 0.12L85.39 0.12L85.52 0L85.77 0L85.89 -0.12L86.78 -0.38L88.54 -2.12L88.79 -3L88.92 -3.12L88.92 -3.38L89.04 -3.5L89.04 -3.75L89.17 -3.88L89.17 -4.12L89.29 -4.25L89.29 -4.5L89.42 -4.62L89.42 -6.5L89.29 -6.62L89.29 -6.88L89.17 -7L89.17 -7.25L89.04 -7.38L89.04 -7.62L88.92 -7.75L88.92 -8L88.79 -8.12L88.79 -8.38L88.41 -9.25L86.9 -10.75L86.02 -11L85.89 -11.12L85.64 -11.12L85.52 -11.25L85.26 -11.25L85.14 -11.38L84.89 -11.38L84.76 -11.5L84.51 -11.5L84.38 -11.62ZM82.62 -10.62L84 -10.62L85.52 -9.88L86.9 -8.38L87.15 -7.5L87.28 -7.38L87.28 -7.12L87.4 -7L87.4 -6.75L87.53 -6.62L87.53 -6.38L87.66 -6.25L87.66 -4.88L87.53 -4.75L87.53 -4.5L87.4 -4.38L87.4 -4.12L87.28 -4L87.28 -3.75L87.15 -3.62L86.9 -2.75L85.26 -1.12L84 -0.5L82.62 -0.5L81.99 -0.88L81.74 -0.88L81.23 -1.12L79.72 -2.62L79.47 -3.5L79.34 -3.62L79.34 -3.88L79.22 -4L79.22 -4.25L79.09 -4.38L79.09 -4.62L78.97 -4.75L78.97 -6.38L79.09 -6.5L79.09 -6.75L79.22 -6.88L79.22 -7.12L79.34 -7.25L79.34 -7.5L79.47 -7.62L79.72 -8.5L81.23 -10L81.74 -10.25L81.99 -10.25ZM58.94 -11.38L58.82 -11.12L58.94 -10.88L59.32 -10.62L61.08 -10.62L61.21 -10.5L61.21 -0.62L61.08 -0.5L59.32 -0.5L59.07 -0.38L58.82 0L59.07 0.38L59.32 0.5L64.86 0.5L65.24 0.25L65.36 0L65.24 -0.25L64.86 -0.5L63.1 -0.5L62.97 -0.62L62.97 -8.5L64.48 -10L64.73 -10L64.86 -10.12L65.11 -10.12L65.24 -10.25L65.49 -10.25L66.37 -10.62L68.01 -10.62L69.27 -10L70.02 -8.62L70.02 -0.62L69.9 -0.5L68.14 -0.5L67.76 -0.25L67.63 0L67.76 0.25L68.14 0.5L73.68 0.5L74.05 0.25L74.18 0L74.05 -0.25L73.68 -0.5L71.91 -0.5L71.79 -0.62L71.79 -8.75L71.66 -8.88L71.79 -9L71.41 -9.5L70.91 -10.62L70.65 -10.88L70.4 -10.88L70.28 -11L70.02 -11L69.9 -11.12L69.65 -11.12L69.52 -11.25L69.27 -11.25L68.39 -11.62L66.37 -11.62L66.25 -11.5L65.99 -11.5L65.87 -11.38L65.62 -11.38L65.49 -11.25L63.73 -10.75L63.1 -10.12L62.97 -10.25L62.97 -11.12L62.85 -11.38L62.47 -11.62L59.32 -11.62ZM159.44 -17.25L159.19 -17.12L158.94 -16.75L159.19 -16.38L159.44 -16.25L161.21 -16.25L161.33 -16.12L161.33 -10.25L161.21 -10.12L160.58 -10.75L158.81 -11.62L158.69 -11.5L158.56 -11.62L157.05 -11.62L156.93 -11.5L156.8 -11.62L156.67 -11.5L156.42 -11.5L156.3 -11.38L156.04 -11.38L155.92 -11.25L155.67 -11.25L155.54 -11.12L155.29 -11.12L155.16 -11L154.28 -10.75L152.64 -9.12L152.39 -8.62L152.39 -8.38L152.27 -8.25L152.27 -8L152.14 -7.88L152.14 -7.62L152.01 -7.5L152.01 -7.25L151.64 -6.38L151.64 -4.75L151.76 -4.62L151.76 -4.38L151.89 -4.25L151.89 -4L152.01 -3.88L152.01 -3.62L152.14 -3.5L152.14 -3.25L152.27 -3.12L152.27 -2.88L152.64 -2L154.28 -0.38L154.53 -0.25L154.78 -0.25L154.91 -0.12L155.16 -0.12L155.29 0L155.54 0L155.67 0.12L155.92 0.12L156.8 0.5L156.93 0.38L157.05 0.5L158.56 0.5L158.69 0.38L158.81 0.5L160.33 -0.25L161.21 -1L161.33 -0.88L161.33 0L161.46 0.25L161.84 0.5L164.99 0.5L165.24 0.38L165.49 0L165.24 -0.38L164.99 -0.5L163.22 -0.5L163.1 -0.62L163.1 -16.75L162.97 -17L162.59 -17.25ZM157.05 -10.62L158.44 -10.62L159.95 -9.88L161.33 -8.5L161.33 -2.62L159.95 -1.25L158.44 -0.5L157.05 -0.5L155.79 -1.12L154.15 -2.75L154.15 -3L154.03 -3.12L154.03 -3.38L153.9 -3.5L153.9 -3.75L153.53 -4.62L153.53 -6.5L153.65 -6.62L154.15 -8.38L155.79 -10ZM127.33 -17.25L127.08 -17.12L126.2 -16.25L126.2 -16L126.07 -15.88L126.2 -15.75L126.2 -15.5L126.95 -14.75L127.2 -14.75L127.33 -14.62L127.45 -14.75L127.71 -14.75L128.59 -15.62L128.71 -15.88L128.59 -16.12L127.58 -17.12ZM24.06 -17.25L23.93 -17.12L23.55 -17.12L23.43 -17L23.17 -17L23.05 -16.88L22.8 -16.88L22.67 -16.75L22.42 -16.75L22.29 -16.62L21.41 -16.38L20.28 -15.25L19.52 -13.75L19.65 -13.62L19.52 -13.5L19.52 -12.75L19.65 -12.62L19.65 -12.38L20.53 -11.5L20.78 -11.38L21.28 -11.62L22.04 -12.38L22.04 -12.62L22.17 -12.75L22.04 -12.88L22.04 -13.12L21.91 -13.12L21.16 -13.88L21.03 -13.88L20.91 -14L20.91 -14.25L21.03 -14.5L22.04 -15.5L22.29 -15.62L22.54 -15.62L22.67 -15.75L22.92 -15.75L23.05 -15.88L23.3 -15.88L24.18 -16.25L26.95 -16.25L28.21 -15.62L28.59 -15.25L29.09 -14.25L29.09 -11.88L28.59 -10.88L28.34 -10.62L27.08 -10L24.81 -10L24.56 -9.88L24.31 -9.5L24.43 -9.25L24.81 -9L27.2 -9L28.46 -8.38L29.22 -7.62L29.47 -6.75L29.6 -6.62L29.6 -6.38L29.72 -6.25L29.72 -6L29.85 -5.88L29.85 -5.62L29.97 -5.5L29.97 -3.25L29.6 -2.75L29.34 -2.12L28.34 -1.12L27.08 -0.5L23.93 -0.5L23.8 -0.62L22.04 -1.12L21.16 -2L20.91 -2.62L22.04 -3.62L22.04 -3.88L22.17 -4L22.04 -4.12L22.04 -4.38L21.91 -4.38L21.16 -5.12L20.91 -5.12L20.78 -5.25L20.28 -5L19.65 -4.38L19.65 -4.12L19.52 -4L19.52 -3L20.28 -1.5L21.54 -0.25L21.79 -0.25L21.91 -0.12L22.17 -0.12L22.29 0L22.54 0L22.67 0.12L22.92 0.12L23.8 0.5L27.2 0.5L27.33 0.38L27.46 0.5L27.58 0.38L27.83 0.38L27.96 0.25L29.72 -0.25L29.97 -0.5L30.1 -0.5L30.86 -1.25L31.74 -3L31.74 -5.75L30.86 -7.5L29.09 -9.25L28.84 -9.38L28.97 -9.62L29.6 -9.75L29.85 -9.88L29.97 -10.12L30.1 -10.12L30.98 -11.88L30.98 -14.25L30.1 -16.12L29.97 -16.12L29.85 -16.38L29.6 -16.5L29.34 -16.5L29.22 -16.62L28.97 -16.62L28.84 -16.75L28.59 -16.75L27.71 -17.12L27.33 -17.12L27.2 -17.25ZM8.06 -17.25L7.93 -17.12L7.56 -17.12L7.43 -17L7.18 -17L7.05 -16.88L6.8 -16.88L6.67 -16.75L6.42 -16.75L6.3 -16.62L5.42 -16.38L3.53 -14.5L3.15 -13.62L2.77 -13.12L2.64 -12.38L2.52 -12.25L2.52 -11.88L2.39 -11.75L2.39 -11.38L2.27 -11.25L2.27 -10.88L2.14 -10.75L2.14 -10.38L2.02 -10.25L2.02 -9.88L1.89 -9.75L1.89 -6.88L2.02 -6.75L2.02 -6.38L2.14 -6.25L2.14 -5.88L2.27 -5.75L2.27 -5.38L2.39 -5.25L2.64 -3.88L3.53 -2.12L5.16 -0.5L5.29 -0.5L5.54 -0.25L5.79 -0.25L5.92 -0.12L6.17 -0.12L6.3 0L6.55 0L6.67 0.12L6.93 0.12L7.81 0.5L7.93 0.38L8.06 0.5L9.57 0.5L9.7 0.38L9.82 0.5L9.95 0.38L10.2 0.38L10.33 0.25L12.09 -0.25L12.34 -0.5L12.47 -0.5L14.11 -2.12L14.86 -3.62L14.99 -4.38L15.11 -4.5L15.11 -4.88L15.24 -5L15.24 -5.38L15.37 -5.5L15.37 -5.88L15.49 -6L15.49 -6.38L15.62 -6.5L15.62 -6.88L15.74 -7L15.74 -9.75L15.62 -9.88L15.62 -10.25L15.49 -10.38L15.49 -10.75L15.37 -10.88L15.37 -11.25L15.24 -11.38L15.24 -11.75L15.11 -11.88L15.11 -12.25L14.99 -12.38L14.86 -13.12L14.61 -13.38L14.11 -14.5L12.22 -16.38L11.33 -16.62L11.21 -16.75L10.96 -16.75L10.83 -16.88L10.58 -16.88L10.45 -17L10.2 -17L10.08 -17.12L9.7 -17.12L9.57 -17.25ZM8.19 -16.25L9.45 -16.25L10.71 -15.62L12.59 -13.75L13.22 -12.38L13.22 -12L13.35 -11.88L13.35 -11.5L13.48 -11.38L13.48 -11L13.6 -10.88L13.6 -10.5L13.73 -10.38L13.73 -10L13.85 -9.88L13.85 -6.75L13.73 -6.62L13.73 -6.25L13.6 -6.12L13.6 -5.75L13.48 -5.62L13.48 -5.25L13.35 -5.12L13.35 -4.75L13.22 -4.62L13.1 -4L12.47 -2.75L10.83 -1.12L9.57 -0.5L8.06 -0.5L6.8 -1.12L5.16 -2.75L4.41 -4.25L4.41 -4.62L4.28 -4.75L4.28 -5.12L4.16 -5.25L4.16 -5.62L4.03 -5.75L4.03 -6.12L3.9 -6.25L3.9 -6.62L3.78 -6.75L3.78 -7.12L3.65 -7.25L3.65 -9.38L3.78 -9.5L3.78 -9.88L3.9 -10L3.9 -10.38L4.03 -10.5L4.03 -10.88L4.16 -11L4.16 -11.5L4.28 -11.62L4.41 -12.5L5.04 -13.75L6.93 -15.62ZM169.02 -20.38L168.76 -20.25L168.51 -19.88L168.64 -19.75L168.64 -19.5L170.28 -17.88L171.91 -14.62L172.04 -13.88L172.16 -13.75L172.16 -13.5L172.54 -12.62L172.54 -12.25L172.67 -12.12L172.67 -11.62L172.79 -11.5L172.79 -11L172.92 -10.88L172.92 -10.38L173.05 -10.25L173.05 -9.75L173.17 -9.62L173.17 -9.12L173.3 -9L173.3 -5.25L173.17 -5.12L173.17 -4.62L173.05 -4.5L172.92 -3.38L172.79 -3.25L172.79 -2.88L172.67 -2.75L172.54 -1.62L172.42 -1.5L172.42 -1.25L172.29 -1.12L171.79 0.62L170.28 3.62L168.64 5.25L168.64 5.5L168.51 5.62L168.64 5.88L169.02 6.12L169.52 5.88L171.03 4.38L171.16 4L172.67 1.88L174.31 -1.38L174.43 -2.38L174.56 -2.5L174.56 -3L174.68 -3.12L174.68 -3.62L174.81 -3.75L174.81 -4.25L174.94 -4.38L174.94 -4.88L175.06 -5L175.06 -9.38L174.94 -9.5L174.94 -10L174.81 -10.12L174.81 -10.62L174.68 -10.75L174.68 -11.25L174.56 -11.38L174.56 -11.88L174.43 -12L174.31 -13L172.92 -15.75L171.16 -18.25L171.03 -18.62L169.39 -20.25L169.14 -20.25ZM55.29 -20.38L55.16 -20.25L54.91 -20.25L53.27 -18.62L53.27 -18.5L51.51 -16L50 -13L50 -12.75L49.87 -12.62L49.87 -12.12L49.75 -12L49.75 -11.5L49.62 -11.38L49.62 -10.88L49.5 -10.75L49.5 -10.25L49.37 -10.12L49.37 -9.62L49.24 -9.5L49.24 -9L49.12 -8.88L49.12 -5.5L49.24 -5.38L49.24 -4.88L49.37 -4.75L49.37 -4.25L49.5 -4.12L49.5 -3.62L49.62 -3.5L49.62 -3L49.75 -2.88L49.75 -2.38L49.87 -2.25L49.87 -1.75L50 -1.62L50 -1.38L50.63 -0.25L50.63 0L51.51 1.75L51.76 2L53.27 4.38L54.79 5.88L55.29 6.12L55.54 6L55.79 5.62L55.67 5.5L55.67 5.25L54.03 3.62L52.77 1L52.52 0.75L52.52 0.38L52.39 0.25L52.39 0L52.27 -0.12L52.27 -0.38L52.14 -0.5L52.14 -0.75L51.76 -1.62L51.64 -2.62L51.51 -2.75L51.51 -3.25L51.38 -3.38L51.26 -4.38L51.13 -4.5L51.13 -5L51.01 -5.12L51.01 -9.12L51.13 -9.25L51.13 -9.75L51.26 -9.88L51.26 -10.38L51.38 -10.5L51.38 -11L51.51 -11.12L51.51 -11.62L51.64 -11.75L51.76 -12.75L51.89 -12.88L52.39 -14.62L54.03 -17.88L55.67 -19.5L55.67 -19.75L55.79 -19.88L55.67 -20.12Z"/>
<path transform="translate(267.16 533.48)" fill="#ff0000" fill-rule="evenodd" d="M167 -11.38L166.88 -11.12L167 -10.88L167.38 -10.62L169.14 -10.62L169.27 -10.5L169.27 -0.62L169.14 -0.5L167.38 -0.5L167.13 -0.38L166.88 0L167.13 0.38L167.38 0.5L173.05 0.5L173.42 0.25L173.55 0L173.42 -0.25L173.05 -0.5L171.28 -0.5L171.16 -0.62L171.16 -8.62L172.42 -9.88L173.3 -10.12L173.42 -10.25L173.68 -10.25L173.8 -10.38L174.05 -10.38L174.18 -10.5L174.43 -10.5L174.56 -10.62L176.07 -10.62L177.33 -10L177.58 -9.75L178.08 -8.75L178.08 -0.62L177.96 -0.5L176.19 -0.5L175.82 -0.25L175.69 0L175.82 0.25L176.19 0.5L181.86 0.5L182.24 0.25L182.37 0L182.24 -0.25L181.86 -0.5L180.1 -0.5L179.97 -0.62L179.97 -8.75L179.47 -9.88L179.22 -10.12L179.09 -10.5L178.71 -10.88L178.46 -10.88L178.34 -11L178.08 -11L177.96 -11.12L177.71 -11.12L177.58 -11.25L177.33 -11.25L176.45 -11.62L174.43 -11.62L174.31 -11.5L174.05 -11.5L173.93 -11.38L172.16 -10.88L171.28 -10.12L171.16 -10.25L171.16 -11.12L171.03 -11.38L170.65 -11.62L167.38 -11.62ZM158.56 -11.62L158.31 -11.5L158.06 -11.12L158.31 -10.75L158.56 -10.62L160.33 -10.62L160.45 -10.5L160.45 -0.62L160.33 -0.5L158.56 -0.5L158.31 -0.38L158.06 0L158.18 0.25L158.56 0.5L164.23 0.5L164.48 0.38L164.73 0L164.48 -0.38L164.23 -0.5L162.47 -0.5L162.34 -0.62L162.34 -11.12L162.22 -11.38L161.84 -11.62ZM138.03 -11.12L138.16 -10.88L138.54 -10.62L140.55 -10.62L140.68 -10.5L140.8 -9.75L141.06 -9.25L141.06 -8.88L141.31 -8.38L141.31 -8L141.56 -7.5L141.56 -7.12L141.81 -6.62L141.81 -6.25L142.06 -5.75L142.06 -5.38L142.32 -4.88L142.32 -4.5L142.57 -4L142.57 -3.62L142.82 -3.12L142.82 -2.75L143.07 -2.25L143.07 -1.88L143.32 -1.38L143.32 -1L143.58 -0.5L143.58 -0.12L143.7 0.12L144.21 0.5L144.71 0.12L144.71 -0.12L144.83 -0.25L144.83 -0.62L145.09 -1.12L145.09 -1.5L145.34 -2L145.34 -2.38L145.59 -2.88L145.59 -3.25L145.84 -3.75L145.84 -4.12L146.09 -4.62L146.09 -5L146.35 -5.5L146.35 -5.88L146.6 -6.38L146.6 -6.75L146.72 -6.88L146.85 -7.62L147.1 -8.12L147.1 -8.5L147.35 -9L147.61 -8.75L147.61 -8.38L147.86 -7.88L147.86 -7.5L148.11 -7L148.11 -6.62L148.36 -6.12L148.36 -5.75L148.61 -5.25L148.61 -4.88L148.87 -4.38L148.87 -4L149.12 -3.5L149.12 -3.12L149.37 -2.62L149.37 -2.25L149.62 -1.75L149.62 -1.38L149.87 -0.88L150 -0.12L150.12 0.12L150.63 0.5L151.13 0.12L151.13 -0.25L151.38 -0.75L151.38 -1.12L151.64 -1.62L151.64 -2L151.89 -2.5L151.89 -2.88L152.14 -3.38L152.14 -3.75L152.39 -4.25L152.39 -4.62L152.64 -5.12L152.64 -5.5L152.9 -6L152.9 -6.38L153.15 -6.88L153.15 -7.25L153.4 -7.75L153.4 -8.12L153.65 -8.62L153.65 -9L153.78 -9.12L153.9 -9.88L154.03 -10L154.15 -10.5L154.28 -10.62L156.17 -10.62L156.42 -10.75L156.67 -11.12L156.55 -11.38L156.17 -11.62L151.38 -11.62L151.01 -11.38L150.88 -11.12L151.01 -10.88L151.38 -10.62L153.02 -10.62L153.15 -10.5L152.9 -10L152.9 -9.62L152.64 -9.12L152.64 -8.75L152.39 -8.25L152.39 -7.88L152.14 -7.38L152.14 -7L151.89 -6.5L151.89 -6.12L151.64 -5.62L151.64 -5.25L151.51 -5.12L151.38 -4.38L151.26 -4.25L151.13 -3.5L151.01 -3.38L150.75 -3.5L150.75 -3.88L150.5 -4.38L150.5 -4.75L150.38 -4.88L150.38 -5.25L150.12 -5.75L150 -6.62L149.75 -7.12L149.62 -8L149.37 -8.5L149.24 -9.38L148.99 -9.88L148.87 -10.75L148.49 -11.5L148.24 -11.62L147.73 -11.38L147.35 -11.62L146.85 -11.25L146.85 -10.88L146.6 -10.38L146.6 -10L146.35 -9.5L146.35 -9.12L146.09 -8.62L146.09 -8.25L145.84 -7.75L145.84 -7.38L145.59 -6.88L145.59 -6.5L145.34 -6L145.34 -5.62L145.21 -5.5L145.09 -4.75L144.83 -4.25L144.83 -3.88L144.58 -3.38L144.33 -3.5L144.21 -4.38L143.95 -4.88L143.83 -5.75L143.58 -6.25L143.45 -7.12L143.2 -7.62L143.07 -8.5L142.95 -8.62L142.82 -9.38L142.69 -9.5L142.69 -9.88L142.44 -10.38L142.57 -10.62L144.21 -10.62L144.58 -10.88L144.71 -11.12L144.58 -11.38L144.21 -11.62L138.54 -11.62L138.29 -11.5ZM94.96 -10L94.96 -9.62L94.84 -9.5L94.84 -8.75L94.96 -8.5L95.34 -8.25L96.09 -8.25L96.35 -8.38L96.6 -8.75L96.6 -9.5L96.35 -9.88L97.86 -10.62L100.88 -10.62L102.14 -10L102.77 -9.38L102.77 -8.12L102.27 -7.62L102.01 -7.62L101.89 -7.5L101.26 -7.5L101.13 -7.38L100.5 -7.38L100.38 -7.25L99.75 -7.25L99.62 -7.12L98.99 -7.12L98.87 -7L98.24 -7L98.11 -6.88L97.61 -6.88L97.48 -6.75L97.23 -6.75L97.1 -6.62L95.34 -6.12L94.84 -5.75L93.95 -4L93.95 -2.38L94.71 -0.75L95.09 -0.38L95.97 -0.12L96.09 0L96.35 0L96.47 0.12L96.72 0.12L96.85 0.25L97.1 0.25L97.48 0.5L100.12 0.5L100.25 0.38L100.38 0.5L101.89 -0.25L103.15 -1.5L103.53 -0.75L104.03 -0.25L105.54 0.5L105.67 0.38L105.79 0.5L106.55 0.5L106.93 0.25L107.05 0L106.8 -0.38L106.55 -0.5L105.92 -0.5L105.29 -1.12L104.66 -2.38L104.66 -8L103.9 -9.62L102.9 -10.75L101.13 -11.62L101.01 -11.5L100.88 -11.62L97.73 -11.62L97.61 -11.5L97.48 -11.62L95.72 -10.75ZM102.77 -6.5L102.77 -2.5L101.51 -1.25L100 -0.5L97.86 -0.5L96.72 -1L96.35 -1.38L95.84 -2.38L95.84 -4L96.35 -5L96.6 -5.25L97.86 -5.88L98.24 -5.88L98.36 -6L98.99 -6L99.12 -6.12L99.75 -6.12L99.87 -6.25L100.5 -6.25L100.63 -6.38L101.26 -6.38L101.38 -6.5L102.01 -6.5L102.14 -6.62L102.64 -6.62ZM83.88 -11.62L83.75 -11.5L83.5 -11.5L83.37 -11.38L83.12 -11.38L83 -11.25L82.74 -11.25L82.62 -11.12L82.37 -11.12L82.24 -11L81.36 -10.75L79.72 -9.12L79.47 -8.25L79.34 -8.12L79.34 -7.88L79.22 -7.75L79.22 -7.5L79.09 -7.38L79.09 -7.12L78.97 -7L78.97 -6.75L78.84 -6.62L78.84 -4.5L78.97 -4.38L78.97 -4.12L79.09 -4L79.09 -3.75L79.22 -3.62L79.22 -3.38L79.34 -3.25L79.34 -3L79.47 -2.88L79.72 -2L81.23 -0.5L81.36 -0.5L81.61 -0.25L81.86 -0.25L81.99 -0.12L82.24 -0.12L82.37 0L82.62 0L82.74 0.12L83 0.12L83.88 0.5L85.89 0.5L86.02 0.38L86.27 0.38L86.4 0.25L86.65 0.25L86.78 0.12L87.03 0.12L87.15 0L87.4 0L87.53 -0.12L88.41 -0.38L90.05 -2L90.05 -2.25L90.18 -2.38L90.05 -2.62L89.67 -2.88L89.55 -2.75L89.29 -2.75L87.66 -1.12L87.4 -1.12L87.28 -1L87.03 -1L86.9 -0.88L86.65 -0.88L85.77 -0.5L84.13 -0.5L82.87 -1.12L81.23 -2.75L81.23 -3L81.11 -3.12L81.11 -3.38L80.98 -3.5L80.98 -3.75L80.6 -4.62L80.6 -5.75L80.73 -5.88L89.67 -5.88L89.92 -6L90.18 -6.38L90.18 -8.25L89.42 -9.75L88.29 -10.88L86.78 -11.62L86.65 -11.5L86.52 -11.62ZM80.86 -7.25L80.98 -7.38L81.23 -8.38L82.87 -10L84.13 -10.62L86.4 -10.62L87.66 -10L88.41 -8.62L88.41 -7L88.29 -6.88L80.98 -6.88L80.86 -7ZM57.93 -11.12L58.06 -10.88L58.44 -10.62L60.45 -10.62L60.58 -10.5L60.7 -9.75L60.96 -9.25L60.96 -8.88L61.21 -8.38L61.21 -8L61.46 -7.5L61.46 -7.12L61.71 -6.62L61.71 -6.25L61.96 -5.75L61.96 -5.38L62.22 -4.88L62.22 -4.5L62.47 -4L62.47 -3.62L62.72 -3.12L62.72 -2.75L62.97 -2.25L62.97 -1.88L63.22 -1.38L63.22 -1L63.48 -0.5L63.48 -0.12L63.6 0.12L64.11 0.5L64.61 0.12L64.61 -0.12L64.73 -0.25L64.73 -0.62L64.99 -1.12L64.99 -1.5L65.24 -2L65.24 -2.38L65.49 -2.88L65.49 -3.25L65.74 -3.75L65.74 -4.12L65.99 -4.62L65.99 -5L66.25 -5.5L66.25 -5.88L66.5 -6.38L66.5 -6.75L66.62 -6.88L66.75 -7.62L67 -8.12L67 -8.5L67.25 -9L67.51 -8.75L67.51 -8.38L67.76 -7.88L67.76 -7.5L68.01 -7L68.01 -6.62L68.26 -6.12L68.26 -5.75L68.51 -5.25L68.51 -4.88L68.77 -4.38L68.77 -4L69.02 -3.5L69.02 -3.12L69.27 -2.62L69.27 -2.25L69.52 -1.75L69.52 -1.38L69.77 -0.88L69.9 -0.12L70.02 0.12L70.53 0.5L71.03 0.12L71.03 -0.25L71.28 -0.75L71.28 -1.12L71.54 -1.62L71.54 -2L71.79 -2.5L71.79 -2.88L72.04 -3.38L72.04 -3.75L72.29 -4.25L72.29 -4.62L72.54 -5.12L72.54 -5.5L72.8 -6L72.8 -6.38L73.05 -6.88L73.05 -7.25L73.3 -7.75L73.3 -8.12L73.55 -8.62L73.55 -9L73.68 -9.12L73.8 -9.88L73.93 -10L74.05 -10.5L74.18 -10.62L76.07 -10.62L76.32 -10.75L76.57 -11.12L76.45 -11.38L76.07 -11.62L71.28 -11.62L70.91 -11.38L70.78 -11.12L70.91 -10.88L71.28 -10.62L72.92 -10.62L73.05 -10.5L72.8 -10L72.8 -9.62L72.54 -9.12L72.54 -8.75L72.29 -8.25L72.29 -7.88L72.04 -7.38L72.04 -7L71.79 -6.5L71.79 -6.12L71.54 -5.62L71.54 -5.25L71.41 -5.12L71.28 -4.38L71.16 -4.25L71.03 -3.5L70.91 -3.38L70.65 -3.5L70.65 -3.88L70.4 -4.38L70.4 -4.75L70.28 -4.88L70.28 -5.25L70.02 -5.75L69.9 -6.62L69.65 -7.12L69.52 -8L69.27 -8.5L69.14 -9.38L68.89 -9.88L68.77 -10.75L68.39 -11.5L68.14 -11.62L67.63 -11.38L67.25 -11.62L66.75 -11.25L66.75 -10.88L66.5 -10.38L66.5 -10L66.25 -9.5L66.25 -9.12L65.99 -8.62L65.99 -8.25L65.74 -7.75L65.74 -7.38L65.49 -6.88L65.49 -6.5L65.24 -6L65.24 -5.62L65.11 -5.5L64.99 -4.75L64.73 -4.25L64.73 -3.88L64.48 -3.38L64.23 -3.5L64.11 -4.38L63.85 -4.88L63.73 -5.75L63.48 -6.25L63.35 -7.12L63.1 -7.62L62.97 -8.5L62.85 -8.62L62.72 -9.38L62.59 -9.5L62.59 -9.88L62.34 -10.38L62.47 -10.62L64.11 -10.62L64.48 -10.88L64.61 -11.12L64.48 -11.38L64.11 -11.62L58.44 -11.62L58.19 -11.5ZM193.07 -17.25L192.82 -17.12L192.57 -16.75L192.82 -16.38L193.07 -16.25L194.83 -16.25L194.96 -16.12L194.96 -10.25L194.83 -10.12L194.2 -10.75L192.44 -11.62L192.32 -11.5L192.19 -11.62L190.68 -11.62L190.55 -11.5L190.43 -11.62L190.3 -11.5L190.05 -11.5L189.92 -11.38L189.67 -11.38L189.54 -11.25L189.29 -11.25L189.17 -11.12L188.92 -11.12L188.79 -11L187.91 -10.75L186.27 -9.12L186.02 -8.62L186.02 -8.38L185.89 -8.25L185.89 -8L185.77 -7.88L185.77 -7.62L185.39 -6.75L185.39 -4.38L185.51 -4.25L185.51 -4L185.64 -3.88L185.64 -3.62L185.77 -3.5L185.77 -3.25L185.89 -3.12L185.89 -2.88L186.27 -2L187.78 -0.5L187.91 -0.5L188.16 -0.25L188.41 -0.25L188.54 -0.12L188.79 -0.12L188.92 0L189.17 0L189.29 0.12L189.54 0.12L190.43 0.5L190.55 0.38L190.68 0.5L192.19 0.5L192.32 0.38L192.44 0.5L193.95 -0.25L194.83 -1L194.96 -0.88L194.96 0L195.09 0.25L195.46 0.5L198.61 0.5L198.86 0.38L199.12 0L198.86 -0.38L198.61 -0.5L196.85 -0.5L196.72 -0.62L196.72 -16.75L196.6 -17L196.22 -17.25ZM190.68 -10.62L192.19 -10.62L193.45 -10L194.96 -8.5L194.96 -2.62L193.45 -1.12L192.19 -0.5L190.68 -0.5L189.42 -1.12L187.78 -2.75L187.78 -3L187.66 -3.12L187.66 -3.38L187.53 -3.5L187.53 -3.75L187.15 -4.62L187.15 -6.5L187.28 -6.62L187.78 -8.38L189.42 -10ZM160.96 -17.25L160.7 -17.12L159.82 -16.25L159.82 -16L159.7 -15.88L159.82 -15.75L159.82 -15.5L160.58 -14.75L160.83 -14.75L160.96 -14.62L161.08 -14.75L161.46 -14.75L162.22 -15.5L162.22 -15.75L162.34 -15.88L162.22 -16L162.22 -16.25L162.09 -16.25L161.21 -17.12ZM109.44 -17.12L109.19 -16.75L109.32 -16.5L109.7 -16.25L111.46 -16.25L111.59 -16.12L111.59 -0.62L111.46 -0.5L109.7 -0.5L109.32 -0.25L109.19 0L109.32 0.25L109.7 0.5L115.36 0.5L115.62 0.38L115.87 0L115.74 -0.25L115.36 -0.5L113.6 -0.5L113.47 -0.62L113.47 -3L115.99 -5.5L116.12 -5.5L119.77 -0.62L119.65 -0.5L118.51 -0.5L118.26 -0.38L118.01 0L118.26 0.38L118.51 0.5L123.3 0.5L123.55 0.38L123.8 0L123.55 -0.38L123.3 -0.5L122.04 -0.5L121.66 -0.88L121.66 -1L121.28 -1.38L121.28 -1.5L120.91 -1.88L120.91 -2L120.53 -2.38L120.53 -2.5L120.15 -2.88L120.15 -3L119.77 -3.38L119.77 -3.5L117.25 -6.75L121.16 -10.62L123.3 -10.62L123.68 -10.88L123.8 -11.12L123.68 -11.38L123.3 -11.62L118.51 -11.62L118.26 -11.5L118.01 -11.12L118.26 -10.75L118.51 -10.62L119.52 -10.62L119.65 -10.5L113.6 -4.5L113.47 -4.62L113.47 -16.75L113.35 -17L112.97 -17.25L109.7 -17.25ZM24.06 -17.25L23.93 -17.12L23.55 -17.12L23.43 -17L23.17 -17L23.05 -16.88L22.8 -16.88L22.67 -16.75L22.42 -16.75L22.29 -16.62L21.41 -16.38L20.28 -15.25L19.52 -13.75L19.65 -13.62L19.52 -13.5L19.52 -12.75L19.65 -12.62L19.65 -12.38L20.53 -11.5L20.78 -11.38L21.28 -11.62L22.04 -12.38L22.04 -12.62L22.17 -12.75L22.04 -12.88L22.04 -13.12L21.91 -13.12L21.16 -13.88L21.03 -13.88L20.91 -14L20.91 -14.25L21.03 -14.5L22.04 -15.5L22.29 -15.62L22.54 -15.62L22.67 -15.75L22.92 -15.75L23.05 -15.88L23.3 -15.88L24.18 -16.25L26.95 -16.25L28.21 -15.62L28.59 -15.25L29.09 -14.25L29.09 -11.88L28.59 -10.88L28.34 -10.62L27.08 -10L24.81 -10L24.56 -9.88L24.31 -9.5L24.43 -9.25L24.81 -9L27.2 -9L28.46 -8.38L29.22 -7.62L29.47 -6.75L29.6 -6.62L29.6 -6.38L29.72 -6.25L29.72 -6L29.85 -5.88L29.85 -5.62L29.97 -5.5L29.97 -3.25L29.6 -2.75L29.34 -2.12L28.34 -1.12L27.08 -0.5L23.93 -0.5L23.8 -0.62L22.04 -1.12L21.16 -2L20.91 -2.62L22.04 -3.62L22.04 -3.88L22.17 -4L22.04 -4.12L22.04 -4.38L21.91 -4.38L21.16 -5.12L20.91 -5.12L20.78 -5.25L20.28 -5L19.65 -4.38L19.65 -4.12L19.52 -4L19.52 -3L20.28 -1.5L21.54 -0.25L21.79 -0.25L21.91 -0.12L22.17 -0.12L22.29 0L22.54 0L22.67 0.12L22.92 0.12L23.8 0.5L27.2 0.5L27.33 0.38L27.46 0.5L27.58 0.38L27.83 0.38L27.96 0.25L29.72 -0.25L29.97 -0.5L30.1 -0.5L30.86 -1.25L31.74 -3L31.74 -5.75L30.86 -7.5L29.09 -9.25L28.84 -9.38L28.97 -9.62L29.6 -9.75L29.85 -9.88L29.97 -10.12L30.1 -10.12L30.98 -11.88L30.98 -14.25L30.1 -16.12L29.97 -16.12L29.85 -16.38L29.6 -16.5L29.34 -16.5L29.22 -16.62L28.97 -16.62L28.84 -16.75L28.59 -16.75L27.71 -17.12L27.33 -17.12L27.2 -17.25ZM1.64 -17.25L1.39 -17.12L1.13 -16.75L1.39 -16.38L1.64 -16.25L3.4 -16.25L3.53 -16.12L3.53 -0.62L3.4 -0.5L1.64 -0.5L1.39 -0.38L1.13 0L1.26 0.25L1.64 0.5L7.18 0.5L7.43 0.38L7.68 0L7.43 -0.38L7.18 -0.5L5.42 -0.5L5.29 -0.62L5.29 -7.38L5.42 -7.5L11.59 -7.5L11.71 -7.62L11.96 -7.62L12.09 -7.75L12.34 -7.75L12.47 -7.88L12.72 -7.88L12.85 -8L13.1 -8L13.98 -8.38L14.99 -9.5L15.74 -11.12L15.74 -13.5L15.62 -13.62L15.62 -14L14.99 -15.25L13.98 -16.25L13.48 -16.5L13.22 -16.5L13.1 -16.62L11.33 -17.12L11.21 -17.25ZM5.29 -16.12L5.42 -16.25L10.96 -16.25L12.47 -15.5L13.35 -14.62L13.35 -14.38L13.85 -13.5L13.85 -11.12L13.22 -9.88L12.47 -9.12L11.21 -8.5L5.42 -8.5L5.29 -8.62ZM202.64 -20.38L202.39 -20.25L202.14 -19.88L202.27 -19.75L202.27 -19.5L203.9 -17.88L205.54 -14.62L205.54 -14.38L205.92 -13.5L205.92 -13.12L206.3 -12.25L206.3 -11.75L206.42 -11.62L206.42 -11.12L206.55 -11L206.55 -10.5L206.67 -10.38L206.67 -9.88L206.8 -9.75L206.8 -9.25L206.93 -9.12L206.93 -5.25L206.8 -5.12L206.8 -4.62L206.67 -4.5L206.67 -4L206.55 -3.88L206.55 -3.38L206.42 -3.25L206.42 -2.75L206.3 -2.62L206.17 -1.62L206.04 -1.5L206.04 -1.25L205.92 -1.12L205.41 0.62L203.9 3.62L202.27 5.25L202.27 5.5L202.14 5.62L202.27 5.88L202.64 6.12L203.15 5.88L204.66 4.38L204.66 4.25L206.42 1.75L206.93 0.75L206.93 0.5L208.06 -1.75L208.06 -2.25L208.18 -2.38L208.18 -2.88L208.31 -3L208.31 -3.5L208.44 -3.62L208.44 -4.12L208.56 -4.25L208.56 -4.75L208.69 -4.88L208.69 -5.38L208.81 -5.5L208.81 -8.88L208.69 -9L208.69 -9.5L208.56 -9.62L208.56 -10.12L208.44 -10.25L208.44 -10.75L208.31 -10.88L208.31 -11.38L208.18 -11.5L208.18 -12L208.06 -12.12L208.06 -12.62L207.93 -12.75L207.93 -13L206.42 -16L205.54 -17.12L205.54 -17.25L204.78 -18.25L204.66 -18.62L203.02 -20.25L202.77 -20.25ZM55.29 -20.38L55.16 -20.25L54.91 -20.25L53.27 -18.62L53.27 -18.5L51.51 -16L50 -13L50 -12.75L49.87 -12.62L49.87 -12.12L49.75 -12L49.75 -11.5L49.62 -11.38L49.62 -10.88L49.5 -10.75L49.5 -10.25L49.37 -10.12L49.37 -9.62L49.24 -9.5L49.24 -9L49.12 -8.88L49.12 -5.5L49.24 -5.38L49.24 -4.88L49.37 -4.75L49.37 -4.25L49.5 -4.12L49.5 -3.62L49.62 -3.5L49.62 -3L49.75 -2.88L49.75 -2.38L49.87 -2.25L49.87 -1.75L50 -1.62L50 -1.38L50.63 -0.25L50.63 0L51.51 1.75L51.76 2L53.27 4.38L54.79 5.88L55.29 6.12L55.54 6L55.79 5.62L55.67 5.5L55.67 5.25L54.03 3.62L52.77 1L52.52 0.75L52.52 0.38L52.39 0.25L52.39 0L52.27 -0.12L52.27 -0.38L52.14 -0.5L52.14 -0.75L51.76 -1.62L51.64 -2.62L51.51 -2.75L51.51 -3.25L51.38 -3.38L51.26 -4.38L51.13 -4.5L51.13 -5L51.01 -5.12L51.01 -9.12L51.13 -9.25L51.13 -9.75L51.26 -9.88L51.26 -10.38L51.38 -10.5L51.38 -11L51.51 -11.12L51.51 -11.62L51.64 -11.75L51.76 -12.75L51.89 -12.88L52.39 -14.62L54.03 -17.88L55.67 -19.5L55.67 -19.75L55.79 -19.88L55.67 -20.12Z"/>
<path transform="translate(266.41 564.81)" fill="#00ff00" fill-rule="evenodd" d="M187.91 -11.38L187.78 -11.12L187.91 -10.88L188.29 -10.62L190.05 -10.62L190.17 -10.5L190.17 -0.62L190.05 -0.5L188.29 -0.5L188.03 -0.38L187.78 0L188.03 0.38L188.29 0.5L193.83 0.5L194.2 0.25L194.33 0L194.2 -0.25L193.83 -0.5L192.06 -0.5L191.94 -0.62L191.94 -8.5L193.45 -10L193.7 -10L193.83 -10.12L194.08 -10.12L194.2 -10.25L194.46 -10.25L195.34 -10.62L196.98 -10.62L198.23 -10L198.99 -8.62L198.99 -0.62L198.86 -0.5L197.1 -0.5L196.72 -0.25L196.6 0L196.72 0.25L197.1 0.5L202.64 0.5L203.02 0.25L203.15 0L203.02 -0.25L202.64 -0.5L200.88 -0.5L200.75 -0.62L200.75 -8.75L200.63 -8.88L200.75 -9L200.38 -9.5L199.87 -10.62L199.62 -10.88L199.37 -10.88L199.24 -11L198.99 -11L198.86 -11.12L198.61 -11.12L198.49 -11.25L198.23 -11.25L197.35 -11.62L195.21 -11.62L195.09 -11.5L194.83 -11.5L194.71 -11.38L192.95 -10.88L192.06 -10.12L191.94 -10.25L191.94 -11.12L191.81 -11.38L191.43 -11.62L188.29 -11.62ZM179.47 -11.62L179.22 -11.5L178.97 -11.12L179.22 -10.75L179.47 -10.62L181.23 -10.62L181.36 -10.5L181.36 -0.62L181.23 -0.5L179.47 -0.5L179.22 -0.38L178.97 0L179.09 0.25L179.47 0.5L185.01 0.5L185.26 0.38L185.51 0L185.26 -0.38L185.01 -0.5L183.25 -0.5L183.12 -0.62L183.12 -11.12L183 -11.38L182.62 -11.62ZM158.94 -11.12L159.07 -10.88L159.44 -10.62L161.33 -10.62L161.59 -10.25L161.59 -9.88L161.84 -9.38L161.84 -9L162.09 -8.5L162.09 -8.12L162.34 -7.62L162.34 -7.25L162.59 -6.75L162.59 -6.38L162.84 -5.88L162.84 -5.5L163.1 -5L163.1 -4.62L163.35 -4.12L163.35 -3.75L163.6 -3.25L163.6 -2.88L163.85 -2.38L163.85 -2L164.1 -1.5L164.1 -1.12L164.36 -0.62L164.36 -0.25L164.48 -0.12L164.48 0.12L164.99 0.5L165.24 0.38L165.62 -0.12L165.62 -0.5L165.87 -1L165.87 -1.38L166.12 -1.88L166.12 -2.25L166.37 -2.75L166.37 -3.12L166.62 -3.62L166.62 -4L166.88 -4.5L166.88 -4.88L167.13 -5.38L167.13 -5.75L167.38 -6.25L167.38 -6.62L167.63 -7.12L167.63 -7.5L167.88 -8L167.88 -8.38L168.01 -8.5L168.01 -8.75L168.26 -9L168.39 -8.88L168.39 -8.5L168.51 -8.38L168.64 -7.62L168.89 -7.12L168.89 -6.75L169.14 -6.25L169.14 -5.88L169.39 -5.38L169.39 -5L169.65 -4.5L169.65 -4.12L169.9 -3.62L169.9 -3.25L170.15 -2.75L170.15 -2.38L170.4 -1.88L170.4 -1.5L170.65 -1L170.65 -0.62L170.78 -0.5L170.91 0.12L171.41 0.5L171.91 0.12L171.91 -0.12L172.16 -0.62L172.16 -1L172.42 -1.5L172.42 -1.88L172.67 -2.38L172.67 -2.75L172.92 -3.25L172.92 -3.62L173.17 -4.12L173.17 -4.5L173.42 -5L173.42 -5.38L173.68 -5.88L173.68 -6.25L173.93 -6.75L173.93 -7.12L174.18 -7.62L174.18 -8L174.43 -8.5L174.43 -8.88L174.68 -9.38L174.68 -9.75L174.81 -9.88L174.94 -10.5L175.06 -10.62L177.08 -10.62L177.33 -10.75L177.58 -11.12L177.45 -11.38L177.08 -11.62L172.16 -11.62L171.79 -11.38L171.66 -11.12L171.79 -10.88L172.16 -10.62L173.8 -10.62L173.93 -10.5L173.8 -10L173.68 -9.88L173.68 -9.5L173.42 -9L173.42 -8.62L173.17 -8.12L173.17 -7.75L172.92 -7.25L172.92 -6.88L172.67 -6.38L172.67 -6L172.42 -5.5L172.42 -5.12L172.16 -4.62L172.16 -4.25L171.91 -3.75L171.91 -3.38L171.79 -3.25L171.53 -3.62L171.41 -4.5L171.16 -5L171.03 -5.88L170.78 -6.38L170.78 -6.75L170.65 -6.88L170.65 -7.25L170.4 -7.75L170.4 -8.12L170.28 -8.25L170.28 -8.62L170.02 -9.12L170.02 -9.5L169.9 -9.62L169.9 -10L169.65 -10.5L169.65 -10.88L169.52 -11L169.52 -11.25L169.27 -11.5L169.02 -11.62L168.64 -11.38L168.26 -11.62L167.63 -11.12L167.63 -10.75L167.38 -10.25L167.38 -9.88L167.13 -9.38L167.13 -9L166.88 -8.5L166.88 -8.12L166.62 -7.62L166.62 -7.25L166.37 -6.75L166.37 -6.38L166.12 -5.88L166.12 -5.5L165.99 -5.38L165.87 -4.62L165.62 -4.12L165.62 -3.75L165.36 -3.25L164.99 -4.12L164.86 -5L164.61 -5.5L164.48 -6.38L164.23 -6.88L164.1 -7.75L163.85 -8.25L163.73 -9.12L163.6 -9.25L163.47 -10L163.35 -10.12L163.35 -10.5L163.47 -10.62L164.99 -10.62L165.24 -10.75L165.49 -11.12L165.36 -11.38L164.99 -11.62L159.44 -11.62L159.19 -11.5ZM136.77 -11.62L135.01 -10.75L134.26 -10L133.37 -8.38L133.37 -8.12L133.25 -8L133.25 -6.38L133.88 -4.88L133.37 -4.38L132.49 -2.62L132.62 -2.5L132.49 -2.38L132.49 -1.62L132.62 -1.5L132.49 -1.38L133.25 0.12L133.12 0.25L132.87 0.25L132.49 0.62L132.24 1.25L131.99 1.5L131.61 2.38L131.61 3.12L132.49 5L132.62 5L132.74 5.25L133 5.38L133.25 5.38L133.37 5.5L133.63 5.5L133.75 5.62L134 5.62L134.89 6L135.26 6L135.39 6.12L140.18 6.12L140.3 6L140.55 6L140.68 5.88L142.44 5.38L143.07 5L143.83 3.5L143.7 3.25L143.83 3.12L143.83 2.38L143.7 2.25L143.83 2.12L143.07 0.62L142.57 0.25L142.32 0.25L142.19 0.12L141.94 0.12L141.81 0L141.56 0L141.43 -0.12L141.18 -0.12L140.3 -0.5L136.02 -0.5L135.89 -0.62L135.64 -0.62L135.52 -0.75L135.26 -0.75L135.14 -0.88L134.26 -1.12L133.5 -1.88L133.5 -2.38L134.13 -3.62L134.51 -4L134.63 -4L135.14 -3.5L137.03 -2.62L138.54 -2.62L140.43 -3.5L141.43 -4.5L142.32 -6.38L142.32 -8L141.56 -9.38L142.06 -9.88L143.32 -9.88L143.58 -10L143.83 -10.38L143.83 -11.12L143.58 -11.5L143.2 -11.62L141.43 -10.75L141.06 -10.38L140.93 -10.38L140.55 -10.75L138.79 -11.62L138.66 -11.5L138.54 -11.62L137.03 -11.62L136.9 -11.5ZM132.62 2.5L133.37 1.12L133.63 1.12L133.75 1L134.63 0.75L134.76 0.88L135.01 0.88L135.89 1.25L140.18 1.25L140.3 1.38L140.55 1.38L140.68 1.5L140.93 1.5L141.06 1.62L141.31 1.62L141.69 1.88L142.19 2L142.82 2.62L142.82 3.25L142.19 4.38L141.31 4.62L141.18 4.75L140.93 4.75L140.8 4.88L140.55 4.88L140.43 5L140.18 5L140.05 5.12L135.52 5.12L135.39 5L135.14 5L135.01 4.88L134.76 4.88L134.63 4.75L134.38 4.75L134.26 4.62L133.37 4.38L132.62 3ZM137.03 -10.62L138.41 -10.62L139.67 -10L139.92 -9.75L140.43 -8.75L140.43 -5.5L140.05 -4.75L139.55 -4.25L138.29 -3.62L137.15 -3.62L135.89 -4.25L135.64 -4.5L135.01 -5.75L135.01 -8.5L135.39 -9.12L135.39 -9.38L135.64 -9.88ZM114.1 -11.38L113.98 -11.12L114.1 -10.88L114.48 -10.62L116.37 -10.62L116.5 -10.5L116.5 -0.62L116.37 -0.5L114.48 -0.5L114.23 -0.38L113.98 0L114.23 0.38L114.48 0.5L120.15 0.5L120.53 0.25L120.65 0L120.53 -0.25L120.15 -0.5L118.39 -0.5L118.26 -0.62L118.26 -8.5L119.77 -10L120.02 -10L120.15 -10.12L120.4 -10.12L120.53 -10.25L120.78 -10.25L121.66 -10.62L123.3 -10.62L124.56 -10L125.31 -8.5L125.31 -0.62L125.19 -0.5L123.3 -0.5L122.92 -0.25L122.79 0L122.92 0.25L123.3 0.5L128.97 0.5L129.34 0.25L129.47 0L129.34 -0.25L128.97 -0.5L127.2 -0.5L127.08 -0.62L127.08 -8.75L126.2 -10.62L125.94 -10.88L125.69 -10.88L125.57 -11L125.31 -11L125.19 -11.12L124.94 -11.12L124.81 -11.25L124.56 -11.25L123.68 -11.62L123.42 -11.5L123.3 -11.62L121.79 -11.62L121.66 -11.5L121.54 -11.62L121.41 -11.5L121.16 -11.5L121.03 -11.38L119.27 -10.88L118.39 -10.12L118.26 -10.25L118.26 -11.12L118.13 -11.38L117.76 -11.62L114.48 -11.62ZM103.9 -11.62L103.78 -11.5L103.53 -11.5L103.4 -11.38L103.15 -11.38L103.02 -11.25L102.77 -11.25L102.64 -11.12L102.39 -11.12L102.27 -11L101.38 -10.75L99.75 -9.12L99.5 -8.25L99.37 -8.12L99.37 -7.88L99.24 -7.75L99.24 -7.5L99.12 -7.38L99.12 -7.12L98.99 -7L98.99 -6.75L98.87 -6.62L98.87 -4.5L98.99 -4.38L98.99 -4.12L99.12 -4L99.12 -3.75L99.24 -3.62L99.24 -3.38L99.37 -3.25L99.37 -3L99.5 -2.88L99.75 -2L101.26 -0.5L101.38 -0.5L101.64 -0.25L101.89 -0.25L102.01 -0.12L102.27 -0.12L102.39 0L102.64 0L102.77 0.12L103.02 0.12L103.9 0.5L105.92 0.5L106.04 0.38L106.3 0.38L106.42 0.25L106.67 0.25L106.8 0.12L107.05 0.12L107.18 0L107.43 0L107.56 -0.12L108.44 -0.38L110.07 -2L110.33 -2.5L110.33 -2.75L110.45 -2.88L110.96 -4.62L111.08 -4.75L111.08 -6.38L110.96 -6.5L110.96 -6.75L110.83 -6.88L110.83 -7.12L110.7 -7.25L110.7 -7.5L110.58 -7.62L110.58 -7.88L110.45 -8L110.45 -8.25L110.07 -9.12L108.31 -10.88L108.06 -10.88L107.93 -11L107.68 -11L107.56 -11.12L107.3 -11.12L107.18 -11.25L106.93 -11.25L106.04 -11.62ZM104.16 -10.62L105.67 -10.62L106.93 -10L108.56 -8.38L108.56 -8.12L108.69 -8L108.69 -7.75L108.82 -7.62L108.82 -7.38L109.19 -6.5L109.19 -4.5L109.07 -4.38L109.07 -4.12L108.94 -4L108.94 -3.75L108.82 -3.62L108.56 -2.75L106.93 -1.12L105.67 -0.5L104.16 -0.5L102.9 -1.12L101.26 -2.75L101.26 -3L101.13 -3.12L101.13 -3.38L101.01 -3.5L101.01 -3.75L100.63 -4.62L100.63 -6.5L100.75 -6.62L101.26 -8.38L102.9 -10ZM84.89 -11.62L84.63 -11.5L84.38 -11.12L84.63 -10.75L84.89 -10.62L86.65 -10.62L86.78 -10.5L86.78 -0.62L86.65 -0.5L84.89 -0.5L84.63 -0.38L84.38 0L84.51 0.25L84.89 0.5L90.55 0.5L90.81 0.38L91.06 0L90.81 -0.38L90.55 -0.5L88.79 -0.5L88.66 -0.62L88.66 -6.62L88.79 -6.75L89.29 -8.38L90.93 -10L92.19 -10.62L93.83 -10.62L93.95 -10.5L93.32 -9.88L93.32 -9.62L93.2 -9.5L93.32 -9.38L93.32 -9.12L94.08 -8.38L94.33 -8.38L94.46 -8.25L94.58 -8.38L94.96 -8.38L95.72 -9.12L95.72 -9.38L95.84 -9.5L95.84 -10.38L95.72 -10.5L95.72 -10.75L94.84 -11.5L94.58 -11.5L94.46 -11.62L91.94 -11.62L90.18 -10.75L88.79 -9.38L88.66 -9.5L88.66 -11.12L88.41 -11.5L88.16 -11.62ZM94.58 -9.75L94.71 -9.88L94.84 -9.75L94.71 -9.62ZM62.22 -11.62L61.71 -11.25L60.58 -10.75L59.7 -9.88L59.7 -9.62L59.57 -9.5L59.57 -8L59.7 -7.88L59.7 -7.62L60.58 -6.75L61.71 -6.25L61.96 -6L62.47 -5.88L62.85 -5.62L63.1 -5.62L63.48 -5.38L63.73 -5.38L64.11 -5.12L64.36 -5.12L64.73 -4.88L64.99 -4.88L65.36 -4.62L65.62 -4.62L66.25 -4.25L66.5 -4.25L67.76 -3.62L68.39 -3L68.39 -1.88L67.63 -1.12L66.37 -0.5L63.35 -0.5L62.09 -1.12L61.21 -2L60.58 -3.38L60.08 -3.62L59.82 -3.5L59.57 -3.12L59.57 0L59.7 0.25L60.08 0.5L60.58 0.25L61.08 -0.75L61.59 -0.25L63.1 0.5L66.5 0.5L66.62 0.38L66.75 0.5L68.26 -0.25L69.27 -1.25L69.27 -1.5L69.39 -1.62L69.39 -4L69.27 -4.12L69.27 -4.38L68.14 -5.38L66.62 -6.12L66.37 -6.12L65.99 -6.38L65.74 -6.38L65.36 -6.62L65.11 -6.62L64.73 -6.88L64.48 -6.88L64.11 -7.12L63.85 -7.12L63.48 -7.38L62.59 -7.62L61.33 -8.25L60.58 -9L60.58 -9.25L61.21 -10L61.71 -10.25L61.96 -10.25L62.59 -10.62L65.62 -10.62L66.88 -10L67.76 -9.12L68.39 -7.75L68.89 -7.5L69.14 -7.62L69.39 -8L69.39 -11.12L69.27 -11.38L68.89 -11.62L68.39 -11.38L68.14 -10.75L67.88 -10.5L67.63 -10.75L65.87 -11.62L62.47 -11.62L62.34 -11.5ZM213.85 -17.25L213.6 -17.12L213.35 -16.75L213.6 -16.38L213.85 -16.25L215.62 -16.25L215.74 -16.12L215.74 -10.25L215.62 -10.12L214.86 -10.88L213.35 -11.62L213.22 -11.5L213.1 -11.62L211.21 -11.62L210.83 -11.38L210.58 -11.38L210.45 -11.25L208.69 -10.75L207.05 -9.12L206.93 -8.88L206.93 -8.62L206.8 -8.5L206.8 -8.25L206.67 -8.12L206.67 -7.88L206.55 -7.75L206.55 -7.5L206.17 -6.62L206.17 -4.5L206.3 -4.38L206.3 -4.12L206.42 -4L206.42 -3.75L206.55 -3.62L206.55 -3.38L206.67 -3.25L206.67 -3L206.8 -2.88L207.05 -2L208.56 -0.5L209.07 -0.25L210.83 0.25L211.21 0.5L213.1 0.5L213.22 0.38L213.35 0.5L214.86 -0.25L214.86 -0.38L215.62 -1L215.74 -0.88L215.74 0L215.87 0.25L216.24 0.5L219.52 0.5L219.77 0.38L220.02 0L219.77 -0.38L219.52 -0.5L217.76 -0.5L217.63 -0.62L217.63 -16.75L217.5 -17L217.13 -17.25ZM211.58 -10.62L212.97 -10.62L214.48 -9.88L215.74 -8.5L215.74 -2.62L214.23 -1.12L212.97 -0.5L211.58 -0.5L211.21 -0.75L210.96 -0.75L210.2 -1.12L208.69 -2.62L208.44 -3.5L208.31 -3.62L208.31 -3.88L208.18 -4L208.18 -4.25L208.06 -4.38L208.06 -4.62L207.93 -4.75L207.93 -6.38L208.06 -6.5L208.06 -6.75L208.18 -6.88L208.18 -7.12L208.31 -7.25L208.31 -7.5L208.44 -7.62L208.69 -8.5L210.2 -10L210.96 -10.38L211.21 -10.38ZM181.86 -17.25L181.61 -17.12L180.6 -16.12L180.48 -15.88L180.6 -15.62L181.48 -14.75L181.74 -14.75L181.86 -14.62L181.99 -14.75L182.24 -14.75L183 -15.5L183 -15.75L183.12 -15.88L183 -16L183 -16.25L182.11 -17.12ZM75.31 -17.25L75.06 -17.12L74.81 -16.75L74.81 -11.75L74.68 -11.62L72.92 -11.62L72.67 -11.5L72.42 -11.12L72.54 -10.88L72.92 -10.62L74.68 -10.62L74.81 -10.5L74.81 -2.88L74.94 -2.75L74.94 -2.5L75.06 -2.38L75.57 -0.62L75.94 -0.25L77.46 0.5L77.58 0.38L77.71 0.5L79.47 0.5L80.98 -0.25L81.49 -0.75L82.24 -2.38L82.12 -2.62L81.74 -2.88L81.23 -2.62L80.6 -1.25L79.22 -0.5L77.96 -0.5L77.33 -1L77.33 -1.25L77.2 -1.38L77.2 -1.62L77.08 -1.75L77.08 -2L76.95 -2.12L76.95 -2.38L76.57 -3.25L76.57 -10.5L76.7 -10.62L79.34 -10.62L79.6 -10.75L79.85 -11.12L79.72 -11.38L79.34 -11.62L76.7 -11.62L76.57 -11.75L76.57 -16.75L76.45 -17L76.07 -17.25L75.69 -17ZM24.06 -17.25L23.93 -17.12L23.55 -17.12L23.43 -17L23.17 -17L23.05 -16.88L22.8 -16.88L22.67 -16.75L22.42 -16.75L22.29 -16.62L21.41 -16.38L20.28 -15.25L19.52 -13.75L19.65 -13.62L19.52 -13.5L19.52 -12.75L19.65 -12.62L19.65 -12.38L20.53 -11.5L20.78 -11.38L21.28 -11.62L22.04 -12.38L22.04 -12.62L22.17 -12.75L22.04 -12.88L22.04 -13.12L21.91 -13.12L21.16 -13.88L21.03 -13.88L20.91 -14L20.91 -14.25L21.03 -14.5L22.04 -15.5L22.29 -15.62L22.54 -15.62L22.67 -15.75L22.92 -15.75L23.05 -15.88L23.3 -15.88L24.18 -16.25L26.95 -16.25L28.21 -15.62L28.59 -15.25L29.09 -14.25L29.09 -11.88L28.59 -10.88L28.34 -10.62L27.08 -10L24.81 -10L24.56 -9.88L24.31 -9.5L24.43 -9.25L24.81 -9L27.2 -9L28.46 -8.38L29.22 -7.62L29.47 -6.75L29.6 -6.62L29.6 -6.38L29.72 -6.25L29.72 -6L29.85 -5.88L29.85 -5.62L29.97 -5.5L29.97 -3.25L29.6 -2.75L29.34 -2.12L28.34 -1.12L27.08 -0.5L23.93 -0.5L23.8 -0.62L22.04 -1.12L21.16 -2L20.91 -2.62L22.04 -3.62L22.04 -3.88L22.17 -4L22.04 -4.12L22.04 -4.38L21.91 -4.38L21.16 -5.12L20.91 -5.12L20.78 -5.25L20.28 -5L19.65 -4.38L19.65 -4.12L19.52 -4L19.52 -3L20.28 -1.5L21.54 -0.25L21.79 -0.25L21.91 -0.12L22.17 -0.12L22.29 0L22.54 0L22.67 0.12L22.92 0.12L23.8 0.5L27.2 0.5L27.33 0.38L27.46 0.5L27.58 0.38L27.83 0.38L27.96 0.25L29.72 -0.25L29.97 -0.5L30.1 -0.5L30.86 -1.25L31.74 -3L31.74 -5.75L30.86 -7.5L29.09 -9.25L28.84 -9.38L28.97 -9.62L29.6 -9.75L29.85 -9.88L29.97 -10.12L30.1 -10.12L30.98 -11.88L30.98 -14.25L30.1 -16.12L29.97 -16.12L29.85 -16.38L29.6 -16.5L29.34 -16.5L29.22 -16.62L28.97 -16.62L28.84 -16.75L28.59 -16.75L27.71 -17.12L27.33 -17.12L27.2 -17.25ZM5.42 -16.38L3.53 -14.5L3.15 -13.62L2.77 -13.12L2.64 -12.38L2.52 -12.25L2.52 -11.88L2.39 -11.75L2.39 -11.38L2.27 -11.25L2.27 -10.88L2.14 -10.75L2.14 -10.38L2.02 -10.25L2.02 -9.88L1.89 -9.75L1.89 -6.88L2.02 -6.75L2.02 -6.38L2.14 -6.25L2.14 -5.88L2.27 -5.75L2.27 -5.38L2.39 -5.25L2.64 -3.88L3.53 -2.12L5.16 -0.5L5.29 -0.5L5.54 -0.25L5.79 -0.25L5.92 -0.12L6.17 -0.12L6.3 0L6.55 0L6.67 0.12L6.93 0.12L7.81 0.5L7.93 0.38L8.06 0.5L9.57 0.5L9.7 0.38L9.82 0.5L9.95 0.38L10.96 0.12L11.08 0.25L11.08 0.62L11.21 0.75L11.21 1.5L11.33 1.62L11.46 3.25L11.71 3.5L11.71 3.62L12.47 4.38L12.72 4.38L12.85 4.5L14.36 4.5L14.86 4.25L15.24 3.62L15.24 3.38L15.74 2.38L15.74 1.62L15.49 1.25L15.24 1.12L14.99 1.25L14.74 1.62L14.74 2.12L14.23 2.62L13.85 2.62L13.1 1.88L12.47 0.62L12.47 0.25L12.34 0.12L12.22 -0.38L12.47 -0.5L14.11 -2.12L14.86 -3.62L14.99 -4.38L15.11 -4.5L15.11 -4.88L15.24 -5L15.24 -5.38L15.37 -5.5L15.37 -5.88L15.49 -6L15.49 -6.38L15.62 -6.5L15.62 -6.88L15.74 -7L15.74 -9.75L15.62 -9.88L15.62 -10.25L15.49 -10.38L15.49 -10.75L15.37 -10.88L15.37 -11.25L15.24 -11.38L15.24 -11.75L15.11 -11.88L15.11 -12.25L14.99 -12.38L14.86 -13.12L14.61 -13.38L14.11 -14.5L12.22 -16.38L11.96 -16.5L11.71 -16.5L11.59 -16.62L11.33 -16.62L11.21 -16.75L10.96 -16.75L10.08 -17.12L9.7 -17.12L9.57 -17.25L8.06 -17.25L7.93 -17.12L7.56 -17.12L7.43 -17ZM12.85 3.38L12.97 3.25L13.1 3.38L12.97 3.5ZM12.72 3.25L12.85 3.12L12.97 3.25L12.85 3.38ZM12.59 3.12L12.72 3L12.85 3.12L12.72 3.25ZM12.47 3L12.59 2.88L12.72 3L12.59 3.12ZM6.67 -3.5L8.06 -4.25L8.82 -4.25L9.82 -3.75L10.2 -3.38L10.58 -2.62L10.58 -2.38L10.83 -2L10.83 -1.25L10.58 -1L9.57 -0.5L8.06 -0.5L6.8 -1.12L6.17 -1.75L6.17 -2.38L6.67 -3.25ZM8.19 -16.25L9.45 -16.25L10.71 -15.62L12.59 -13.75L13.22 -12.38L13.22 -12L13.35 -11.88L13.35 -11.5L13.48 -11.38L13.48 -11L13.6 -10.88L13.6 -10.5L13.73 -10.38L13.73 -10L13.85 -9.88L13.85 -6.75L13.73 -6.62L13.73 -6.25L13.6 -6.12L13.6 -5.75L13.48 -5.62L13.48 -5.25L13.35 -5.12L13.35 -4.75L13.22 -4.62L13.1 -4L12.47 -2.75L11.84 -2.12L11.71 -2.25L11.71 -2.62L10.96 -4.12L10.58 -4.5L9.07 -5.25L8.94 -5.12L8.82 -5.25L8.06 -5.25L7.93 -5.12L7.81 -5.25L6.3 -4.5L6.05 -4.25L5.92 -4.25L5.42 -3.12L5.16 -2.88L4.41 -4.25L4.41 -4.62L4.28 -4.75L4.28 -5.12L4.16 -5.25L4.16 -5.62L4.03 -5.75L4.03 -6.12L3.9 -6.25L3.9 -6.62L3.78 -6.75L3.78 -7.12L3.65 -7.25L3.65 -9.38L3.78 -9.5L3.78 -9.88L3.9 -10L3.9 -10.38L4.03 -10.5L4.03 -10.88L4.16 -11L4.16 -11.5L4.28 -11.62L4.41 -12.5L5.04 -13.75L6.93 -15.62ZM223.42 -20.38L223.05 -20.12L222.92 -19.88L223.05 -19.62L224.81 -17.75L226.32 -14.75L226.32 -14.5L226.45 -14.38L226.45 -14.12L226.82 -13.25L226.82 -12.88L227.08 -12.38L227.08 -12L227.2 -11.88L227.33 -10.62L227.45 -10.5L227.45 -10L227.58 -9.88L227.58 -9.38L227.71 -9.25L227.71 -8.75L227.83 -8.62L227.83 -5.62L227.71 -5.5L227.71 -5L227.58 -4.88L227.58 -4.38L227.45 -4.25L227.45 -3.75L227.33 -3.62L227.33 -3.12L227.2 -3L227.08 -1.88L226.95 -1.75L226.95 -1.5L226.82 -1.38L226.82 -1.12L226.7 -1L226.19 0.75L224.81 3.5L223.17 5.12L222.92 5.62L223.05 5.88L223.42 6.12L223.93 5.88L225.56 4.25L225.56 4.12L227.08 2L228.84 -1.5L228.84 -2L228.97 -2.12L228.97 -2.62L229.09 -2.75L229.09 -3.25L229.22 -3.38L229.22 -4L229.34 -4.12L229.34 -4.62L229.47 -4.75L229.47 -5.25L229.59 -5.38L229.59 -9.12L229.47 -9.25L229.47 -9.75L229.34 -9.88L229.34 -10.38L229.22 -10.5L229.22 -11L229.09 -11.12L229.09 -11.62L228.97 -11.75L228.84 -12.88L227.08 -16.25L226.82 -16.5L226.07 -17.75L225.69 -18.12L225.56 -18.5L223.8 -20.25L223.55 -20.25ZM55.29 -20.38L55.16 -20.25L54.91 -20.25L53.27 -18.62L53.27 -18.5L51.51 -16L50 -13L50 -12.75L49.87 -12.62L49.87 -12.12L49.75 -12L49.75 -11.5L49.62 -11.38L49.62 -10.88L49.5 -10.75L49.5 -10.25L49.37 -10.12L49.37 -9.62L49.24 -9.5L49.24 -9L49.12 -8.88L49.12 -5.5L49.24 -5.38L49.24 -4.88L49.37 -4.75L49.37 -4.25L49.5 -4.12L49.5 -3.62L49.62 -3.5L49.62 -3L49.75 -2.88L49.75 -2.38L49.87 -2.25L49.87 -1.75L50 -1.62L50 -1.38L50.63 -0.25L50.63 0L51.51 1.75L51.76 2L53.27 4.38L54.79 5.88L55.29 6.12L55.54 6L55.79 5.62L55.67 5.5L55.67 5.25L54.03 3.62L52.77 1L52.52 0.75L52.52 0.38L52.39 0.25L52.39 0L52.27 -0.12L52.27 -0.38L52.14 -0.5L52.14 -0.75L51.76 -1.62L51.64 -2.62L51.51 -2.75L51.51 -3.25L51.38 -3.38L51.26 -4.38L51.13 -4.5L51.13 -5L51.01 -5.12L51.01 -9.12L51.13 -9.25L51.13 -9.75L51.26 -9.88L51.26 -10.38L51.38 -10.5L51.38 -11L51.51 -11.12L51.51 -11.62L51.64 -11.75L51.76 -12.75L51.89 -12.88L52.39 -14.62L54.03 -17.88L55.67 -19.5L55.67 -19.75L55.79 -19.88L55.67 -20.12Z"/>
<path transform="translate(266.41 596.15)" fill="#ff00ff" fill-rule="evenodd" d="M187.91 -11.38L187.78 -11.12L187.91 -10.88L188.29 -10.62L190.05 -10.62L190.17 -10.5L190.17 -0.62L190.05 -0.5L188.29 -0.5L188.03 -0.38L187.78 0L188.03 0.38L188.29 0.5L193.83 0.5L194.2 0.25L194.33 0L194.2 -0.25L193.83 -0.5L192.06 -0.5L191.94 -0.62L191.94 -8.5L193.45 -10L193.7 -10L193.83 -10.12L194.08 -10.12L194.2 -10.25L194.46 -10.25L195.34 -10.62L196.98 -10.62L198.23 -10L198.99 -8.62L198.99 -0.62L198.86 -0.5L197.1 -0.5L196.72 -0.25L196.6 0L196.72 0.25L197.1 0.5L202.64 0.5L203.02 0.25L203.15 0L203.02 -0.25L202.64 -0.5L200.88 -0.5L200.75 -0.62L200.75 -8.75L200.63 -8.88L200.75 -9L200.38 -9.5L199.87 -10.62L199.62 -10.88L199.37 -10.88L199.24 -11L198.99 -11L198.86 -11.12L198.61 -11.12L198.49 -11.25L198.23 -11.25L197.35 -11.62L195.21 -11.62L195.09 -11.5L194.83 -11.5L194.71 -11.38L192.95 -10.88L192.06 -10.12L191.94 -10.25L191.94 -11.12L191.81 -11.38L191.43 -11.62L188.29 -11.62ZM179.47 -11.62L179.22 -11.5L178.97 -11.12L179.22 -10.75L179.47 -10.62L181.23 -10.62L181.36 -10.5L181.36 -0.62L181.23 -0.5L179.47 -0.5L179.22 -0.38L178.97 0L179.09 0.25L179.47 0.5L185.01 0.5L185.26 0.38L185.51 0L185.26 -0.38L185.01 -0.5L183.25 -0.5L183.12 -0.62L183.12 -11.12L183 -11.38L182.62 -11.62ZM158.94 -11.12L159.07 -10.88L159.44 -10.62L161.33 -10.62L161.59 -10.25L161.59 -9.88L161.84 -9.38L161.84 -9L162.09 -8.5L162.09 -8.12L162.34 -7.62L162.34 -7.25L162.59 -6.75L162.59 -6.38L162.84 -5.88L162.84 -5.5L163.1 -5L163.1 -4.62L163.35 -4.12L163.35 -3.75L163.6 -3.25L163.6 -2.88L163.85 -2.38L163.85 -2L164.1 -1.5L164.1 -1.12L164.36 -0.62L164.36 -0.25L164.48 -0.12L164.48 0.12L164.99 0.5L165.24 0.38L165.62 -0.12L165.62 -0.5L165.87 -1L165.87 -1.38L166.12 -1.88L166.12 -2.25L166.37 -2.75L166.37 -3.12L166.62 -3.62L166.62 -4L166.88 -4.5L166.88 -4.88L167.13 -5.38L167.13 -5.75L167.38 -6.25L167.38 -6.62L167.63 -7.12L167.63 -7.5L167.88 -8L167.88 -8.38L168.01 -8.5L168.01 -8.75L168.26 -9L168.39 -8.88L168.39 -8.5L168.51 -8.38L168.64 -7.62L168.89 -7.12L168.89 -6.75L169.14 -6.25L169.14 -5.88L169.39 -5.38L169.39 -5L169.65 -4.5L169.65 -4.12L169.9 -3.62L169.9 -3.25L170.15 -2.75L170.15 -2.38L170.4 -1.88L170.4 -1.5L170.65 -1L170.65 -0.62L170.78 -0.5L170.91 0.12L171.41 0.5L171.91 0.12L171.91 -0.12L172.16 -0.62L172.16 -1L172.42 -1.5L172.42 -1.88L172.67 -2.38L172.67 -2.75L172.92 -3.25L172.92 -3.62L173.17 -4.12L173.17 -4.5L173.42 -5L173.42 -5.38L173.68 -5.88L173.68 -6.25L173.93 -6.75L173.93 -7.12L174.18 -7.62L174.18 -8L174.43 -8.5L174.43 -8.88L174.68 -9.38L174.68 -9.75L174.81 -9.88L174.94 -10.5L175.06 -10.62L177.08 -10.62L177.33 -10.75L177.58 -11.12L177.45 -11.38L177.08 -11.62L172.16 -11.62L171.79 -11.38L171.66 -11.12L171.79 -10.88L172.16 -10.62L173.8 -10.62L173.93 -10.5L173.8 -10L173.68 -9.88L173.68 -9.5L173.42 -9L173.42 -8.62L173.17 -8.12L173.17 -7.75L172.92 -7.25L172.92 -6.88L172.67 -6.38L172.67 -6L172.42 -5.5L172.42 -5.12L172.16 -4.62L172.16 -4.25L171.91 -3.75L171.91 -3.38L171.79 -3.25L171.53 -3.62L171.41 -4.5L171.16 -5L171.03 -5.88L170.78 -6.38L170.78 -6.75L170.65 -6.88L170.65 -7.25L170.4 -7.75L170.4 -8.12L170.28 -8.25L170.28 -8.62L170.02 -9.12L170.02 -9.5L169.9 -9.62L169.9 -10L169.65 -10.5L169.65 -10.88L169.52 -11L169.52 -11.25L169.27 -11.5L169.02 -11.62L168.64 -11.38L168.26 -11.62L167.63 -11.12L167.63 -10.75L167.38 -10.25L167.38 -9.88L167.13 -9.38L167.13 -9L166.88 -8.5L166.88 -8.12L166.62 -7.62L166.62 -7.25L166.37 -6.75L166.37 -6.38L166.12 -5.88L166.12 -5.5L165.99 -5.38L165.87 -4.62L165.62 -4.12L165.62 -3.75L165.36 -3.25L164.99 -4.12L164.86 -5L164.61 -5.5L164.48 -6.38L164.23 -6.88L164.1 -7.75L163.85 -8.25L163.73 -9.12L163.6 -9.25L163.47 -10L163.35 -10.12L163.35 -10.5L163.47 -10.62L164.99 -10.62L165.24 -10.75L165.49 -11.12L165.36 -11.38L164.99 -11.62L159.44 -11.62L159.19 -11.5ZM136.77 -11.62L135.01 -10.75L134.26 -10L133.37 -8.38L133.37 -8.12L133.25 -8L133.25 -6.38L133.88 -4.88L133.37 -4.38L132.49 -2.62L132.62 -2.5L132.49 -2.38L132.49 -1.62L132.62 -1.5L132.49 -1.38L133.25 0.12L133.12 0.25L132.87 0.25L132.49 0.62L132.24 1.25L131.99 1.5L131.61 2.38L131.61 3.12L132.49 5L132.62 5L132.74 5.25L133 5.38L133.25 5.38L133.37 5.5L133.63 5.5L133.75 5.62L134 5.62L134.89 6L135.26 6L135.39 6.12L140.18 6.12L140.3 6L140.55 6L140.68 5.88L142.44 5.38L143.07 5L143.83 3.5L143.7 3.25L143.83 3.12L143.83 2.38L143.7 2.25L143.83 2.12L143.07 0.62L142.57 0.25L142.32 0.25L142.19 0.12L141.94 0.12L141.81 0L141.56 0L141.43 -0.12L141.18 -0.12L140.3 -0.5L136.02 -0.5L135.89 -0.62L135.64 -0.62L135.52 -0.75L135.26 -0.75L135.14 -0.88L134.26 -1.12L133.5 -1.88L133.5 -2.38L134.13 -3.62L134.51 -4L134.63 -4L135.14 -3.5L137.03 -2.62L138.54 -2.62L140.43 -3.5L141.43 -4.5L142.32 -6.38L142.32 -8L141.56 -9.38L142.06 -9.88L143.32 -9.88L143.58 -10L143.83 -10.38L143.83 -11.12L143.58 -11.5L143.2 -11.62L141.43 -10.75L141.06 -10.38L140.93 -10.38L140.55 -10.75L138.79 -11.62L138.66 -11.5L138.54 -11.62L137.03 -11.62L136.9 -11.5ZM132.62 2.5L133.37 1.12L133.63 1.12L133.75 1L134.63 0.75L134.76 0.88L135.01 0.88L135.89 1.25L140.18 1.25L140.3 1.38L140.55 1.38L140.68 1.5L140.93 1.5L141.06 1.62L141.31 1.62L141.69 1.88L142.19 2L142.82 2.62L142.82 3.25L142.19 4.38L141.31 4.62L141.18 4.75L140.93 4.75L140.8 4.88L140.55 4.88L140.43 5L140.18 5L140.05 5.12L135.52 5.12L135.39 5L135.14 5L135.01 4.88L134.76 4.88L134.63 4.75L134.38 4.75L134.26 4.62L133.37 4.38L132.62 3ZM137.03 -10.62L138.41 -10.62L139.67 -10L139.92 -9.75L140.43 -8.75L140.43 -5.5L140.05 -4.75L139.55 -4.25L138.29 -3.62L137.15 -3.62L135.89 -4.25L135.64 -4.5L135.01 -5.75L135.01 -8.5L135.39 -9.12L135.39 -9.38L135.64 -9.88ZM114.1 -11.38L113.98 -11.12L114.1 -10.88L114.48 -10.62L116.37 -10.62L116.5 -10.5L116.5 -0.62L116.37 -0.5L114.48 -0.5L114.23 -0.38L113.98 0L114.23 0.38L114.48 0.5L120.15 0.5L120.53 0.25L120.65 0L120.53 -0.25L120.15 -0.5L118.39 -0.5L118.26 -0.62L118.26 -8.5L119.77 -10L120.02 -10L120.15 -10.12L120.4 -10.12L120.53 -10.25L120.78 -10.25L121.66 -10.62L123.3 -10.62L124.56 -10L125.31 -8.5L125.31 -0.62L125.19 -0.5L123.3 -0.5L122.92 -0.25L122.79 0L122.92 0.25L123.3 0.5L128.97 0.5L129.34 0.25L129.47 0L129.34 -0.25L128.97 -0.5L127.2 -0.5L127.08 -0.62L127.08 -8.75L126.2 -10.62L125.94 -10.88L125.69 -10.88L125.57 -11L125.31 -11L125.19 -11.12L124.94 -11.12L124.81 -11.25L124.56 -11.25L123.68 -11.62L123.42 -11.5L123.3 -11.62L121.79 -11.62L121.66 -11.5L121.54 -11.62L121.41 -11.5L121.16 -11.5L121.03 -11.38L119.27 -10.88L118.39 -10.12L118.26 -10.25L118.26 -11.12L118.13 -11.38L117.76 -11.62L114.48 -11.62ZM103.9 -11.62L103.78 -11.5L103.53 -11.5L103.4 -11.38L103.15 -11.38L103.02 -11.25L102.77 -11.25L102.64 -11.12L102.39 -11.12L102.27 -11L101.38 -10.75L99.75 -9.12L99.5 -8.25L99.37 -8.12L99.37 -7.88L99.24 -7.75L99.24 -7.5L99.12 -7.38L99.12 -7.12L98.99 -7L98.99 -6.75L98.87 -6.62L98.87 -4.5L98.99 -4.38L98.99 -4.12L99.12 -4L99.12 -3.75L99.24 -3.62L99.24 -3.38L99.37 -3.25L99.37 -3L99.5 -2.88L99.75 -2L101.26 -0.5L101.38 -0.5L101.64 -0.25L101.89 -0.25L102.01 -0.12L102.27 -0.12L102.39 0L102.64 0L102.77 0.12L103.02 0.12L103.9 0.5L105.92 0.5L106.04 0.38L106.3 0.38L106.42 0.25L106.67 0.25L106.8 0.12L107.05 0.12L107.18 0L107.43 0L107.56 -0.12L108.44 -0.38L110.07 -2L110.33 -2.5L110.33 -2.75L110.45 -2.88L110.96 -4.62L111.08 -4.75L111.08 -6.38L110.96 -6.5L110.96 -6.75L110.83 -6.88L110.83 -7.12L110.7 -7.25L110.7 -7.5L110.58 -7.62L110.58 -7.88L110.45 -8L110.45 -8.25L110.07 -9.12L108.31 -10.88L108.06 -10.88L107.93 -11L107.68 -11L107.56 -11.12L107.3 -11.12L107.18 -11.25L106.93 -11.25L106.04 -11.62ZM104.16 -10.62L105.67 -10.62L106.93 -10L108.56 -8.38L108.56 -8.12L108.69 -8L108.69 -7.75L108.82 -7.62L108.82 -7.38L109.19 -6.5L109.19 -4.5L109.07 -4.38L109.07 -4.12L108.94 -4L108.94 -3.75L108.82 -3.62L108.56 -2.75L106.93 -1.12L105.67 -0.5L104.16 -0.5L102.9 -1.12L101.26 -2.75L101.26 -3L101.13 -3.12L101.13 -3.38L101.01 -3.5L101.01 -3.75L100.63 -4.62L100.63 -6.5L100.75 -6.62L101.26 -8.38L102.9 -10ZM84.89 -11.62L84.63 -11.5L84.38 -11.12L84.63 -10.75L84.89 -10.62L86.65 -10.62L86.78 -10.5L86.78 -0.62L86.65 -0.5L84.89 -0.5L84.63 -0.38L84.38 0L84.51 0.25L84.89 0.5L90.55 0.5L90.81 0.38L91.06 0L90.81 -0.38L90.55 -0.5L88.79 -0.5L88.66 -0.62L88.66 -6.62L88.79 -6.75L89.29 -8.38L90.93 -10L92.19 -10.62L93.83 -10.62L93.95 -10.5L93.32 -9.88L93.32 -9.62L93.2 -9.5L93.32 -9.38L93.32 -9.12L94.08 -8.38L94.33 -8.38L94.46 -8.25L94.58 -8.38L94.96 -8.38L95.72 -9.12L95.72 -9.38L95.84 -9.5L95.84 -10.38L95.72 -10.5L95.72 -10.75L94.84 -11.5L94.58 -11.5L94.46 -11.62L91.94 -11.62L90.18 -10.75L88.79 -9.38L88.66 -9.5L88.66 -11.12L88.41 -11.5L88.16 -11.62ZM94.58 -9.75L94.71 -9.88L94.84 -9.75L94.71 -9.62ZM62.22 -11.62L61.71 -11.25L60.58 -10.75L59.7 -9.88L59.7 -9.62L59.57 -9.5L59.57 -8L59.7 -7.88L59.7 -7.62L60.58 -6.75L61.71 -6.25L61.96 -6L62.47 -5.88L62.85 -5.62L63.1 -5.62L63.48 -5.38L63.73 -5.38L64.11 -5.12L64.36 -5.12L64.73 -4.88L64.99 -4.88L65.36 -4.62L65.62 -4.62L66.25 -4.25L66.5 -4.25L67.76 -3.62L68.39 -3L68.39 -1.88L67.63 -1.12L66.37 -0.5L63.35 -0.5L62.09 -1.12L61.21 -2L60.58 -3.38L60.08 -3.62L59.82 -3.5L59.57 -3.12L59.57 0L59.7 0.25L60.08 0.5L60.58 0.25L61.08 -0.75L61.59 -0.25L63.1 0.5L66.5 0.5L66.62 0.38L66.75 0.5L68.26 -0.25L69.27 -1.25L69.27 -1.5L69.39 -1.62L69.39 -4L69.27 -4.12L69.27 -4.38L68.14 -5.38L66.62 -6.12L66.37 -6.12L65.99 -6.38L65.74 -6.38L65.36 -6.62L65.11 -6.62L64.73 -6.88L64.48 -6.88L64.11 -7.12L63.85 -7.12L63.48 -7.38L62.59 -7.62L61.33 -8.25L60.58 -9L60.58 -9.25L61.21 -10L61.71 -10.25L61.96 -10.25L62.59 -10.62L65.62 -10.62L66.88 -10L67.76 -9.12L68.39 -7.75L68.89 -7.5L69.14 -7.62L69.39 -8L69.39 -11.12L69.27 -11.38L68.89 -11.62L68.39 -11.38L68.14 -10.75L67.88 -10.5L67.63 -10.75L65.87 -11.62L62.47 -11.62L62.34 -11.5ZM213.85 -17.25L213.6 -17.12L213.35 -16.75L213.6 -16.38L213.85 -16.25L215.62 -16.25L215.74 -16.12L215.74 -10.25L215.62 -10.12L214.86 -10.88L213.35 -11.62L213.22 -11.5L213.1 -11.62L211.21 -11.62L210.83 -11.38L210.58 -11.38L210.45 -11.25L208.69 -10.75L207.05 -9.12L206.93 -8.88L206.93 -8.62L206.8 -8.5L206.8 -8.25L206.67 -8.12L206.67 -7.88L206.55 -7.75L206.55 -7.5L206.17 -6.62L206.17 -4.5L206.3 -4.38L206.3 -4.12L206.42 -4L206.42 -3.75L206.55 -3.62L206.55 -3.38L206.67 -3.25L206.67 -3L206.8 -2.88L207.05 -2L208.56 -0.5L209.07 -0.25L210.83 0.25L211.21 0.5L213.1 0.5L213.22 0.38L213.35 0.5L214.86 -0.25L214.86 -0.38L215.62 -1L215.74 -0.88L215.74 0L215.87 0.25L216.24 0.5L219.52 0.5L219.77 0.38L220.02 0L219.77 -0.38L219.52 -0.5L217.76 -0.5L217.63 -0.62L217.63 -16.75L217.5 -17L217.13 -17.25ZM211.58 -10.62L212.97 -10.62L214.48 -9.88L215.74 -8.5L215.74 -2.62L214.23 -1.12L212.97 -0.5L211.58 -0.5L211.21 -0.75L210.96 -0.75L210.2 -1.12L208.69 -2.62L208.44 -3.5L208.31 -3.62L208.31 -3.88L208.18 -4L208.18 -4.25L208.06 -4.38L208.06 -4.62L207.93 -4.75L207.93 -6.38L208.06 -6.5L208.06 -6.75L208.18 -6.88L208.18 -7.12L208.31 -7.25L208.31 -7.5L208.44 -7.62L208.69 -8.5L210.2 -10L210.96 -10.38L211.21 -10.38ZM181.86 -17.25L181.61 -17.12L180.6 -16.12L180.48 -15.88L180.6 -15.62L181.48 -14.75L181.74 -14.75L181.86 -14.62L181.99 -14.75L182.24 -14.75L183 -15.5L183 -15.75L183.12 -15.88L183 -16L183 -16.25L182.11 -17.12ZM75.31 -17.25L75.06 -17.12L74.81 -16.75L74.81 -11.75L74.68 -11.62L72.92 -11.62L72.67 -11.5L72.42 -11.12L72.54 -10.88L72.92 -10.62L74.68 -10.62L74.81 -10.5L74.81 -2.88L74.94 -2.75L74.94 -2.5L75.06 -2.38L75.57 -0.62L75.94 -0.25L77.46 0.5L77.58 0.38L77.71 0.5L79.47 0.5L80.98 -0.25L81.49 -0.75L82.24 -2.38L82.12 -2.62L81.74 -2.88L81.23 -2.62L80.6 -1.25L79.22 -0.5L77.96 -0.5L77.33 -1L77.33 -1.25L77.2 -1.38L77.2 -1.62L77.08 -1.75L77.08 -2L76.95 -2.12L76.95 -2.38L76.57 -3.25L76.57 -10.5L76.7 -10.62L79.34 -10.62L79.6 -10.75L79.85 -11.12L79.72 -11.38L79.34 -11.62L76.7 -11.62L76.57 -11.75L76.57 -16.75L76.45 -17L76.07 -17.25L75.69 -17ZM28.09 -17.25L27.58 -17L27.58 -16.88L26.83 -16L26.57 -15.5L25.06 -13.62L24.81 -13.12L23.3 -11.25L23.05 -10.75L21.91 -9.38L21.66 -8.88L21.28 -8.5L21.28 -8.38L20.15 -7L19.9 -6.5L18.77 -5.12L18.89 -5L18.77 -4.75L18.89 -4.5L19.27 -4.25L26.57 -4.25L26.7 -4.12L26.7 -0.62L26.57 -0.5L24.81 -0.5L24.56 -0.38L24.31 0L24.43 0.25L24.81 0.5L30.48 0.5L30.73 0.38L30.98 0L30.86 -0.25L30.48 -0.5L28.72 -0.5L28.59 -0.62L28.59 -4.12L28.72 -4.25L31.99 -4.25L32.24 -4.38L32.49 -4.75L32.37 -5L31.99 -5.25L28.72 -5.25L28.59 -5.38L28.59 -16.75L28.46 -17ZM26.57 -13.88L26.7 -13.75L26.7 -5.38L26.57 -5.25L20.4 -5.25L20.28 -5.38L20.53 -5.62L20.53 -5.75L21.66 -7.12L21.91 -7.62L23.05 -9L23.3 -9.5L24.43 -10.88L24.68 -11.38L25.06 -11.75L25.06 -11.88L25.44 -12.25L25.44 -12.38L25.82 -12.75L25.82 -12.88ZM5.42 -16.38L3.53 -14.5L3.15 -13.62L2.77 -13.12L2.64 -12.38L2.52 -12.25L2.52 -11.88L2.39 -11.75L2.39 -11.38L2.27 -11.25L2.27 -10.88L2.14 -10.75L2.14 -10.38L2.02 -10.25L2.02 -9.88L1.89 -9.75L1.89 -6.88L2.02 -6.75L2.02 -6.38L2.14 -6.25L2.14 -5.88L2.27 -5.75L2.27 -5.38L2.39 -5.25L2.64 -3.88L3.53 -2.12L5.16 -0.5L5.29 -0.5L5.54 -0.25L5.79 -0.25L5.92 -0.12L6.17 -0.12L6.3 0L6.55 0L6.67 0.12L6.93 0.12L7.81 0.5L7.93 0.38L8.06 0.5L9.57 0.5L9.7 0.38L9.82 0.5L9.95 0.38L10.96 0.12L11.08 0.25L11.08 0.62L11.21 0.75L11.21 1.5L11.33 1.62L11.46 3.25L11.71 3.5L11.71 3.62L12.47 4.38L12.72 4.38L12.85 4.5L14.36 4.5L14.86 4.25L15.24 3.62L15.24 3.38L15.74 2.38L15.74 1.62L15.49 1.25L15.24 1.12L14.99 1.25L14.74 1.62L14.74 2.12L14.23 2.62L13.85 2.62L13.1 1.88L12.47 0.62L12.47 0.25L12.34 0.12L12.22 -0.38L12.47 -0.5L14.11 -2.12L14.86 -3.62L14.99 -4.38L15.11 -4.5L15.11 -4.88L15.24 -5L15.24 -5.38L15.37 -5.5L15.37 -5.88L15.49 -6L15.49 -6.38L15.62 -6.5L15.62 -6.88L15.74 -7L15.74 -9.75L15.62 -9.88L15.62 -10.25L15.49 -10.38L15.49 -10.75L15.37 -10.88L15.37 -11.25L15.24 -11.38L15.24 -11.75L15.11 -11.88L15.11 -12.25L14.99 -12.38L14.86 -13.12L14.61 -13.38L14.11 -14.5L12.22 -16.38L11.96 -16.5L11.71 -16.5L11.59 -16.62L11.33 -16.62L11.21 -16.75L10.96 -16.75L10.08 -17.12L9.7 -17.12L9.57 -17.25L8.06 -17.25L7.93 -17.12L7.56 -17.12L7.43 -17ZM12.85 3.38L12.97 3.25L13.1 3.38L12.97 3.5ZM12.72 3.25L12.85 3.12L12.97 3.25L12.85 3.38ZM12.59 3.12L12.72 3L12.85 3.12L12.72 3.25ZM12.47 3L12.59 2.88L12.72 3L12.59 3.12ZM6.67 -3.5L8.06 -4.25L8.82 -4.25L9.82 -3.75L10.2 -3.38L10.58 -2.62L10.58 -2.38L10.83 -2L10.83 -1.25L10.58 -1L9.57 -0.5L8.06 -0.5L6.8 -1.12L6.17 -1.75L6.17 -2.38L6.67 -3.25ZM8.19 -16.25L9.45 -16.25L10.71 -15.62L12.59 -13.75L13.22 -12.38L13.22 -12L13.35 -11.88L13.35 -11.5L13.48 -11.38L13.48 -11L13.6 -10.88L13.6 -10.5L13.73 -10.38L13.73 -10L13.85 -9.88L13.85 -6.75L13.73 -6.62L13.73 -6.25L13.6 -6.12L13.6 -5.75L13.48 -5.62L13.48 -5.25L13.35 -5.12L13.35 -4.75L13.22 -4.62L13.1 -4L12.47 -2.75L11.84 -2.12L11.71 -2.25L11.71 -2.62L10.96 -4.12L10.58 -4.5L9.07 -5.25L8.94 -5.12L8.82 -5.25L8.06 -5.25L7.93 -5.12L7.81 -5.25L6.3 -4.5L6.05 -4.25L5.92 -4.25L5.42 -3.12L5.16 -2.88L4.41 -4.25L4.41 -4.62L4.28 -4.75L4.28 -5.12L4.16 -5.25L4.16 -5.62L4.03 -5.75L4.03 -6.12L3.9 -6.25L3.9 -6.62L3.78 -6.75L3.78 -7.12L3.65 -7.25L3.65 -9.38L3.78 -9.5L3.78 -9.88L3.9 -10L3.9 -10.38L4.03 -10.5L4.03 -10.88L4.16 -11L4.16 -11.5L4.28 -11.62L4.41 -12.5L5.04 -13.75L6.93 -15.62ZM223.42 -20.38L223.05 -20.12L222.92 -19.88L223.05 -19.62L224.81 -17.75L226.32 -14.75L226.32 -14.5L226.45 -14.38L226.45 -14.12L226.82 -13.25L226.82 -12.88L227.08 -12.38L227.08 -12L227.2 -11.88L227.33 -10.62L227.45 -10.5L227.45 -10L227.58 -9.88L227.58 -9.38L227.71 -9.25L227.71 -8.75L227.83 -8.62L227.83 -5.62L227.71 -5.5L227.71 -5L227.58 -4.88L227.58 -4.38L227.45 -4.25L227.45 -3.75L227.33 -3.62L227.33 -3.12L227.2 -3L227.08 -1.88L226.95 -1.75L226.95 -1.5L226.82 -1.38L226.82 -1.12L226.7 -1L226.19 0.75L224.81 3.5L223.17 5.12L222.92 5.62L223.05 5.88L223.42 6.12L223.93 5.88L225.56 4.25L225.56 4.12L227.08 2L228.84 -1.5L228.84 -2L228.97 -2.12L228.97 -2.62L229.09 -2.75L229.09 -3.25L229.22 -3.38L229.22 -4L229.34 -4.12L229.34 -4.62L229.47 -4.75L229.47 -5.25L229.59 -5.38L229.59 -9.12L229.47 -9.25L229.47 -9.75L229.34 -9.88L229.34 -10.38L229.22 -10.5L229.22 -11L229.09 -11.12L229.09 -11.62L228.97 -11.75L228.84 -12.88L227.08 -16.25L226.82 -16.5L226.07 -17.75L225.69 -18.12L225.56 -18.5L223.8 -20.25L223.55 -20.25ZM55.29 -20.38L55.16 -20.25L54.91 -20.25L53.27 -18.62L53.27 -18.5L51.51 -16L50 -13L50 -12.75L49.87 -12.62L49.87 -12.12L49.75 -12L49.75 -11.5L49.62 -11.38L49.62 -10.88L49.5 -10.75L49.5 -10.25L49.37 -10.12L49.37 -9.62L49.24 -9.5L49.24 -9L49.12 -8.88L49.12 -5.5L49.24 -5.38L49.24 -4.88L49.37 -4.75L49.37 -4.25L49.5 -4.12L49.5 -3.62L49.62 -3.5L49.62 -3L49.75 -2.88L49.75 -2.38L49.87 -2.25L49.87 -1.75L50 -1.62L50 -1.38L50.63 -0.25L50.63 0L51.51 1.75L51.76 2L53.27 4.38L54.79 5.88L55.29 6.12L55.54 6L55.79 5.62L55.67 5.5L55.67 5.25L54.03 3.62L52.77 1L52.52 0.75L52.52 0.38L52.39 0.25L52.39 0L52.27 -0.12L52.27 -0.38L52.14 -0.5L52.14 -0.75L51.76 -1.62L51.64 -2.62L51.51 -2.75L51.51 -3.25L51.38 -3.38L51.26 -4.38L51.13 -4.5L51.13 -5L51.01 -5.12L51.01 -9.12L51.13 -9.25L51.13 -9.75L51.26 -9.88L51.26 -10.38L51.38 -10.5L51.38 -11L51.51 -11.12L51.51 -11.62L51.64 -11.75L51.76 -12.75L51.89 -12.88L52.39 -14.62L54.03 -17.88L55.67 -19.5L55.67 -19.75L55.79 -19.88L55.67 -20.12Z"/>
<path transform="translate(266.41 627.48)" fill="#000" fill-rule="evenodd" d="M187.66 -11.5L187.66 -11.25L187.53 -11.12L187.66 -11L187.66 -10.75L187.91 -10.5L188.16 -10.5L188.29 -10.38L189.8 -10.38L189.92 -10.25L189.92 -0.88L189.8 -0.75L188.29 -0.75L188.16 -0.62L187.91 -0.62L187.66 -0.38L187.66 -0.12L187.53 0L187.66 0.12L187.66 0.38L187.91 0.62L188.16 0.62L188.29 0.75L193.83 0.75L193.95 0.62L194.2 0.62L194.46 0.38L194.46 0.12L194.58 0L194.46 -0.12L194.46 -0.38L194.2 -0.62L193.95 -0.62L193.83 -0.75L192.32 -0.75L192.19 -0.88L192.19 -8.38L193.57 -9.75L193.83 -9.75L193.95 -9.88L194.2 -9.88L194.33 -10L194.58 -10L195.46 -10.38L196.98 -10.38L197.98 -9.88L198.74 -8.5L198.74 -0.88L198.61 -0.75L197.1 -0.75L196.98 -0.62L196.72 -0.62L196.47 -0.38L196.47 -0.12L196.35 0L196.47 0.12L196.47 0.38L196.72 0.62L196.98 0.62L197.1 0.75L202.64 0.75L202.77 0.62L203.02 0.62L203.27 0.38L203.27 0.12L203.4 0L203.27 -0.12L203.27 -0.38L203.02 -0.62L202.77 -0.62L202.64 -0.75L201.13 -0.75L201.01 -0.88L201.01 -8.75L200.88 -8.88L200.88 -9.25L200.12 -10.75L199.87 -11L199.62 -11L199.49 -11.12L199.24 -11.12L199.12 -11.25L198.86 -11.25L198.74 -11.38L198.49 -11.38L198.36 -11.5L198.11 -11.5L197.23 -11.88L195.46 -11.88L195.34 -11.75L195.21 -11.88L195.09 -11.75L194.83 -11.75L194.71 -11.62L192.95 -11.12L192.32 -10.62L192.19 -10.75L192.06 -11.5L191.81 -11.75L191.56 -11.75L191.43 -11.88L188.29 -11.88L188.16 -11.75L187.91 -11.75ZM179.09 -11.75L178.84 -11.5L178.84 -11.25L178.71 -11.12L178.84 -11L178.84 -10.75L179.09 -10.5L179.34 -10.5L179.47 -10.38L180.98 -10.38L181.11 -10.25L181.11 -0.88L180.98 -0.75L179.47 -0.75L179.34 -0.62L179.09 -0.62L178.84 -0.38L178.84 -0.12L178.71 0L178.84 0.12L178.84 0.38L179.09 0.62L179.34 0.62L179.47 0.75L185.01 0.75L185.14 0.62L185.39 0.62L185.64 0.38L185.64 0.12L185.77 0L185.64 -0.12L185.64 -0.38L185.39 -0.62L185.14 -0.62L185.01 -0.75L183.5 -0.75L183.37 -0.88L183.37 -11.12L183.25 -11.25L183.25 -11.5L183 -11.75L182.74 -11.75L182.62 -11.88L179.47 -11.88L179.34 -11.75ZM158.69 -11.12L158.81 -11L158.81 -10.75L159.07 -10.5L159.32 -10.5L159.44 -10.38L161.08 -10.38L161.33 -10.12L161.46 -9.38L161.71 -8.88L161.71 -8.5L161.96 -8L161.96 -7.62L162.22 -7.12L162.22 -6.75L162.47 -6.25L162.47 -5.88L162.72 -5.38L162.72 -5L162.97 -4.5L162.97 -4.12L163.22 -3.62L163.22 -3.25L163.47 -2.75L163.47 -2.38L163.73 -1.88L163.73 -1.5L163.98 -1L163.98 -0.62L164.23 -0.12L164.23 0.25L164.61 0.62L164.86 0.62L164.99 0.75L165.11 0.62L165.36 0.62L165.87 0L165.87 -0.38L166.12 -0.88L166.12 -1.25L166.37 -1.75L166.37 -2.12L166.62 -2.62L166.62 -3L166.88 -3.5L166.88 -3.88L167.13 -4.38L167.13 -4.75L167.38 -5.25L167.38 -5.62L167.63 -6.12L167.63 -6.5L167.88 -7L167.88 -7.38L168.01 -7.5L168.01 -7.75L168.26 -8L168.51 -7.5L168.51 -7.12L168.76 -6.62L168.76 -6.25L169.02 -5.75L169.02 -5.38L169.27 -4.88L169.27 -4.5L169.52 -4L169.52 -3.62L169.77 -3.12L169.77 -2.75L170.02 -2.25L170.02 -1.88L170.28 -1.38L170.28 -1L170.53 -0.5L170.65 0.25L171.03 0.62L171.28 0.62L171.41 0.75L171.53 0.62L171.79 0.62L172.16 0.25L172.16 0L172.42 -0.5L172.42 -0.88L172.67 -1.38L172.67 -1.75L172.92 -2.25L172.92 -2.62L173.17 -3.12L173.17 -3.5L173.42 -4L173.42 -4.38L173.68 -4.88L173.68 -5.25L173.93 -5.75L173.93 -6.12L174.18 -6.62L174.18 -7L174.43 -7.5L174.43 -7.88L174.68 -8.38L174.68 -8.75L174.81 -8.88L174.94 -9.62L175.06 -9.75L175.19 -10.25L175.31 -10.38L177.08 -10.38L177.2 -10.5L177.45 -10.5L177.71 -10.75L177.71 -11L177.83 -11.12L177.71 -11.25L177.71 -11.5L177.45 -11.75L177.2 -11.75L177.08 -11.88L172.16 -11.88L172.04 -11.75L171.79 -11.75L171.53 -11.5L171.53 -11.25L171.41 -11.12L171.53 -11L171.53 -10.75L171.79 -10.5L172.04 -10.5L172.16 -10.38L173.42 -10.38L173.55 -10.25L173.55 -10L173.3 -9.5L173.3 -9.12L173.05 -8.62L173.05 -8.25L172.79 -7.75L172.79 -7.38L172.54 -6.88L172.54 -6.5L172.29 -6L172.29 -5.62L172.04 -5.12L172.04 -4.75L171.79 -4.25L171.53 -4.62L171.41 -5.5L171.16 -6L171.03 -6.88L170.78 -7.38L170.78 -7.75L170.65 -7.88L170.65 -8.25L170.4 -8.75L170.4 -9.12L170.28 -9.25L170.28 -9.62L170.02 -10.12L170.02 -10.5L169.9 -10.62L169.77 -11.38L169.39 -11.75L169.14 -11.75L169.02 -11.88L168.89 -11.75L168.39 -11.75L168.26 -11.88L168.13 -11.75L167.88 -11.75L167.5 -11.38L167.38 -10.88L167.25 -10.75L167.25 -10.38L167 -9.88L167 -9.5L166.75 -9L166.75 -8.62L166.5 -8.12L166.5 -7.75L166.25 -7.25L166.25 -6.88L165.99 -6.38L165.99 -6L165.87 -5.88L165.74 -5.12L165.62 -5L165.49 -4.25L165.36 -4.12L165.24 -4.25L165.11 -5.12L164.86 -5.62L164.73 -6.5L164.48 -7L164.36 -7.88L164.1 -8.38L163.98 -9.25L163.85 -9.38L163.73 -10.12L163.6 -10.25L163.73 -10.38L164.99 -10.38L165.11 -10.5L165.36 -10.5L165.62 -10.75L165.62 -11L165.74 -11.12L165.62 -11.25L165.62 -11.5L165.36 -11.75L165.11 -11.75L164.99 -11.88L159.44 -11.88L159.32 -11.75L159.07 -11.75L158.81 -11.5L158.81 -11.25ZM143.32 -11.88L143.2 -11.75L142.82 -11.75L141.56 -11.12L140.93 -10.62L140.55 -11L139.04 -11.75L138.66 -11.75L138.54 -11.88L137.03 -11.88L136.9 -11.75L136.4 -11.75L135.14 -11.12L134 -10.12L133 -8L133 -6.38L133.12 -6.25L133.12 -5.88L133.63 -4.88L133.12 -4.38L132.62 -3.25L132.24 -2.75L132.37 -2.62L132.24 -2.38L132.24 -1.62L132.37 -1.38L132.24 -1.25L132.87 0L132.24 0.5L131.36 2.38L131.36 3.12L131.74 3.88L131.74 4.12L132.24 5.12L132.37 5.12L132.74 5.5L133.63 5.75L133.75 5.88L134 5.88L134.13 6L134.38 6L134.51 6.12L134.76 6.12L134.89 6.25L135.26 6.25L135.39 6.38L140.18 6.38L140.3 6.25L140.68 6.25L140.8 6.12L142.57 5.62L143.32 5L144.08 3.5L143.95 3.38L144.08 3.12L144.08 2.38L143.95 2.12L144.08 2L143.45 0.75L142.95 0.12L142.06 -0.12L141.94 -0.25L141.69 -0.25L141.56 -0.38L141.31 -0.38L141.18 -0.5L140.93 -0.5L140.8 -0.62L140.55 -0.62L140.43 -0.75L140.3 -0.62L140.18 -0.75L136.14 -0.75L136.02 -0.88L134.26 -1.38L133.75 -1.88L133.75 -2.25L134.51 -3.62L134.89 -3.5L135.01 -3.25L136.52 -2.5L136.9 -2.5L137.03 -2.38L138.54 -2.38L140.05 -3.12L140.55 -3.25L140.55 -3.38L140.8 -3.5L141.69 -4.38L142.44 -5.88L142.44 -6.25L142.57 -6.38L142.57 -8L141.94 -9.38L142.19 -9.62L143.32 -9.62L143.45 -9.75L143.7 -9.75L143.95 -10L143.95 -10.25L144.08 -10.38L144.08 -11.12L143.95 -11.25L143.95 -11.5L143.7 -11.75L143.45 -11.75ZM132.87 2.62L133.37 1.62L133.63 1.38L134.13 1.25L134.26 1.12L134.89 1.12L135.77 1.5L136.02 1.38L136.14 1.5L140.05 1.5L140.18 1.62L140.43 1.62L140.55 1.75L140.8 1.75L140.93 1.88L141.18 1.88L141.31 2L142.19 2.25L142.57 2.62L142.57 3.12L142.19 3.88L141.81 4.25L141.56 4.25L141.43 4.38L141.18 4.38L141.06 4.5L140.8 4.5L139.92 4.88L135.64 4.88L135.52 4.75L133.75 4.25L133.25 3.75L132.87 3ZM137.15 -10.38L138.54 -10.38L139.29 -10L139.8 -9.5L140.18 -8.75L140.18 -5.62L139.67 -4.62L139.42 -4.38L138.41 -3.88L137.28 -3.88L136.02 -4.5L135.77 -4.75L135.26 -5.75L135.26 -8.5L135.77 -9.5L136.14 -9.88ZM113.85 -11.5L113.85 -11.25L113.73 -11.12L113.85 -11L113.85 -10.75L114.1 -10.5L114.36 -10.5L114.48 -10.38L116.12 -10.38L116.25 -10.25L116.25 -0.88L116.12 -0.75L114.48 -0.75L114.36 -0.62L114.1 -0.62L113.85 -0.38L113.85 -0.12L113.73 0L113.85 0.12L113.85 0.38L114.1 0.62L114.36 0.62L114.48 0.75L120.15 0.75L120.28 0.62L120.53 0.62L120.78 0.38L120.78 0.12L120.91 0L120.78 -0.12L120.78 -0.38L120.53 -0.62L120.28 -0.62L120.15 -0.75L118.64 -0.75L118.51 -0.88L118.51 -8.38L119.9 -9.75L120.15 -9.75L120.28 -9.88L120.53 -9.88L120.65 -10L120.91 -10L121.79 -10.38L123.3 -10.38L124.31 -9.88L125.06 -8.5L125.06 -0.88L124.94 -0.75L123.3 -0.75L123.17 -0.62L122.92 -0.62L122.67 -0.38L122.67 -0.12L122.54 0L122.67 0.12L122.67 0.38L122.92 0.62L123.17 0.62L123.3 0.75L128.97 0.75L129.09 0.62L129.34 0.62L129.6 0.38L129.6 0.12L129.72 0L129.6 -0.12L129.6 -0.38L129.34 -0.62L129.09 -0.62L128.97 -0.75L127.45 -0.75L127.33 -0.88L127.33 -8.75L127.2 -8.88L127.2 -9.25L126.83 -10L126.57 -10.25L126.45 -10.75L126.2 -11L125.94 -11L125.82 -11.12L125.57 -11.12L125.44 -11.25L125.19 -11.25L125.06 -11.38L124.81 -11.38L124.68 -11.5L124.43 -11.5L123.55 -11.88L123.42 -11.75L123.3 -11.88L121.79 -11.88L121.66 -11.75L121.54 -11.88L121.41 -11.75L121.16 -11.75L121.03 -11.62L119.27 -11.12L118.64 -10.75L118.51 -10.88L118.39 -11.5L118.13 -11.75L117.88 -11.75L117.76 -11.88L114.48 -11.88L114.36 -11.75L114.1 -11.75ZM103.9 -11.88L103.78 -11.75L103.53 -11.75L103.4 -11.62L103.15 -11.62L103.02 -11.5L102.77 -11.5L102.64 -11.38L102.39 -11.38L102.27 -11.25L102.01 -11.25L101.13 -10.88L99.62 -9.38L99.62 -9.25L99.37 -9L99.37 -8.75L99.24 -8.62L99.24 -8.38L99.12 -8.25L99.12 -8L98.99 -7.88L98.99 -7.62L98.61 -6.75L98.74 -6.5L98.61 -6.38L98.61 -4.75L98.74 -4.62L98.61 -4.38L98.74 -4.25L98.74 -4L98.87 -3.88L99.37 -2.12L101.01 -0.5L101.13 -0.25L101.64 0L101.89 0L102.01 0.12L103.78 0.62L103.9 0.75L104.03 0.62L104.16 0.75L105.92 0.75L106.04 0.62L106.3 0.62L106.42 0.5L106.67 0.5L106.8 0.38L108.56 -0.12L110.33 -1.88L110.58 -2.38L111.08 -4.12L111.21 -4.25L111.21 -4.62L111.33 -4.75L111.33 -6.38L111.21 -6.5L111.21 -6.88L111.08 -7L111.08 -7.25L110.96 -7.38L110.96 -7.62L110.83 -7.75L110.83 -8L110.7 -8.12L110.7 -8.38L110.33 -9.25L108.56 -11L108.31 -11L108.19 -11.12L107.93 -11.12L107.81 -11.25L107.56 -11.25L107.43 -11.38L107.18 -11.38L107.05 -11.5L106.8 -11.5L105.92 -11.88L104.16 -11.88L104.03 -11.75ZM104.28 -10.38L105.67 -10.38L106.67 -9.88L108.31 -8.25L108.56 -7.38L108.69 -7.25L108.69 -7L108.82 -6.88L108.82 -6.62L108.94 -6.5L108.94 -4.62L108.82 -4.5L108.31 -2.75L106.67 -1.25L105.67 -0.75L104.28 -0.75L103.02 -1.38L101.51 -2.88L101.51 -3.12L101.38 -3.25L101.38 -3.5L101.26 -3.62L101.26 -3.88L100.88 -4.75L100.88 -6.38L101.01 -6.5L101.51 -8.25L103.02 -9.75ZM84.51 -11.75L84.26 -11.5L84.26 -11.25L84.13 -11.12L84.26 -11L84.26 -10.75L84.51 -10.5L84.76 -10.5L84.89 -10.38L86.4 -10.38L86.52 -10.25L86.52 -0.88L86.4 -0.75L84.89 -0.75L84.76 -0.62L84.51 -0.62L84.26 -0.38L84.26 -0.12L84.13 0L84.26 0.12L84.26 0.38L84.51 0.62L84.76 0.62L84.89 0.75L90.55 0.75L90.68 0.62L90.93 0.62L91.18 0.38L91.18 0.12L91.31 0L91.18 -0.12L91.18 -0.38L90.93 -0.62L90.68 -0.62L90.55 -0.75L89.04 -0.75L88.92 -0.88L88.92 -6.5L89.04 -6.62L89.55 -8.25L91.18 -9.88L92.19 -10.38L93.2 -10.38L93.32 -10.25L92.95 -9.5L93.07 -9.38L93.07 -9.12L94.08 -8.12L94.33 -8.12L94.46 -8L94.58 -8.12L94.84 -8.12L95.09 -8.25L95.97 -9.12L95.97 -9.38L96.09 -9.5L96.09 -10.38L95.97 -10.5L95.97 -10.75L95.09 -11.62L94.58 -11.75L94.46 -11.88L92.06 -11.88L91.94 -11.75L91.56 -11.75L90.3 -11.12L89.04 -10L88.92 -10.12L88.92 -11.12L88.79 -11.25L88.79 -11.5L88.54 -11.75L88.29 -11.75L88.16 -11.88L84.89 -11.88L84.76 -11.75ZM61.96 -11.75L60.45 -11L59.57 -10.12L59.45 -9.62L59.32 -9.5L59.32 -8L59.45 -7.88L59.57 -7.38L60.45 -6.5L62.22 -5.62L62.47 -5.62L62.85 -5.38L63.1 -5.38L63.48 -5.12L63.73 -5.12L64.11 -4.88L64.36 -4.88L64.73 -4.62L65.62 -4.38L67.63 -3.38L68.14 -2.88L68.14 -1.88L67.38 -1.25L66.37 -0.75L63.35 -0.75L62.34 -1.25L61.33 -2.25L60.83 -3.38L60.45 -3.75L60.2 -3.75L60.08 -3.88L59.95 -3.75L59.7 -3.75L59.45 -3.5L59.45 -3.25L59.32 -3.12L59.32 0L59.45 0.12L59.45 0.38L59.7 0.62L59.95 0.62L60.08 0.75L60.2 0.62L60.45 0.62L60.83 0.25L60.96 -0.12L61.21 -0.25L61.46 0L62.72 0.62L63.1 0.62L63.22 0.75L66.5 0.75L66.62 0.62L67 0.62L68.51 -0.12L69.39 -1L69.52 -1.5L69.65 -1.62L69.65 -4L69.52 -4.12L69.52 -4.38L68.39 -5.5L66.88 -6.25L66.62 -6.25L66.25 -6.5L65.99 -6.5L65.62 -6.75L65.36 -6.75L64.99 -7L64.73 -7L64.36 -7.25L63.48 -7.5L62.34 -8.12L62.09 -8.12L61.21 -8.62L60.83 -9L60.83 -9.12L61.59 -9.88L62.59 -10.38L65.62 -10.38L66.62 -9.88L67.63 -8.88L68.14 -7.75L68.51 -7.38L68.77 -7.38L68.89 -7.25L69.02 -7.38L69.27 -7.38L69.52 -7.62L69.52 -7.88L69.65 -8L69.65 -11.12L69.52 -11.25L69.52 -11.5L69.27 -11.75L69.02 -11.75L68.89 -11.88L68.77 -11.75L68.51 -11.75L68.14 -11.38L68.01 -11L67.76 -10.88L65.74 -11.88L62.47 -11.88L62.34 -11.75ZM213.85 -17.5L213.73 -17.38L213.47 -17.38L213.22 -17.12L213.22 -16.88L213.1 -16.75L213.22 -16.62L213.22 -16.38L213.47 -16.12L213.73 -16.12L213.85 -16L215.36 -16L215.49 -15.88L215.49 -10.88L215.36 -10.75L213.1 -11.88L211.46 -11.88L211.33 -11.75L211.21 -11.88L211.08 -11.75L210.83 -11.75L210.7 -11.62L210.45 -11.62L210.33 -11.5L210.07 -11.5L209.95 -11.38L209.7 -11.38L209.57 -11.25L208.69 -11L206.8 -9.12L206.67 -8.88L206.67 -8.62L206.55 -8.5L206.55 -8.25L206.42 -8.12L206.42 -7.88L206.3 -7.75L206.3 -7.5L205.92 -6.62L206.04 -6.5L205.92 -6.38L205.92 -4.75L206.04 -4.62L205.92 -4.5L206.04 -4.38L206.04 -4.12L206.17 -4L206.17 -3.75L206.3 -3.62L206.3 -3.38L206.42 -3.25L206.42 -3L206.55 -2.88L206.8 -2L208.69 -0.12L208.94 0L209.19 0L209.32 0.12L209.57 0.12L209.7 0.25L209.95 0.25L210.07 0.38L210.33 0.38L211.21 0.75L211.33 0.62L211.46 0.75L213.1 0.75L215.36 -0.38L215.49 -0.25L215.62 0.38L215.87 0.62L216.12 0.62L216.24 0.75L219.52 0.75L219.65 0.62L219.9 0.62L220.15 0.38L220.15 0.12L220.28 0L220.15 -0.12L220.15 -0.38L219.9 -0.62L219.65 -0.62L219.52 -0.75L218.01 -0.75L217.88 -0.88L217.88 -16.75L217.76 -16.88L217.76 -17.12L217.5 -17.38L217.25 -17.38L217.13 -17.5ZM211.58 -10.38L212.97 -10.38L213.98 -9.88L215.49 -8.38L215.49 -2.62L213.98 -1.25L212.97 -0.75L211.58 -0.75L210.2 -1.5L208.94 -2.75L208.69 -3.62L208.56 -3.75L208.56 -4L208.44 -4.12L208.44 -4.38L208.31 -4.5L208.31 -4.75L208.18 -4.88L208.18 -6.25L208.31 -6.38L208.81 -8.12L210.58 -9.88ZM181.86 -17.5L181.74 -17.38L181.23 -17.25L180.48 -16.5L180.35 -16L180.22 -15.88L180.35 -15.75L180.35 -15.5L181.23 -14.62L181.74 -14.5L181.86 -14.38L181.99 -14.5L182.24 -14.5L183.25 -15.5L183.25 -15.75L183.37 -15.88L183.25 -16L183.12 -16.5L182.24 -17.38L181.99 -17.38ZM75.31 -17.5L75.19 -17.38L74.94 -17.38L74.68 -17.12L74.68 -16.88L74.56 -16.75L74.56 -12L74.43 -11.88L72.92 -11.88L72.8 -11.75L72.54 -11.75L72.29 -11.5L72.29 -11.25L72.17 -11.12L72.29 -11L72.29 -10.75L72.54 -10.5L72.8 -10.5L72.92 -10.38L74.43 -10.38L74.56 -10.25L74.56 -2.88L74.68 -2.75L74.68 -2.5L74.81 -2.38L74.81 -2.12L74.94 -2L74.94 -1.75L75.06 -1.62L75.06 -1.38L75.19 -1.25L75.44 -0.38L75.69 -0.12L77.2 0.62L77.58 0.62L77.71 0.75L79.34 0.75L81.23 -0.12L81.74 -0.62L82.37 -1.88L82.37 -2.25L82.49 -2.38L82.37 -2.5L82.37 -2.75L82.12 -3L81.86 -3L81.74 -3.12L81.61 -3L81.36 -3L81.11 -2.75L80.98 -2.75L80.35 -1.38L79.22 -0.75L78.08 -0.75L77.46 -1.38L77.46 -1.62L77.33 -1.75L77.33 -2L77.2 -2.12L77.2 -2.38L76.83 -3.25L76.83 -10.25L76.95 -10.38L79.34 -10.38L79.47 -10.5L79.72 -10.5L79.97 -10.75L79.97 -11L80.1 -11.12L79.97 -11.25L79.97 -11.5L79.72 -11.75L79.47 -11.75L79.34 -11.88L76.95 -11.88L76.83 -12L76.83 -16.75L76.7 -16.88L76.7 -17.12L76.45 -17.38L76.2 -17.38L76.07 -17.5L75.94 -17.38L75.44 -17.38ZM21.28 -17.38L21.03 -17.12L20.78 -16.62L20.78 -16.12L20.65 -16L20.65 -15.5L20.53 -15.38L20.53 -14.88L20.4 -14.75L20.4 -14.25L20.28 -14.12L20.28 -13.62L20.15 -13.5L20.15 -13L20.02 -12.88L20.02 -12.38L19.9 -12.25L19.9 -11.75L19.77 -11.62L19.77 -11.12L19.65 -11L19.65 -10.5L19.52 -10.38L19.52 -9.88L19.4 -9.75L19.4 -9.25L19.27 -9.12L19.4 -8.38L19.65 -8.12L19.9 -8.12L20.02 -8L20.15 -8.12L20.4 -8.12L20.65 -8.25L22.17 -9.75L22.42 -9.75L22.54 -9.88L22.8 -9.88L22.92 -10L23.17 -10L24.06 -10.38L26.32 -10.38L27.33 -9.88L29.09 -8.12L29.09 -7.88L29.22 -7.75L29.22 -7.5L29.34 -7.38L29.34 -7.12L29.72 -6.25L29.72 -4.88L29.6 -4.75L29.6 -4.5L29.47 -4.38L29.47 -4.12L29.34 -4L29.34 -3.75L29.22 -3.62L28.97 -2.75L27.83 -1.62L27.71 -1.62L27.33 -1.25L26.32 -0.75L24.06 -0.75L23.93 -0.88L22.17 -1.38L21.28 -2.25L21.16 -2.5L21.41 -2.62L21.54 -2.88L22.29 -3.62L22.29 -3.88L22.42 -4L22.29 -4.12L22.29 -4.38L21.41 -5.25L20.91 -5.38L20.78 -5.5L20.65 -5.38L20.4 -5.38L19.4 -4.38L19.4 -4.12L19.27 -4L19.27 -3.12L19.4 -3L19.4 -2.75L20.28 -1L21.03 -0.25L21.54 0L21.79 0L21.91 0.12L23.68 0.62L23.8 0.75L23.93 0.62L24.06 0.75L26.45 0.75L26.57 0.62L26.7 0.75L26.83 0.62L27.08 0.62L27.2 0.5L29.22 -0.12L31.11 -2L31.36 -2.88L31.49 -3L31.49 -3.25L31.61 -3.38L31.61 -3.62L31.74 -3.75L31.74 -4L31.86 -4.12L31.86 -4.38L31.99 -4.5L31.86 -4.62L31.99 -4.75L31.99 -6.38L31.86 -6.5L31.99 -6.62L31.86 -6.75L31.86 -7L31.74 -7.12L31.74 -7.38L31.61 -7.5L31.61 -7.75L31.49 -7.88L31.49 -8.12L31.36 -8.25L31.11 -9.12L29.22 -11L28.34 -11.25L28.21 -11.38L27.96 -11.38L27.83 -11.5L27.58 -11.5L27.46 -11.62L27.2 -11.62L27.08 -11.75L26.83 -11.75L26.7 -11.88L26.57 -11.75L26.45 -11.88L24.06 -11.88L23.93 -11.75L23.8 -11.88L23.68 -11.75L23.43 -11.75L23.3 -11.62L23.05 -11.62L22.92 -11.5L22.67 -11.5L22.54 -11.38L22.29 -11.38L21.41 -11L21.28 -11.12L21.28 -11.38L21.41 -11.5L21.41 -12L21.54 -12.12L21.54 -12.62L21.66 -12.75L21.66 -13.25L21.79 -13.38L21.91 -14.5L22.04 -14.62L22.04 -15L22.17 -15.12L25.82 -15.12L25.94 -15.25L26.45 -15.25L26.57 -15.38L27.08 -15.38L27.2 -15.5L27.71 -15.5L27.83 -15.62L28.34 -15.62L28.46 -15.75L29.6 -15.88L30.23 -16.38L30.23 -16.62L30.35 -16.75L30.23 -16.88L30.23 -17.12L29.97 -17.38L29.72 -17.38L29.6 -17.5L21.66 -17.5L21.54 -17.38ZM5.67 -16.75L5.04 -16.38L3.53 -14.88L3.53 -14.75L3.27 -14.62L2.39 -12.75L2.39 -12.38L2.27 -12.25L2.27 -11.88L2.14 -11.75L2.14 -11.38L2.02 -11.25L2.02 -10.88L1.89 -10.75L1.89 -10.38L1.76 -10.25L1.76 -9.88L1.64 -9.75L1.76 -9.62L1.64 -9.5L1.64 -7L1.76 -6.88L1.76 -6.38L1.89 -6.25L1.89 -5.88L2.02 -5.75L2.02 -5.38L2.14 -5.25L2.39 -3.88L2.9 -3L2.9 -2.75L3.27 -2L3.4 -2L5.04 -0.25L5.54 0L5.79 0L5.92 0.12L7.68 0.62L7.81 0.75L7.93 0.62L8.06 0.75L9.57 0.75L9.7 0.62L9.82 0.75L10.71 0.38L10.96 0.75L10.96 1.5L11.08 1.62L11.21 3.25L11.46 3.75L12.22 4.5L12.72 4.62L12.85 4.75L14.36 4.75L14.48 4.62L14.74 4.62L15.24 4.12L15.87 2.88L15.87 2.5L15.99 2.38L15.99 1.62L15.87 1.5L15.87 1.25L15.62 1L15.37 1L15.24 0.88L15.11 1L14.86 1L14.61 1.25L14.48 2L14.11 2.38L13.85 2.38L13.48 2L13.35 1.62L13.1 1.38L12.72 0.62L12.59 -0.25L14.36 -2.12L15.24 -3.88L15.24 -4.25L15.37 -4.38L15.37 -4.75L15.49 -4.88L15.49 -5.38L15.62 -5.5L15.62 -5.88L15.74 -6L15.74 -6.38L15.87 -6.5L15.87 -6.88L15.99 -7L15.99 -9.5L15.87 -9.62L15.99 -9.75L15.87 -9.88L15.87 -10.25L15.74 -10.38L15.74 -10.75L15.62 -10.88L15.62 -11.25L15.49 -11.38L15.24 -12.75L14.11 -14.88L12.59 -16.38L11.96 -16.75L11.71 -16.75L11.59 -16.88L11.33 -16.88L11.21 -17L10.96 -17L10.08 -17.38L9.7 -17.38L9.57 -17.5L8.06 -17.5L7.93 -17.38L7.56 -17.38L7.43 -17.25ZM6.42 -2.38L6.8 -3.12L7.18 -3.5L8.19 -4L8.69 -4L9.7 -3.5L9.95 -3.25L10.45 -2.25L10.45 -2L10.58 -1.88L10.58 -1.38L10.33 -1.12L9.57 -0.75L8.19 -0.75L6.93 -1.38L6.42 -1.88ZM8.31 -16L9.45 -16L10.71 -15.38L12.22 -13.88L12.97 -12.38L12.97 -12L13.1 -11.88L13.1 -11.5L13.22 -11.38L13.22 -11L13.35 -10.88L13.35 -10.5L13.48 -10.38L13.48 -10L13.6 -9.88L13.6 -6.88L13.48 -6.75L13.48 -6.38L13.35 -6.25L13.35 -5.88L13.22 -5.75L13.22 -5.38L13.1 -5.25L13.1 -4.88L12.97 -4.75L12.85 -4L12.47 -3.25L11.96 -2.62L11.08 -4.38L10.71 -4.75L9.19 -5.5L9.07 -5.38L8.82 -5.5L8.06 -5.5L7.81 -5.38L7.68 -5.5L6.17 -4.75L5.79 -4.38L5.42 -3.62L5.16 -3.38L4.66 -4.38L4.66 -4.75L4.53 -4.88L4.53 -5.25L4.41 -5.38L4.41 -5.75L4.28 -5.88L4.28 -6.25L4.16 -6.38L4.16 -6.75L4.03 -6.88L4.03 -7.25L3.9 -7.38L3.9 -9.38L4.03 -9.5L4.03 -9.88L4.16 -10L4.16 -10.38L4.28 -10.5L4.28 -10.88L4.41 -11L4.66 -12.38L5.42 -13.88L6.8 -15.25ZM223.42 -20.62L223.3 -20.5L223.05 -20.5L222.79 -20.25L222.79 -20L222.67 -19.88L222.79 -19.75L222.79 -19.5L224.56 -17.75L226.07 -14.75L226.07 -14.5L226.19 -14.38L226.19 -14.12L226.32 -14L226.32 -13.75L226.45 -13.62L226.45 -13.38L226.82 -12.5L226.82 -12L226.95 -11.88L226.95 -11.38L227.08 -11.25L227.08 -10.75L227.2 -10.62L227.2 -10.12L227.33 -10L227.33 -9.5L227.45 -9.38L227.45 -8.88L227.58 -8.75L227.58 -5.62L227.45 -5.5L227.45 -5L227.33 -4.88L227.33 -4.38L227.2 -4.25L227.2 -3.75L227.08 -3.62L227.08 -3.12L226.95 -3L226.82 -1.88L226.7 -1.75L226.7 -1.5L226.57 -1.38L226.07 0.38L224.43 3.62L223.68 4.38L223.55 4.38L222.79 5.25L222.79 5.5L222.67 5.62L222.79 5.75L222.79 6L223.05 6.25L223.3 6.25L223.42 6.38L223.55 6.25L224.05 6.12L225.06 5.12L225.06 5L225.94 4.12L225.94 4L227.2 2.25L229.09 -1.5L229.09 -2L229.22 -2.12L229.22 -2.62L229.34 -2.75L229.34 -3.25L229.47 -3.38L229.47 -3.88L229.59 -4L229.59 -4.5L229.72 -4.62L229.72 -5.12L229.85 -5.25L229.72 -5.5L229.85 -5.62L229.85 -9L229.72 -9.12L229.72 -9.62L229.59 -9.75L229.59 -10.25L229.47 -10.38L229.47 -10.88L229.34 -11L229.34 -11.5L229.22 -11.62L229.22 -12.12L229.09 -12.25L229.09 -12.75L228.97 -12.88L228.97 -13.12L227.2 -16.62L226.95 -16.88L226.45 -17.75L226.07 -18.12L225.82 -18.62L224.05 -20.38L223.55 -20.5ZM55.29 -20.62L55.16 -20.5L54.91 -20.5L54.53 -20.12L54.41 -20.12L52.9 -18.62L52.9 -18.5L51.38 -16.38L51.38 -16.12L49.75 -13L49.75 -12.75L49.62 -12.62L49.62 -12.12L49.5 -12L49.5 -11.5L49.37 -11.38L49.37 -10.88L49.24 -10.75L49.24 -10.25L49.12 -10.12L49.12 -9.62L48.99 -9.5L48.99 -9L48.87 -8.88L48.87 -5.62L48.99 -5.5L48.87 -5.38L48.99 -5.25L48.99 -4.75L49.12 -4.62L49.12 -4.12L49.24 -4L49.24 -3.5L49.37 -3.38L49.37 -2.88L49.5 -2.75L49.62 -1.62L49.87 -1.38L49.75 -1.25L51.38 2L51.64 2.25L52.9 4.25L54.91 6.25L55.16 6.25L55.29 6.38L55.42 6.25L55.67 6.25L55.92 6L55.92 5.75L56.04 5.62L55.92 5.5L55.92 5.25L55.79 5L54.66 3.88L54.53 3.88L54.28 3.62L52.77 0.62L52.77 0.38L52.64 0.25L52.64 0L52.52 -0.12L52.52 -0.38L52.39 -0.5L52.39 -0.75L52.01 -1.62L51.89 -2.62L51.76 -2.75L51.76 -3.25L51.64 -3.38L51.64 -3.88L51.51 -4L51.51 -4.5L51.38 -4.62L51.38 -5.12L51.26 -5.25L51.26 -9.12L51.38 -9.25L51.38 -9.75L51.51 -9.88L51.51 -10.38L51.64 -10.5L51.64 -11L51.76 -11.12L51.76 -11.62L51.89 -11.75L52.01 -12.75L52.14 -12.88L52.64 -14.62L54.28 -17.88L55.92 -19.5L55.92 -19.75L56.04 -19.88L55.92 -20L55.92 -20.25L55.67 -20.5L55.42 -20.5Z"/>
<path transform="translate(29.6 486.64) rotate(-90)" fill="#000" fill-rule="evenodd" d="M36.65 -11.62L34.89 -10.75L34.13 -10L33.25 -8.38L33.25 -8.12L33.12 -8L33.12 -6.38L33.75 -4.88L33.25 -4.38L32.37 -2.62L32.49 -2.5L32.37 -2.38L32.37 -1.62L32.49 -1.5L32.37 -1.38L33.12 0.12L33 0.25L32.75 0.25L32.37 0.62L32.12 1.25L31.86 1.5L31.49 2.38L31.49 3.12L32.37 5L32.49 5L32.62 5.25L32.87 5.38L33.12 5.38L33.25 5.5L33.5 5.5L33.63 5.62L33.88 5.62L34.76 6L35.14 6L35.26 6.12L40.05 6.12L40.18 6L40.43 6L40.55 5.88L42.32 5.38L42.95 5L43.7 3.5L43.58 3.25L43.7 3.12L43.7 2.38L43.58 2.25L43.7 2.12L42.95 0.62L42.44 0.25L42.19 0.25L42.07 0.12L41.81 0.12L41.69 0L41.44 0L41.31 -0.12L41.06 -0.12L40.18 -0.5L35.89 -0.5L35.77 -0.62L35.52 -0.62L35.39 -0.75L35.14 -0.75L35.01 -0.88L34.13 -1.12L33.38 -1.88L33.38 -2.38L34 -3.62L34.38 -4L34.51 -4L35.01 -3.5L36.9 -2.62L38.41 -2.62L40.3 -3.5L41.31 -4.5L42.19 -6.38L42.19 -8L41.44 -9.38L41.94 -9.88L43.2 -9.88L43.45 -10L43.7 -10.38L43.7 -11.12L43.45 -11.5L43.07 -11.62L41.31 -10.75L40.93 -10.38L40.81 -10.38L40.43 -10.75L38.66 -11.62L38.54 -11.5L38.41 -11.62L36.9 -11.62L36.78 -11.5ZM32.49 2.5L33.25 1.12L33.5 1.12L33.63 1L34.51 0.75L34.63 0.88L34.89 0.88L35.77 1.25L40.05 1.25L40.18 1.38L40.43 1.38L40.55 1.5L40.81 1.5L40.93 1.62L41.18 1.62L41.56 1.88L42.07 2L42.69 2.62L42.69 3.25L42.07 4.38L41.18 4.62L41.06 4.75L40.81 4.75L40.68 4.88L40.43 4.88L40.3 5L40.05 5L39.92 5.12L35.39 5.12L35.26 5L35.01 5L34.89 4.88L34.63 4.88L34.51 4.75L34.26 4.75L34.13 4.62L33.25 4.38L32.49 3ZM36.9 -10.62L38.29 -10.62L39.55 -10L39.8 -9.75L40.3 -8.75L40.3 -5.5L39.92 -4.75L39.42 -4.25L38.16 -3.62L37.03 -3.62L35.77 -4.25L35.52 -4.5L34.89 -5.75L34.89 -8.5L35.26 -9.12L35.26 -9.38L35.52 -9.88ZM21.41 -11.62L21.28 -11.5L21.03 -11.5L20.91 -11.38L20.65 -11.38L20.53 -11.25L20.28 -11.25L20.15 -11.12L19.9 -11.12L19.77 -11L18.89 -10.75L17.25 -9.12L17 -8.62L16.5 -6.88L16.37 -6.75L16.37 -4.38L16.5 -4.25L16.5 -4L16.62 -3.88L16.62 -3.62L16.75 -3.5L16.75 -3.25L16.88 -3.12L16.88 -2.88L17.25 -2L18.77 -0.5L18.89 -0.5L19.14 -0.25L19.4 -0.25L19.52 -0.12L19.77 -0.12L19.9 0L20.15 0L20.28 0.12L20.53 0.12L21.41 0.5L21.54 0.38L21.66 0.5L23.17 0.5L23.3 0.38L23.43 0.5L23.55 0.38L23.8 0.38L23.93 0.25L24.18 0.25L24.31 0.12L24.56 0.12L24.68 0L24.94 0L25.06 -0.12L25.94 -0.38L27.58 -2L27.83 -2.5L27.83 -2.75L27.96 -2.88L28.46 -4.62L28.59 -4.75L28.59 -6.38L28.46 -6.5L28.46 -6.75L28.34 -6.88L28.34 -7.12L28.21 -7.25L28.21 -7.5L28.09 -7.62L28.09 -7.88L27.96 -8L27.96 -8.25L27.58 -9.12L25.82 -10.88L25.57 -10.88L25.44 -11L25.19 -11L25.06 -11.12L24.81 -11.12L24.68 -11.25L24.43 -11.25L23.55 -11.62L23.3 -11.5L23.17 -11.62L21.66 -11.62L21.54 -11.5ZM21.66 -10.62L23.17 -10.62L24.43 -10L26.07 -8.38L26.07 -8.12L26.2 -8L26.2 -7.75L26.32 -7.62L26.32 -7.38L26.7 -6.5L26.7 -4.62L26.57 -4.5L26.07 -2.75L24.43 -1.12L23.17 -0.5L21.66 -0.5L20.4 -1.12L18.77 -2.75L18.77 -3L18.64 -3.12L18.64 -3.38L18.51 -3.5L18.51 -3.75L18.14 -4.62L18.14 -6.5L18.26 -6.62L18.77 -8.38L20.4 -10ZM1.39 -17.12L1.13 -16.75L1.26 -16.5L1.64 -16.25L3.4 -16.25L3.53 -16.12L3.53 -0.62L3.4 -0.5L1.64 -0.5L1.26 -0.25L1.13 0L1.26 0.25L1.64 0.5L13.6 0.5L13.85 0.38L14.11 0L14.11 -4.75L13.98 -5L13.6 -5.25L13.1 -4.88L12.97 -3.62L12.85 -3.5L12.72 -2.25L12.59 -2.12L12.59 -1.5L12.47 -1.38L12.47 -0.75L12.22 -0.5L5.42 -0.5L5.29 -0.62L5.29 -16.12L5.42 -16.25L7.18 -16.25L7.43 -16.38L7.68 -16.75L7.56 -17L7.18 -17.25L1.64 -17.25Z"/>
<path transform="translate(18.1 423.19) rotate(-90)" fill="#000" fill-rule="evenodd" d="M18.14 -17.12L17.88 -16.75L18.01 -16.5L18.39 -16.25L20.15 -16.25L20.28 -16.12L20.28 -0.62L20.15 -0.5L18.39 -0.5L18.01 -0.25L17.88 0L18.01 0.25L18.39 0.5L23.17 0.5L23.43 0.38L23.68 0L23.55 -0.25L23.17 -0.5L21.41 -0.5L21.28 -0.62L21.28 -14.38L21.41 -14.5L22.29 -13.25L22.42 -12.88L22.92 -12.25L23.05 -11.88L23.8 -10.88L23.93 -10.5L24.43 -9.88L24.56 -9.5L25.31 -8.5L25.44 -8.12L25.94 -7.5L26.07 -7.12L26.57 -6.5L26.7 -6.12L27.46 -5.12L27.58 -4.75L28.09 -4.12L28.21 -3.75L28.97 -2.75L29.09 -2.38L29.6 -1.75L29.72 -1.38L30.48 -0.38L30.6 0L31.23 0.5L31.49 0.38L31.74 0L31.74 -16.12L31.86 -16.25L33.63 -16.25L34 -16.5L34.13 -16.75L34 -17L33.63 -17.25L28.84 -17.25L28.59 -17.12L28.34 -16.75L28.46 -16.5L28.84 -16.25L30.6 -16.25L30.73 -16.12L30.73 -3.75L30.6 -3.62L29.47 -5.25L29.34 -5.62L27.96 -7.62L27.83 -8L26.45 -10L26.32 -10.38L24.94 -12.38L24.81 -12.75L24.31 -13.38L24.18 -13.75L23.43 -14.75L23.3 -15.12L22.8 -15.75L22.67 -16.12L22.42 -16.38L22.17 -16.88L21.66 -17.25L18.39 -17.25ZM21.28 -15.88L21.41 -16L21.66 -15.62L21.41 -15.5L21.28 -15.62ZM9.57 -17.25L9.32 -17.12L9.07 -16.75L9.32 -16.38L9.57 -16.25L11.33 -16.25L11.46 -16.12L11.46 -10.38L11.33 -10.25L10.83 -10.75L9.07 -11.62L8.94 -11.5L8.82 -11.62L6.93 -11.62L6.55 -11.38L6.3 -11.38L6.17 -11.25L4.41 -10.75L2.9 -9.25L2.64 -8.75L2.64 -8.5L2.52 -8.38L2.52 -8.12L2.39 -8L2.39 -7.75L2.27 -7.62L2.27 -7.38L1.89 -6.5L1.89 -4.62L2.02 -4.5L2.02 -4.25L2.14 -4.12L2.14 -3.88L2.27 -3.75L2.27 -3.5L2.39 -3.38L2.39 -3.12L2.52 -3L2.77 -2.12L4.53 -0.38L6.55 0.25L6.93 0.5L8.82 0.5L8.94 0.38L9.07 0.5L10.58 -0.25L11.33 -1L11.46 -0.88L11.46 0L11.59 0.25L11.96 0.5L15.24 0.5L15.49 0.38L15.74 0L15.49 -0.38L15.24 -0.5L13.48 -0.5L13.35 -0.62L13.35 -16.75L13.22 -17L12.85 -17.25ZM7.3 -10.62L8.69 -10.62L10.2 -9.88L11.46 -8.62L11.46 -2.5L10.2 -1.25L8.69 -0.5L7.3 -0.5L6.42 -1L6.17 -1L4.41 -2.75L4.16 -3.62L4.03 -3.75L4.03 -4L3.9 -4.12L3.9 -4.38L3.78 -4.5L3.78 -4.75L3.65 -4.88L3.65 -6.25L3.78 -6.38L3.78 -6.62L3.9 -6.75L3.9 -7L4.03 -7.12L4.03 -7.38L4.16 -7.5L4.41 -8.38L5.92 -10L6.42 -10.12Z"/>
<path transform="translate(26.4 387.83) rotate(-90)" fill="#000" fill-rule="evenodd" d="M10.76 -10.75L10.65 -10.5L10.88 -10.12L11.11 -10L11.92 -10L12.04 -9.88L12.04 -0.62L11.92 -0.5L11.11 -0.5L10.88 -0.38L10.65 0L10.88 0.38L11.11 0.5L18.06 0.5L18.29 0.38L18.52 0L18.64 0.25L18.98 0.5L21.76 0.5L21.99 0.38L22.22 0L21.99 -0.38L21.76 -0.5L20.72 -0.5L20.6 -0.62L20.6 -0.88L20.72 -1L20.72 -1.25L20.84 -1.38L20.84 -1.62L21.18 -2.5L24.65 -2.5L24.77 -2.38L25.23 -0.62L25.12 -0.5L24.54 -0.5L24.19 -0.25L24.08 0L24.19 0.25L24.54 0.5L27.32 0.5L27.66 0.25L27.78 0L27.55 -0.38L27.32 -0.5L26.74 -0.5L26.62 -0.62L26.62 -0.88L26.51 -1L26.51 -1.25L26.39 -1.38L26.39 -1.62L26.28 -1.75L26.28 -2L26.16 -2.12L26.16 -2.38L26.04 -2.5L26.04 -2.75L25.93 -2.88L25.93 -3.12L25.81 -3.25L25.81 -3.5L25.7 -3.62L25.7 -3.88L25.58 -4L25.58 -4.25L25.46 -4.38L25.46 -4.62L25.35 -4.75L25.35 -5L25.23 -5.12L25.23 -5.38L25.12 -5.5L25.12 -5.75L25 -5.88L25 -6.12L24.89 -6.25L24.89 -6.5L24.77 -6.62L24.77 -6.88L24.65 -7L24.65 -7.25L24.54 -7.38L24.54 -7.62L24.42 -7.75L24.42 -8L24.31 -8.12L24.31 -8.38L24.19 -8.5L24.19 -8.75L24.08 -8.88L23.61 -10.62L23.15 -11L22.69 -10.62L22.69 -10.38L22.57 -10.25L22.57 -10L22.46 -9.88L22.46 -9.62L22.34 -9.5L22.34 -9.25L22.22 -9.12L22.22 -8.88L22.11 -8.75L22.11 -8.5L21.99 -8.38L21.99 -8.12L21.88 -8L21.88 -7.75L21.76 -7.62L21.76 -7.38L21.65 -7.25L21.65 -7L21.53 -6.88L21.53 -6.62L21.41 -6.5L21.41 -6.25L21.3 -6.12L21.3 -5.88L21.18 -5.75L21.18 -5.5L21.07 -5.38L21.07 -5.12L20.95 -5L20.95 -4.75L20.84 -4.62L20.84 -4.38L20.72 -4.25L20.72 -4L20.6 -3.88L20.6 -3.62L20.49 -3.5L20.49 -3.25L20.37 -3.12L20.37 -2.88L20.26 -2.75L20.26 -2.5L20.14 -2.38L19.68 -0.62L19.56 -0.5L18.98 -0.5L18.64 -0.25L18.52 -0.38L18.52 -3L18.4 -3.25L18.06 -3.5L17.59 -3.12L17.59 -2.75L17.48 -2.62L17.48 -2L17.36 -1.88L17.36 -1.25L17.25 -1.12L17.25 -0.62L17.13 -0.5L13.54 -0.5L13.43 -0.62L13.43 -9.88L13.54 -10L14.35 -10L14.58 -10.12L14.82 -10.5L14.7 -10.75L14.35 -11L11.11 -11ZM22.92 -8.12L23.03 -8L23.03 -7.75L23.15 -7.62L23.15 -7.38L23.27 -7.25L23.27 -7L23.38 -6.88L23.38 -6.62L23.5 -6.5L23.5 -6.25L23.61 -6.12L23.61 -5.88L23.73 -5.75L23.73 -5.5L23.84 -5.38L23.84 -5.12L23.96 -5L23.96 -4.75L24.31 -3.88L24.31 -3.62L24.19 -3.5L21.65 -3.5L21.53 -3.62L21.53 -3.88L21.65 -4L21.65 -4.25L21.76 -4.38L21.76 -4.62L21.88 -4.75L21.88 -5L21.99 -5.12L21.99 -5.38L22.11 -5.5L22.11 -5.75L22.22 -5.88L22.22 -6.12L22.34 -6.25L22.34 -6.5L22.46 -6.62L22.46 -6.88L22.57 -7L22.57 -7.25ZM0.69 -10.88L0.46 -10.5L0.69 -10.12L0.93 -10L1.74 -10L1.85 -9.88L1.85 -0.62L1.74 -0.5L0.93 -0.5L0.69 -0.38L0.46 0L0.58 0.25L0.93 0.5L5.79 0.5L6.13 0.25L6.37 0.25L6.48 0.12L7.29 -0.12L8.33 -1.25L8.8 -2.25L8.8 -2.62L8.91 -2.75L8.91 -3L9.26 -3.88L9.26 -6.62L9.14 -6.75L9.14 -7L8.8 -7.88L8.8 -8.25L8.33 -9.25L7.29 -10.38L6.48 -10.62L6.37 -10.75L6.13 -10.75L5.79 -11L0.93 -11ZM3.36 -10L5.44 -10L6.13 -9.62L7.06 -8.62L7.64 -7.38L7.64 -7.12L7.87 -6.62L7.87 -3.88L7.76 -3.75L7.64 -3.12L7.06 -1.88L6.13 -0.88L5.44 -0.5L3.36 -0.5L3.24 -0.62L3.24 -9.88Z"/>
<line x1="29.5" y1="427.3" x2="29.5" y2="354.2" stroke="#000" stroke-width="1.1"/>
<path transform="translate(50.1 422.69) rotate(-90)" fill="#000" fill-rule="evenodd" d="M19.02 -11.5L18.77 -11.12L18.77 -8L18.89 -7.75L19.27 -7.5L19.77 -7.88L19.77 -8.25L19.9 -8.38L19.9 -8.75L20.02 -8.88L20.28 -10.25L20.53 -10.62L26.7 -10.62L26.83 -10.5L25.82 -9.25L25.82 -9.12L24.81 -8L24.43 -7.38L23.43 -6.25L23.05 -5.62L22.04 -4.5L21.66 -3.88L20.65 -2.75L20.28 -2.12L18.89 -0.5L18.77 -0.25L18.89 -0.12L18.77 0L18.89 0.25L19.27 0.5L28.84 0.5L29.09 0.38L29.34 0L29.34 -3.12L29.22 -3.38L28.84 -3.62L28.34 -3.25L28.21 -2.5L28.09 -2.38L28.09 -2L27.96 -1.88L27.96 -1.5L27.83 -1.38L27.83 -1L27.58 -0.5L21.28 -0.5L21.16 -0.75L22.17 -1.88L22.54 -2.5L23.05 -3L23.05 -3.12L24.94 -5.38L25.31 -6L26.32 -7.12L26.7 -7.75L27.71 -8.88L28.09 -9.5L29.09 -10.62L29.34 -11.12L29.22 -11.38L28.84 -11.62L19.27 -11.62ZM9.57 -17.25L9.32 -17.12L9.07 -16.75L9.32 -16.38L9.57 -16.25L11.33 -16.25L11.46 -16.12L11.46 -10.38L11.33 -10.25L10.83 -10.75L9.07 -11.62L8.94 -11.5L8.82 -11.62L6.93 -11.62L6.55 -11.38L6.3 -11.38L6.17 -11.25L4.41 -10.75L2.9 -9.25L2.64 -8.75L2.64 -8.5L2.52 -8.38L2.52 -8.12L2.39 -8L2.39 -7.75L2.27 -7.62L2.27 -7.38L1.89 -6.5L1.89 -4.62L2.02 -4.5L2.02 -4.25L2.14 -4.12L2.14 -3.88L2.27 -3.75L2.27 -3.5L2.39 -3.38L2.39 -3.12L2.52 -3L2.77 -2.12L4.53 -0.38L6.55 0.25L6.93 0.5L8.82 0.5L8.94 0.38L9.07 0.5L10.58 -0.25L11.33 -1L11.46 -0.88L11.46 0L11.59 0.25L11.96 0.5L15.24 0.5L15.49 0.38L15.74 0L15.49 -0.38L15.24 -0.5L13.48 -0.5L13.35 -0.62L13.35 -16.75L13.22 -17L12.85 -17.25ZM7.3 -10.62L8.69 -10.62L10.2 -9.88L11.46 -8.62L11.46 -2.5L10.2 -1.25L8.69 -0.5L7.3 -0.5L6.42 -1L6.17 -1L4.41 -2.75L4.16 -3.62L4.03 -3.75L4.03 -4L3.9 -4.12L3.9 -4.38L3.78 -4.5L3.78 -4.75L3.65 -4.88L3.65 -6.25L3.78 -6.38L3.78 -6.62L3.9 -6.75L3.9 -7L4.03 -7.12L4.03 -7.38L4.16 -7.5L4.41 -8.38L5.92 -10L6.42 -10.12Z"/>
<path transform="translate(29.9 349.55) rotate(-90)" fill="#000" fill-rule="evenodd" d="M13.98 -14.5L13.85 -14.25L14.11 -13.88L16.12 -12.88L16.37 -12.62L17 -12.38L17.25 -12.12L18.14 -11.75L18.39 -11.5L20.15 -10.62L20.4 -10.38L21.03 -10.12L21.28 -9.88L22.17 -9.5L22.42 -9.25L23.05 -9L23.3 -8.75L24.18 -8.38L24.43 -8.12L25.06 -7.88L25.31 -7.62L26.07 -7.25L26.07 -7.12L25.82 -6.88L24.94 -6.5L24.68 -6.25L24.06 -6L23.8 -5.75L23.17 -5.5L22.92 -5.25L22.29 -5L22.04 -4.75L21.41 -4.5L21.16 -4.25L20.53 -4L20.28 -3.75L19.4 -3.38L19.14 -3.12L18.51 -2.88L18.26 -2.62L17.38 -2.25L17.13 -2L16.5 -1.75L16.25 -1.5L14.48 -0.62L14.23 -0.38L14.11 -0.38L13.85 0L14.11 0.38L14.36 0.5L15.49 0L15.74 -0.25L17.51 -1.12L17.76 -1.38L18.39 -1.62L18.64 -1.88L19.52 -2.25L19.77 -2.5L20.4 -2.75L20.65 -3L21.54 -3.38L21.79 -3.62L22.42 -3.88L22.67 -4.12L23.55 -4.5L23.8 -4.75L24.43 -5L24.68 -5.25L25.57 -5.62L25.82 -5.88L26.45 -6.12L26.7 -6.38L27.33 -6.62L27.58 -6.88L27.71 -7.12L27.46 -7.62L27.33 -7.62L27.08 -7.88L26.2 -8.25L25.94 -8.5L25.31 -8.75L25.06 -9L23.05 -10L22.8 -10.25L21.03 -11.12L20.78 -11.38L19.02 -12.25L18.77 -12.5L17.88 -12.88L17.63 -13.12L15.87 -14L15.62 -14.25L14.61 -14.75L14.48 -14.62L14.36 -14.75ZM31.74 -17.12L31.49 -16.75L31.61 -16.5L31.99 -16.25L33.75 -16.25L33.88 -16.12L33.88 -0.62L33.75 -0.5L31.99 -0.5L31.61 -0.25L31.49 0L31.61 0.25L31.99 0.5L36.9 0.5L37.15 0.38L37.41 0L37.28 -0.25L36.9 -0.5L35.01 -0.5L34.89 -0.62L34.89 -13.12L35.01 -13.25L35.14 -13.12L35.14 -12.88L35.26 -12.75L35.26 -12.5L35.39 -12.38L35.39 -12.12L35.52 -12L35.52 -11.75L35.64 -11.62L35.64 -11.38L35.77 -11.25L35.77 -11L35.89 -10.88L35.89 -10.62L36.02 -10.5L36.02 -10.25L36.15 -10.12L36.15 -9.88L36.27 -9.75L36.27 -9.5L36.4 -9.38L36.4 -9.12L36.52 -9L36.52 -8.75L36.65 -8.62L36.65 -8.38L36.78 -8.25L36.78 -8L36.9 -7.88L36.9 -7.62L37.03 -7.5L37.03 -7.25L37.15 -7.12L37.15 -6.88L37.28 -6.75L37.28 -6.5L37.41 -6.38L37.41 -6.12L37.53 -6L37.53 -5.75L37.66 -5.62L37.66 -5.38L37.78 -5.25L37.78 -5L37.91 -4.88L37.91 -4.62L38.03 -4.5L38.03 -4.25L38.16 -4.12L38.16 -3.88L38.29 -3.75L38.29 -3.5L38.41 -3.38L38.41 -3.12L38.54 -3L38.54 -2.75L38.66 -2.62L38.66 -2.38L38.79 -2.25L38.79 -2L38.92 -1.88L39.55 0.12L40.05 0.5L40.3 0.38L40.68 -0.12L40.68 -0.38L40.81 -0.5L40.81 -0.75L40.93 -0.88L40.93 -1.12L41.06 -1.25L41.06 -1.5L41.18 -1.62L41.18 -1.88L41.31 -2L41.31 -2.25L41.44 -2.38L41.44 -2.62L41.56 -2.75L41.56 -3L41.69 -3.12L41.69 -3.38L41.81 -3.5L41.81 -3.75L41.94 -3.88L41.94 -4.12L42.07 -4.25L42.07 -4.5L42.19 -4.62L42.19 -4.88L42.32 -5L42.32 -5.25L42.44 -5.38L42.44 -5.62L42.57 -5.75L42.57 -6L42.69 -6.12L42.69 -6.38L42.82 -6.5L42.82 -6.75L42.95 -6.88L42.95 -7.12L43.07 -7.25L43.07 -7.5L43.2 -7.62L43.2 -7.88L43.32 -8L43.32 -8.25L43.45 -8.38L43.45 -8.62L43.58 -8.75L43.58 -9L43.7 -9.12L43.7 -9.38L43.83 -9.5L43.83 -9.75L43.95 -9.88L43.95 -10.12L44.08 -10.25L44.08 -10.5L44.21 -10.62L44.21 -10.88L44.33 -11L44.33 -11.25L44.46 -11.38L44.46 -11.62L44.58 -11.75L44.58 -12L44.71 -12.12L44.71 -12.38L45.09 -13.25L45.21 -13.12L45.21 -0.62L45.09 -0.5L43.2 -0.5L42.95 -0.38L42.69 0L42.82 0.25L43.2 0.5L48.87 0.5L49.12 0.38L49.37 0L49.24 -0.25L48.87 -0.5L47.1 -0.5L46.98 -0.62L46.98 -16.12L47.1 -16.25L48.87 -16.25L49.24 -16.5L49.37 -16.75L49.24 -17L48.87 -17.25L45.72 -17.25L45.09 -16.75L45.09 -16.5L44.96 -16.38L44.96 -16.12L44.84 -16L44.84 -15.75L44.71 -15.62L44.71 -15.38L44.58 -15.25L44.58 -15L44.46 -14.88L44.46 -14.62L44.33 -14.5L44.33 -14.25L44.21 -14.12L44.21 -13.88L44.08 -13.75L44.08 -13.5L43.95 -13.38L43.95 -13.12L43.83 -13L43.83 -12.75L43.7 -12.62L43.7 -12.38L43.58 -12.25L43.58 -12L43.45 -11.88L43.45 -11.62L43.32 -11.5L43.32 -11.25L43.2 -11.12L43.2 -10.88L43.07 -10.75L43.07 -10.5L42.95 -10.38L42.95 -10.12L42.82 -10L42.82 -9.75L42.69 -9.62L42.69 -9.38L42.57 -9.25L42.57 -9L42.44 -8.88L42.44 -8.62L42.32 -8.5L42.32 -8.25L42.19 -8.12L42.19 -7.88L42.07 -7.75L42.07 -7.5L41.94 -7.38L41.94 -7.12L41.81 -7L41.81 -6.75L41.69 -6.62L41.69 -6.38L41.56 -6.25L41.56 -6L41.44 -5.88L41.44 -5.62L41.31 -5.5L41.31 -5.25L41.18 -5.12L40.68 -3.38L40.43 -3L40.3 -3.12L40.3 -3.38L40.18 -3.5L40.18 -3.75L40.05 -3.88L40.05 -4.12L39.92 -4.25L39.92 -4.5L39.8 -4.62L39.8 -4.88L39.67 -5L39.67 -5.25L39.55 -5.38L39.55 -5.62L39.42 -5.75L39.42 -6L39.29 -6.12L39.29 -6.38L39.17 -6.5L39.17 -6.75L39.04 -6.88L39.04 -7.12L38.92 -7.25L38.92 -7.5L38.79 -7.62L38.79 -7.88L38.66 -8L38.66 -8.25L38.54 -8.38L38.54 -8.62L38.41 -8.75L38.41 -9L38.29 -9.12L38.29 -9.38L38.16 -9.5L38.16 -9.75L38.03 -9.88L38.03 -10.12L37.91 -10.25L37.91 -10.5L37.78 -10.62L37.78 -10.88L37.66 -11L37.66 -11.25L37.53 -11.38L37.53 -11.62L37.41 -11.75L37.41 -12L37.28 -12.12L37.28 -12.38L37.15 -12.5L37.15 -12.75L37.03 -12.88L37.03 -13.12L36.9 -13.25L36.9 -13.5L36.78 -13.62L36.78 -13.88L36.65 -14L36.65 -14.25L36.52 -14.38L36.52 -14.62L36.4 -14.75L36.4 -15L36.27 -15.12L35.77 -16.88L35.26 -17.25L31.99 -17.25ZM8.82 -20.38L8.69 -20.25L8.44 -20.25L6.8 -18.62L6.67 -18.25L6.42 -18L5.42 -16.38L5.04 -16L3.4 -12.62L3.4 -12.12L3.27 -12L3.27 -11.5L3.15 -11.38L3.15 -10.88L3.02 -10.75L3.02 -10.25L2.9 -10.12L2.9 -9.62L2.77 -9.5L2.77 -8.88L2.64 -8.75L2.64 -5.62L2.77 -5.5L2.77 -5L2.9 -4.88L3.02 -3.62L3.15 -3.5L3.15 -3L3.27 -2.88L3.27 -2.38L3.4 -2.25L3.4 -1.75L3.53 -1.62L3.53 -1.38L4.79 1L4.79 1.25L5.04 1.75L5.42 2.12L5.42 2.25L6.67 4L6.8 4.38L8.31 5.88L8.82 6.12L9.07 6L9.32 5.62L9.19 5.5L9.19 5.25L7.56 3.62L6.05 0.62L6.05 0.38L5.92 0.25L5.92 0L5.79 -0.12L5.79 -0.38L5.67 -0.5L5.67 -0.75L5.29 -1.62L5.16 -2.62L5.04 -2.75L5.04 -3.25L4.91 -3.38L4.91 -3.88L4.79 -4L4.79 -4.5L4.66 -4.62L4.66 -5.12L4.53 -5.25L4.53 -9L4.66 -9.12L4.66 -9.62L4.79 -9.75L4.79 -10.25L4.91 -10.38L4.91 -11L5.04 -11.12L5.16 -12.25L5.54 -13.12L5.54 -13.5L5.67 -13.62L5.92 -14.62L7.56 -17.88L9.19 -19.5L9.19 -19.75L9.32 -19.88L9.19 -20.12Z"/>
<path transform="translate(38.1 298.42) rotate(-90)" fill="#000" fill-rule="evenodd" d="M11.61 -7.25L11.48 -7.12L10.08 -6.75L8.8 -5.5L8.55 -4.62L8.42 -4.5L8.42 -4.25L8.29 -4.12L8.29 -2.75L8.42 -2.62L8.8 -1.25L10.08 0L10.97 0.25L11.1 0.38L11.36 0.38L11.48 0.5L13.02 0.5L13.4 0.25L14.42 0L15.7 -1.25L15.7 -1.5L15.82 -1.62L15.82 -1.88L16.21 -2.75L16.21 -4.12L16.08 -4.25L16.08 -4.5L15.95 -4.62L15.7 -5.5L14.42 -6.75L14.16 -6.75L14.04 -6.88L13.78 -6.88L12.89 -7.25ZM11.87 -6.25L12.63 -6.25L13.4 -5.88L14.29 -4.88L14.55 -4L14.67 -3.88L14.67 -2.75L14.42 -2.38L14.29 -1.75L13.4 -0.88L12.63 -0.5L11.74 -0.5L11.23 -0.75L10.21 -1.75L10.08 -2.38L9.83 -2.75L9.83 -3.88L9.95 -4L10.21 -4.88L11.1 -5.88ZM19.65 -10.62L19.4 -10.5L19.14 -10.12L19.14 -7.38L19.01 -7.25L18.12 -7.25L17.86 -7.12L17.61 -6.75L17.74 -6.5L18.12 -6.25L19.01 -6.25L19.14 -6.12L19.14 -1.5L19.27 -1.38L19.52 -0.38L19.91 0L20.8 0.5L20.93 0.38L21.05 0.5L22.08 0.5L22.2 0.38L22.33 0.5L23.1 0.12L23.22 -0.12L23.61 -0.38L23.61 -0.62L23.99 -1.25L23.86 -1.38L23.99 -1.5L23.86 -1.75L23.48 -2L23.1 -1.75L22.84 -1.12L22.46 -0.75L21.95 -0.5L21.31 -0.5L20.93 -1L20.93 -1.25L20.54 -2.12L20.54 -6.12L20.67 -6.25L22.08 -6.25L22.33 -6.38L22.59 -6.75L22.46 -7L22.08 -7.25L20.67 -7.25L20.54 -7.38L20.54 -10.12L20.29 -10.5L20.03 -10.62L19.78 -10.5ZM2.42 -10.62L2.17 -10.5L1.91 -10.12L1.91 -7.38L1.79 -7.25L1.02 -7.25L0.77 -7.12L0.51 -6.75L0.64 -6.5L1.02 -6.25L1.79 -6.25L1.91 -6.12L1.91 -1.75L2.04 -1.62L2.04 -1.38L2.17 -1.25L2.42 -0.38L2.68 -0.12L2.68 0L3.7 0.5L3.83 0.38L3.96 0.5L4.85 0.5L4.98 0.38L5.1 0.5L6.12 0L6.12 -0.12L6.38 -0.25L6.76 -1L6.76 -1.38L6.89 -1.5L6.76 -1.75L6.38 -2L5.87 -1.62L5.61 -1L5.36 -0.75L4.85 -0.5L4.21 -0.5L3.83 -0.88L3.83 -1.12L3.45 -2L3.45 -6.12L3.57 -6.25L4.85 -6.25L5.1 -6.38L5.36 -6.75L5.23 -7L4.85 -7.25L3.57 -7.25L3.45 -7.38L3.45 -10.12L3.19 -10.5L2.93 -10.62L2.81 -10.5L2.55 -10.5Z"/>
<path transform="translate(29.9 275.39) rotate(-90)" fill="#000" fill-rule="evenodd" d="M2.39 -20.38L2.14 -20.25L1.89 -19.88L2.02 -19.75L2.02 -19.5L3.65 -17.88L5.29 -14.62L5.29 -14.38L5.67 -13.5L5.67 -13.12L6.05 -12.25L6.05 -11.75L6.17 -11.62L6.17 -11.12L6.3 -11L6.3 -10.5L6.42 -10.38L6.42 -9.88L6.55 -9.75L6.55 -9.25L6.67 -9.12L6.67 -5.25L6.55 -5.12L6.55 -4.62L6.42 -4.5L6.42 -4L6.3 -3.88L6.3 -3.38L6.17 -3.25L6.17 -2.75L6.05 -2.62L5.92 -1.62L5.79 -1.5L5.79 -1.25L5.67 -1.12L5.16 0.62L3.65 3.62L2.02 5.25L2.02 5.5L1.89 5.62L2.02 5.88L2.39 6.12L2.9 5.88L4.41 4.38L4.41 4.25L6.17 1.75L6.67 0.75L6.67 0.5L7.81 -1.75L7.81 -2.25L7.93 -2.38L7.93 -2.88L8.06 -3L8.06 -3.5L8.19 -3.62L8.19 -4.12L8.31 -4.25L8.31 -4.75L8.44 -4.88L8.44 -5.38L8.56 -5.5L8.56 -8.88L8.44 -9L8.44 -9.5L8.31 -9.62L8.31 -10.12L8.19 -10.25L8.19 -10.75L8.06 -10.88L8.06 -11.38L7.93 -11.5L7.93 -12L7.81 -12.12L7.81 -12.62L7.68 -12.75L7.68 -13L6.17 -16L5.29 -17.12L5.29 -17.25L4.53 -18.25L4.41 -18.62L2.77 -20.25L2.52 -20.25Z"/>
</g>
</svg>
</body></html>
